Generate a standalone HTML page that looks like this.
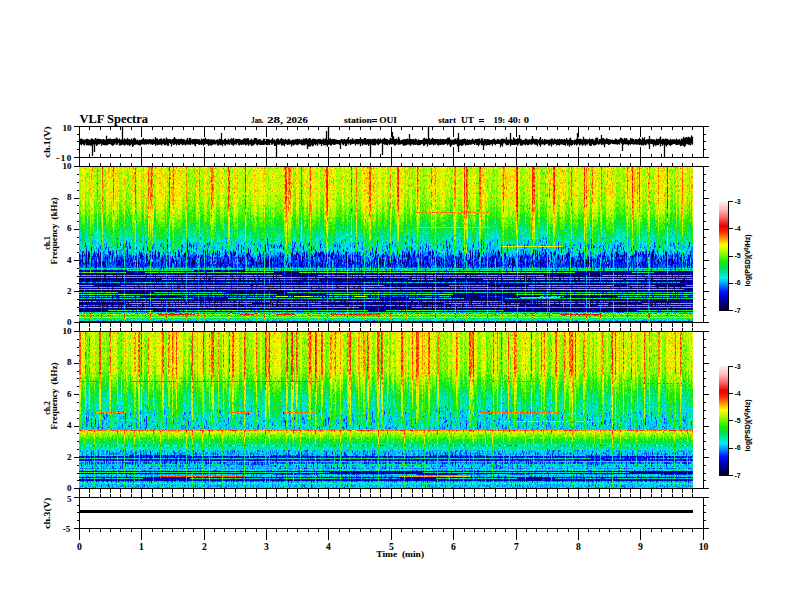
<!DOCTYPE html>
<html><head><meta charset="utf-8"><style>html,body{margin:0;padding:0;background:#fff;width:792px;height:612px;overflow:hidden}</style></head>
<body>
<svg width="792" height="612" viewBox="0 0 792 612" style="position:absolute;left:0;top:0">
<defs>
<filter id="cm1" filterUnits="userSpaceOnUse" x="79" y="167" width="614" height="155" color-interpolation-filters="sRGB">
<feTurbulence type="fractalNoise" baseFrequency="0.95 0.4" numOctaves="2" seed="6" result="n"/>
<feColorMatrix in="n" type="matrix" values="1 0 0 0 0  1 0 0 0 0  1 0 0 0 0  0 0 0 0 1" result="ng"/>
<feComposite in="SourceGraphic" in2="ng" operator="arithmetic" k1="0" k2="1" k3="0.26" k4="-0.13" result="v"/>
<feComponentTransfer in="v">
<feFuncR type="table" tableValues="0.059 0.047 0.035 0.024 0.012 0.000 0.000 0.000 0.000 0.000 0.000 0.000 0.000 0.000 0.000 0.000 0.000 0.000 0.000 0.000 0.000 0.000 0.000 0.000 0.000 0.000 0.000 0.000 0.000 0.000 0.000 0.000 0.000 0.029 0.059 0.088 0.118 0.186 0.255 0.324 0.392 0.480 0.569 0.657 0.745 0.809 0.873 0.936 1.000 1.000 1.000 1.000 1.000 1.000 1.000 1.000 1.000 1.000 1.000 0.980 0.961 0.941 0.922 0.935 0.948 0.961 0.974 0.987 1.000 1.000 1.000 1.000 1.000 1.000 1.000 1.000 1.000 1.000 1.000 1.000 1.000"/>
<feFuncG type="table" tableValues="0.000 0.000 0.000 0.000 0.000 0.000 0.000 0.000 0.000 0.000 0.000 0.020 0.039 0.059 0.078 0.167 0.255 0.343 0.431 0.520 0.608 0.696 0.784 0.863 0.941 0.931 0.922 0.912 0.902 0.897 0.892 0.887 0.882 0.892 0.902 0.912 0.922 0.936 0.951 0.966 0.980 0.980 0.980 0.980 0.980 0.985 0.990 0.995 1.000 0.915 0.830 0.745 0.654 0.562 0.471 0.382 0.294 0.206 0.118 0.088 0.059 0.029 0.000 0.065 0.131 0.196 0.261 0.327 0.392 0.451 0.510 0.569 0.627 0.686 0.745 0.779 0.813 0.847 0.881 0.915 0.949"/>
<feFuncB type="table" tableValues="0.137 0.196 0.255 0.314 0.373 0.431 0.502 0.573 0.643 0.714 0.784 0.838 0.892 0.946 1.000 1.000 1.000 1.000 1.000 1.000 1.000 1.000 1.000 0.971 0.941 0.853 0.765 0.676 0.588 0.510 0.431 0.353 0.275 0.206 0.137 0.069 0.000 0.000 0.000 0.000 0.000 0.000 0.000 0.000 0.000 0.000 0.000 0.000 0.000 0.000 0.000 0.000 0.000 0.000 0.000 0.000 0.000 0.000 0.000 0.000 0.000 0.000 0.000 0.065 0.131 0.196 0.261 0.327 0.392 0.451 0.510 0.569 0.627 0.686 0.745 0.781 0.817 0.853 0.889 0.925 0.961"/>
</feComponentTransfer></filter>
<filter id="cm2" filterUnits="userSpaceOnUse" x="79" y="332" width="614" height="156" color-interpolation-filters="sRGB">
<feTurbulence type="fractalNoise" baseFrequency="0.95 0.4" numOctaves="2" seed="11" result="n"/>
<feColorMatrix in="n" type="matrix" values="1 0 0 0 0  1 0 0 0 0  1 0 0 0 0  0 0 0 0 1" result="ng"/>
<feComposite in="SourceGraphic" in2="ng" operator="arithmetic" k1="0" k2="1" k3="0.26" k4="-0.13" result="v"/>
<feComponentTransfer in="v">
<feFuncR type="table" tableValues="0.059 0.047 0.035 0.024 0.012 0.000 0.000 0.000 0.000 0.000 0.000 0.000 0.000 0.000 0.000 0.000 0.000 0.000 0.000 0.000 0.000 0.000 0.000 0.000 0.000 0.000 0.000 0.000 0.000 0.000 0.000 0.000 0.000 0.029 0.059 0.088 0.118 0.186 0.255 0.324 0.392 0.480 0.569 0.657 0.745 0.809 0.873 0.936 1.000 1.000 1.000 1.000 1.000 1.000 1.000 1.000 1.000 1.000 1.000 0.980 0.961 0.941 0.922 0.935 0.948 0.961 0.974 0.987 1.000 1.000 1.000 1.000 1.000 1.000 1.000 1.000 1.000 1.000 1.000 1.000 1.000"/>
<feFuncG type="table" tableValues="0.000 0.000 0.000 0.000 0.000 0.000 0.000 0.000 0.000 0.000 0.000 0.020 0.039 0.059 0.078 0.167 0.255 0.343 0.431 0.520 0.608 0.696 0.784 0.863 0.941 0.931 0.922 0.912 0.902 0.897 0.892 0.887 0.882 0.892 0.902 0.912 0.922 0.936 0.951 0.966 0.980 0.980 0.980 0.980 0.980 0.985 0.990 0.995 1.000 0.915 0.830 0.745 0.654 0.562 0.471 0.382 0.294 0.206 0.118 0.088 0.059 0.029 0.000 0.065 0.131 0.196 0.261 0.327 0.392 0.451 0.510 0.569 0.627 0.686 0.745 0.779 0.813 0.847 0.881 0.915 0.949"/>
<feFuncB type="table" tableValues="0.137 0.196 0.255 0.314 0.373 0.431 0.502 0.573 0.643 0.714 0.784 0.838 0.892 0.946 1.000 1.000 1.000 1.000 1.000 1.000 1.000 1.000 1.000 0.971 0.941 0.853 0.765 0.676 0.588 0.510 0.431 0.353 0.275 0.206 0.137 0.069 0.000 0.000 0.000 0.000 0.000 0.000 0.000 0.000 0.000 0.000 0.000 0.000 0.000 0.000 0.000 0.000 0.000 0.000 0.000 0.000 0.000 0.000 0.000 0.000 0.000 0.000 0.000 0.065 0.131 0.196 0.261 0.327 0.392 0.451 0.510 0.569 0.627 0.686 0.745 0.781 0.817 0.853 0.889 0.925 0.961"/>
</feComponentTransfer></filter>
<filter id="dash1" x="0" y="0" width="1" height="1" color-interpolation-filters="sRGB">
<feTurbulence type="fractalNoise" baseFrequency="0.8 0.12" numOctaves="2" seed="10" result="t"/>
<feColorMatrix in="t" type="matrix" values="0 0 0 0 0  0 0 0 0 0  0 0 0 0 0  9 0 0 0 -4.9" result="m"/>
<feComposite in="m" in2="SourceGraphic" operator="in"/>
</filter>
<filter id="dash2" x="0" y="0" width="1" height="1" color-interpolation-filters="sRGB">
<feTurbulence type="fractalNoise" baseFrequency="0.8 0.12" numOctaves="2" seed="17" result="t"/>
<feColorMatrix in="t" type="matrix" values="0 0 0 0 0  0 0 0 0 0  0 0 0 0 0  9 0 0 0 -4.9" result="m"/>
<feComposite in="m" in2="SourceGraphic" operator="in"/>
</filter>
</defs>
<rect width="792" height="612" fill="#fff"/>
<g filter="url(#cm1)" shape-rendering="crispEdges">
<rect x="79" y="167" width="614" height="1" fill="#838383"/>
<rect x="79" y="168" width="614" height="1" fill="#838383"/>
<rect x="79" y="169" width="614" height="1" fill="#838383"/>
<rect x="79" y="170" width="614" height="1" fill="#828282"/>
<rect x="79" y="171" width="614" height="1" fill="#828282"/>
<rect x="79" y="172" width="614" height="1" fill="#828282"/>
<rect x="79" y="173" width="614" height="1" fill="#828282"/>
<rect x="79" y="174" width="614" height="1" fill="#828282"/>
<rect x="79" y="175" width="614" height="1" fill="#828282"/>
<rect x="79" y="176" width="614" height="1" fill="#828282"/>
<rect x="79" y="177" width="614" height="1" fill="#828282"/>
<rect x="79" y="178" width="614" height="1" fill="#828282"/>
<rect x="79" y="179" width="614" height="1" fill="#828282"/>
<rect x="79" y="180" width="614" height="1" fill="#828282"/>
<rect x="79" y="181" width="614" height="1" fill="#828282"/>
<rect x="79" y="182" width="614" height="1" fill="#818181"/>
<rect x="79" y="183" width="614" height="1" fill="#818181"/>
<rect x="79" y="184" width="614" height="1" fill="#818181"/>
<rect x="79" y="185" width="614" height="1" fill="#818181"/>
<rect x="79" y="186" width="614" height="1" fill="#818181"/>
<rect x="79" y="187" width="614" height="1" fill="#818181"/>
<rect x="79" y="188" width="614" height="1" fill="#818181"/>
<rect x="79" y="189" width="614" height="1" fill="#818181"/>
<rect x="79" y="190" width="614" height="1" fill="#818181"/>
<rect x="79" y="191" width="614" height="1" fill="#808080"/>
<rect x="79" y="192" width="614" height="1" fill="#808080"/>
<rect x="79" y="193" width="614" height="1" fill="#7f7f7f"/>
<rect x="79" y="194" width="614" height="1" fill="#7f7f7f"/>
<rect x="79" y="195" width="614" height="1" fill="#7f7f7f"/>
<rect x="79" y="196" width="614" height="1" fill="#7e7e7e"/>
<rect x="79" y="197" width="614" height="1" fill="#7e7e7e"/>
<rect x="79" y="198" width="614" height="1" fill="#7d7d7d"/>
<rect x="79" y="199" width="614" height="1" fill="#7d7d7d"/>
<rect x="79" y="200" width="614" height="1" fill="#7c7c7c"/>
<rect x="79" y="201" width="614" height="1" fill="#7b7b7b"/>
<rect x="79" y="202" width="614" height="1" fill="#7b7b7b"/>
<rect x="79" y="203" width="614" height="1" fill="#7a7a7a"/>
<rect x="79" y="204" width="614" height="1" fill="#797979"/>
<rect x="79" y="205" width="614" height="1" fill="#787878"/>
<rect x="79" y="206" width="614" height="1" fill="#777777"/>
<rect x="79" y="207" width="614" height="1" fill="#767676"/>
<rect x="79" y="208" width="614" height="1" fill="#757575"/>
<rect x="79" y="209" width="614" height="1" fill="#747474"/>
<rect x="79" y="210" width="614" height="1" fill="#737373"/>
<rect x="79" y="211" width="614" height="1" fill="#727272"/>
<rect x="79" y="212" width="614" height="1" fill="#717171"/>
<rect x="79" y="213" width="614" height="1" fill="#707070"/>
<rect x="79" y="214" width="614" height="1" fill="#6e6e6e"/>
<rect x="79" y="215" width="614" height="1" fill="#6d6d6d"/>
<rect x="79" y="216" width="614" height="1" fill="#6b6b6b"/>
<rect x="79" y="217" width="614" height="1" fill="#696969"/>
<rect x="79" y="218" width="614" height="1" fill="#686868"/>
<rect x="79" y="219" width="614" height="1" fill="#666666"/>
<rect x="79" y="220" width="614" height="1" fill="#656565"/>
<rect x="79" y="221" width="614" height="1" fill="#636363"/>
<rect x="79" y="222" width="614" height="1" fill="#616161"/>
<rect x="79" y="223" width="614" height="1" fill="#606060"/>
<rect x="79" y="224" width="614" height="1" fill="#5e5e5e"/>
<rect x="79" y="225" width="614" height="1" fill="#5d5d5d"/>
<rect x="79" y="226" width="614" height="1" fill="#5b5b5b"/>
<rect x="79" y="227" width="614" height="1" fill="#595959"/>
<rect x="79" y="228" width="614" height="1" fill="#585858"/>
<rect x="79" y="229" width="614" height="1" fill="#565656"/>
<rect x="79" y="230" width="614" height="1" fill="#555555"/>
<rect x="79" y="231" width="614" height="1" fill="#545454"/>
<rect x="79" y="232" width="614" height="1" fill="#525252"/>
<rect x="79" y="233" width="614" height="1" fill="#515151"/>
<rect x="79" y="234" width="614" height="1" fill="#505050"/>
<rect x="79" y="235" width="614" height="1" fill="#4f4f4f"/>
<rect x="79" y="236" width="614" height="1" fill="#4e4e4e"/>
<rect x="79" y="237" width="614" height="1" fill="#4c4c4c"/>
<rect x="79" y="238" width="614" height="1" fill="#4b4b4b"/>
<rect x="79" y="239" width="614" height="1" fill="#4a4a4a"/>
<rect x="79" y="240" width="614" height="1" fill="#494949"/>
<rect x="79" y="241" width="614" height="1" fill="#484848"/>
<rect x="79" y="242" width="614" height="1" fill="#474747"/>
<rect x="79" y="243" width="614" height="1" fill="#454545"/>
<rect x="79" y="244" width="614" height="1" fill="#444444"/>
<rect x="79" y="245" width="614" height="1" fill="#434343"/>
<rect x="79" y="246" width="614" height="1" fill="#424242"/>
<rect x="79" y="247" width="614" height="1" fill="#424242"/>
<rect x="79" y="248" width="614" height="1" fill="#414141"/>
<rect x="79" y="249" width="614" height="1" fill="#404040"/>
<rect x="79" y="250" width="614" height="1" fill="#404040"/>
<rect x="79" y="251" width="614" height="1" fill="#3d3d3d"/>
<rect x="79" y="252" width="614" height="1" fill="#3b3b3b"/>
<rect x="79" y="253" width="614" height="1" fill="#393939"/>
<rect x="79" y="254" width="614" height="1" fill="#363636"/>
<rect x="79" y="255" width="614" height="1" fill="#313131"/>
<rect x="79" y="256" width="614" height="1" fill="#2d2d2d"/>
<rect x="79" y="257" width="614" height="1" fill="#2c2c2c"/>
<rect x="79" y="258" width="614" height="1" fill="#2c2c2c"/>
<rect x="79" y="259" width="614" height="1" fill="#2c2c2c"/>
<rect x="79" y="260" width="614" height="1" fill="#2b2b2b"/>
<rect x="79" y="261" width="614" height="1" fill="#2b2b2b"/>
<rect x="79" y="262" width="614" height="1" fill="#2b2b2b"/>
<rect x="79" y="263" width="614" height="1" fill="#2a2a2a"/>
<rect x="79" y="264" width="614" height="1" fill="#2a2a2a"/>
<rect x="79" y="265" width="614" height="1" fill="#292929"/>
<rect x="79" y="266" width="614" height="1" fill="#2e2e2e"/>
<rect x="79" y="267" width="614" height="1" fill="#333333"/>
<rect x="79" y="268" width="614" height="1" fill="#535353"/>
<rect x="79" y="269" width="614" height="1" fill="#404040"/>
<rect x="79" y="270" width="614" height="1" fill="#101010"/>
<rect x="79" y="271" width="614" height="1" fill="#101010"/>
<rect x="79" y="272" width="614" height="1" fill="#101010"/>
<rect x="79" y="273" width="614" height="1" fill="#101010"/>
<rect x="79" y="274" width="614" height="1" fill="#101010"/>
<rect x="79" y="275" width="614" height="1" fill="#101010"/>
<rect x="79" y="276" width="614" height="1" fill="#101010"/>
<rect x="79" y="277" width="614" height="1" fill="#101010"/>
<rect x="79" y="278" width="614" height="1" fill="#101010"/>
<rect x="79" y="279" width="614" height="1" fill="#101010"/>
<rect x="79" y="280" width="614" height="1" fill="#101010"/>
<rect x="79" y="281" width="614" height="1" fill="#101010"/>
<rect x="79" y="282" width="614" height="1" fill="#101010"/>
<rect x="79" y="283" width="614" height="1" fill="#101010"/>
<rect x="79" y="284" width="614" height="1" fill="#101010"/>
<rect x="79" y="285" width="614" height="1" fill="#101010"/>
<rect x="79" y="286" width="614" height="1" fill="#101010"/>
<rect x="79" y="287" width="614" height="1" fill="#101010"/>
<rect x="79" y="288" width="614" height="1" fill="#101010"/>
<rect x="79" y="289" width="614" height="1" fill="#101010"/>
<rect x="79" y="290" width="614" height="1" fill="#101010"/>
<rect x="79" y="291" width="614" height="1" fill="#101010"/>
<rect x="79" y="292" width="614" height="1" fill="#101010"/>
<rect x="79" y="293" width="614" height="1" fill="#101010"/>
<rect x="79" y="294" width="614" height="1" fill="#101010"/>
<rect x="79" y="295" width="614" height="1" fill="#101010"/>
<rect x="79" y="296" width="614" height="1" fill="#101010"/>
<rect x="79" y="297" width="614" height="1" fill="#101010"/>
<rect x="79" y="298" width="614" height="1" fill="#101010"/>
<rect x="79" y="299" width="614" height="1" fill="#101010"/>
<rect x="79" y="300" width="614" height="1" fill="#101010"/>
<rect x="79" y="301" width="614" height="1" fill="#101010"/>
<rect x="79" y="302" width="614" height="1" fill="#101010"/>
<rect x="79" y="303" width="614" height="1" fill="#101010"/>
<rect x="79" y="304" width="614" height="1" fill="#101010"/>
<rect x="79" y="305" width="614" height="1" fill="#101010"/>
<rect x="79" y="306" width="614" height="1" fill="#101010"/>
<rect x="79" y="307" width="614" height="1" fill="#101010"/>
<rect x="79" y="308" width="614" height="1" fill="#101010"/>
<rect x="79" y="309" width="614" height="1" fill="#101010"/>
<rect x="79" y="310" width="614" height="1" fill="#101010"/>
<rect x="79" y="311" width="614" height="1" fill="#101010"/>
<rect x="79" y="312" width="614" height="1" fill="#595959"/>
<rect x="79" y="313" width="614" height="1" fill="#b2b2b2"/>
<rect x="79" y="314" width="614" height="1" fill="#808080"/>
<rect x="79" y="315" width="614" height="1" fill="#a9a9a9"/>
<rect x="79" y="316" width="614" height="1" fill="#737373"/>
<rect x="79" y="317" width="614" height="1" fill="#939393"/>
<rect x="79" y="318" width="614" height="1" fill="#606060"/>
<rect x="79" y="319" width="614" height="1" fill="#494949"/>
<rect x="79" y="320" width="614" height="1" fill="#464646"/>
<rect x="79" y="321" width="614" height="1" fill="#131313"/>
<rect x="79" y="270" width="48" height="1" fill="#1b1b1b"/>
<rect x="127" y="270" width="18" height="1" fill="#5a5a5a"/>
<rect x="145" y="270" width="49" height="1" fill="#6a6a6a"/>
<rect x="194" y="270" width="51" height="1" fill="#191919"/>
<rect x="245" y="270" width="51" height="1" fill="#595959"/>
<rect x="296" y="270" width="45" height="1" fill="#525252"/>
<rect x="341" y="270" width="45" height="1" fill="#545454"/>
<rect x="386" y="270" width="47" height="1" fill="#565656"/>
<rect x="433" y="270" width="62" height="1" fill="#5b5b5b"/>
<rect x="495" y="270" width="30" height="1" fill="#545454"/>
<rect x="525" y="270" width="38" height="1" fill="#585858"/>
<rect x="563" y="270" width="26" height="1" fill="#595959"/>
<rect x="589" y="270" width="16" height="1" fill="#5d5d5d"/>
<rect x="605" y="270" width="40" height="1" fill="#545454"/>
<rect x="645" y="270" width="33" height="1" fill="#5c5c5c"/>
<rect x="678" y="270" width="15" height="1" fill="#686868"/>
<rect x="79" y="272" width="47" height="1" fill="#767676"/>
<rect x="126" y="272" width="19" height="1" fill="#1a1a1a"/>
<rect x="145" y="272" width="40" height="1" fill="#707070"/>
<rect x="185" y="272" width="25" height="1" fill="#676767"/>
<rect x="210" y="272" width="64" height="1" fill="#757575"/>
<rect x="274" y="272" width="25" height="1" fill="#0f0f0f"/>
<rect x="299" y="272" width="54" height="1" fill="#818181"/>
<rect x="353" y="272" width="26" height="1" fill="#747474"/>
<rect x="379" y="272" width="68" height="1" fill="#7c7c7c"/>
<rect x="447" y="272" width="38" height="1" fill="#7c7c7c"/>
<rect x="485" y="272" width="17" height="1" fill="#636363"/>
<rect x="502" y="272" width="28" height="1" fill="#838383"/>
<rect x="530" y="272" width="45" height="1" fill="#777777"/>
<rect x="575" y="272" width="57" height="1" fill="#161616"/>
<rect x="632" y="272" width="22" height="1" fill="#696969"/>
<rect x="654" y="272" width="39" height="1" fill="#101010"/>
<rect x="79" y="275" width="34" height="1" fill="#505050"/>
<rect x="113" y="275" width="49" height="1" fill="#474747"/>
<rect x="162" y="275" width="19" height="1" fill="#646464"/>
<rect x="181" y="275" width="17" height="1" fill="#515151"/>
<rect x="198" y="275" width="50" height="1" fill="#484848"/>
<rect x="248" y="275" width="34" height="1" fill="#4c4c4c"/>
<rect x="282" y="275" width="36" height="1" fill="#0b0b0b"/>
<rect x="318" y="275" width="45" height="1" fill="#464646"/>
<rect x="363" y="275" width="53" height="1" fill="#585858"/>
<rect x="416" y="275" width="52" height="1" fill="#4a4a4a"/>
<rect x="468" y="275" width="17" height="1" fill="#474747"/>
<rect x="485" y="275" width="59" height="1" fill="#4a4a4a"/>
<rect x="544" y="275" width="58" height="1" fill="#111111"/>
<rect x="602" y="275" width="42" height="1" fill="#515151"/>
<rect x="644" y="275" width="48" height="1" fill="#5f5f5f"/>
<rect x="692" y="275" width="1" height="1" fill="#606060"/>
<rect x="79" y="277" width="52" height="1" fill="#606060"/>
<rect x="131" y="277" width="68" height="1" fill="#5c5c5c"/>
<rect x="199" y="277" width="16" height="1" fill="#5a5a5a"/>
<rect x="215" y="277" width="58" height="1" fill="#616161"/>
<rect x="273" y="277" width="56" height="1" fill="#5a5a5a"/>
<rect x="329" y="277" width="33" height="1" fill="#626262"/>
<rect x="362" y="277" width="52" height="1" fill="#515151"/>
<rect x="414" y="277" width="58" height="1" fill="#575757"/>
<rect x="472" y="277" width="18" height="1" fill="#616161"/>
<rect x="490" y="277" width="53" height="1" fill="#565656"/>
<rect x="543" y="277" width="63" height="1" fill="#535353"/>
<rect x="606" y="277" width="35" height="1" fill="#6f6f6f"/>
<rect x="641" y="277" width="40" height="1" fill="#636363"/>
<rect x="681" y="277" width="12" height="1" fill="#686868"/>
<rect x="79" y="279" width="43" height="1" fill="#0b0b0b"/>
<rect x="122" y="279" width="40" height="1" fill="#1d1d1d"/>
<rect x="162" y="279" width="44" height="1" fill="#555555"/>
<rect x="206" y="279" width="26" height="1" fill="#4b4b4b"/>
<rect x="232" y="279" width="30" height="1" fill="#464646"/>
<rect x="262" y="279" width="57" height="1" fill="#3b3b3b"/>
<rect x="319" y="279" width="55" height="1" fill="#0d0d0d"/>
<rect x="374" y="279" width="34" height="1" fill="#0b0b0b"/>
<rect x="408" y="279" width="27" height="1" fill="#464646"/>
<rect x="435" y="279" width="48" height="1" fill="#121212"/>
<rect x="483" y="279" width="63" height="1" fill="#4b4b4b"/>
<rect x="546" y="279" width="63" height="1" fill="#434343"/>
<rect x="609" y="279" width="56" height="1" fill="#555555"/>
<rect x="665" y="279" width="28" height="1" fill="#4e4e4e"/>
<rect x="79" y="282" width="64" height="1" fill="#3e3e3e"/>
<rect x="143" y="282" width="35" height="1" fill="#474747"/>
<rect x="178" y="282" width="54" height="1" fill="#383838"/>
<rect x="232" y="282" width="42" height="1" fill="#383838"/>
<rect x="274" y="282" width="24" height="1" fill="#393939"/>
<rect x="298" y="282" width="66" height="1" fill="#313131"/>
<rect x="364" y="282" width="24" height="1" fill="#4a4a4a"/>
<rect x="388" y="282" width="21" height="1" fill="#484848"/>
<rect x="409" y="282" width="47" height="1" fill="#454545"/>
<rect x="456" y="282" width="65" height="1" fill="#3a3a3a"/>
<rect x="521" y="282" width="41" height="1" fill="#474747"/>
<rect x="562" y="282" width="36" height="1" fill="#3f3f3f"/>
<rect x="598" y="282" width="28" height="1" fill="#464646"/>
<rect x="626" y="282" width="54" height="1" fill="#3f3f3f"/>
<rect x="680" y="282" width="13" height="1" fill="#151515"/>
<rect x="79" y="285" width="15" height="1" fill="#6e6e6e"/>
<rect x="94" y="285" width="27" height="1" fill="#111111"/>
<rect x="121" y="285" width="33" height="1" fill="#656565"/>
<rect x="154" y="285" width="35" height="1" fill="#656565"/>
<rect x="189" y="285" width="15" height="1" fill="#6c6c6c"/>
<rect x="204" y="285" width="36" height="1" fill="#656565"/>
<rect x="240" y="285" width="49" height="1" fill="#525252"/>
<rect x="289" y="285" width="39" height="1" fill="#727272"/>
<rect x="328" y="285" width="56" height="1" fill="#757575"/>
<rect x="384" y="285" width="65" height="1" fill="#0d0d0d"/>
<rect x="449" y="285" width="37" height="1" fill="#696969"/>
<rect x="486" y="285" width="43" height="1" fill="#171717"/>
<rect x="529" y="285" width="17" height="1" fill="#515151"/>
<rect x="546" y="285" width="37" height="1" fill="#6a6a6a"/>
<rect x="583" y="285" width="30" height="1" fill="#707070"/>
<rect x="613" y="285" width="16" height="1" fill="#1c1c1c"/>
<rect x="629" y="285" width="26" height="1" fill="#616161"/>
<rect x="655" y="285" width="31" height="1" fill="#111111"/>
<rect x="686" y="285" width="7" height="1" fill="#5e5e5e"/>
<rect x="79" y="287" width="63" height="1" fill="#696969"/>
<rect x="142" y="287" width="54" height="1" fill="#6a6a6a"/>
<rect x="196" y="287" width="24" height="1" fill="#767676"/>
<rect x="220" y="287" width="53" height="1" fill="#696969"/>
<rect x="273" y="287" width="38" height="1" fill="#676767"/>
<rect x="311" y="287" width="53" height="1" fill="#5a5a5a"/>
<rect x="364" y="287" width="36" height="1" fill="#757575"/>
<rect x="400" y="287" width="41" height="1" fill="#616161"/>
<rect x="441" y="287" width="61" height="1" fill="#696969"/>
<rect x="502" y="287" width="65" height="1" fill="#6a6a6a"/>
<rect x="567" y="287" width="20" height="1" fill="#6b6b6b"/>
<rect x="587" y="287" width="59" height="1" fill="#656565"/>
<rect x="646" y="287" width="47" height="1" fill="#656565"/>
<rect x="79" y="289" width="25" height="1" fill="#767676"/>
<rect x="104" y="289" width="50" height="1" fill="#808080"/>
<rect x="154" y="289" width="32" height="1" fill="#767676"/>
<rect x="186" y="289" width="63" height="1" fill="#6b6b6b"/>
<rect x="249" y="289" width="29" height="1" fill="#767676"/>
<rect x="278" y="289" width="32" height="1" fill="#8b8b8b"/>
<rect x="310" y="289" width="68" height="1" fill="#707070"/>
<rect x="378" y="289" width="57" height="1" fill="#696969"/>
<rect x="435" y="289" width="54" height="1" fill="#707070"/>
<rect x="489" y="289" width="27" height="1" fill="#737373"/>
<rect x="516" y="289" width="41" height="1" fill="#737373"/>
<rect x="557" y="289" width="59" height="1" fill="#848484"/>
<rect x="616" y="289" width="68" height="1" fill="#7b7b7b"/>
<rect x="684" y="289" width="9" height="1" fill="#0c0c0c"/>
<rect x="79" y="292" width="39" height="1" fill="#797979"/>
<rect x="118" y="292" width="36" height="1" fill="#0f0f0f"/>
<rect x="154" y="292" width="27" height="1" fill="#5c5c5c"/>
<rect x="181" y="292" width="46" height="1" fill="#545454"/>
<rect x="227" y="292" width="60" height="1" fill="#0b0b0b"/>
<rect x="287" y="292" width="62" height="1" fill="#636363"/>
<rect x="349" y="292" width="67" height="1" fill="#6c6c6c"/>
<rect x="416" y="292" width="28" height="1" fill="#616161"/>
<rect x="444" y="292" width="58" height="1" fill="#575757"/>
<rect x="502" y="292" width="17" height="1" fill="#666666"/>
<rect x="519" y="292" width="64" height="1" fill="#6e6e6e"/>
<rect x="583" y="292" width="64" height="1" fill="#575757"/>
<rect x="647" y="292" width="39" height="1" fill="#5f5f5f"/>
<rect x="686" y="292" width="7" height="1" fill="#595959"/>
<rect x="79" y="294" width="51" height="1" fill="#7c7c7c"/>
<rect x="130" y="294" width="59" height="1" fill="#727272"/>
<rect x="189" y="294" width="39" height="1" fill="#747474"/>
<rect x="228" y="294" width="49" height="1" fill="#656565"/>
<rect x="277" y="294" width="49" height="1" fill="#141414"/>
<rect x="326" y="294" width="67" height="1" fill="#7f7f7f"/>
<rect x="393" y="294" width="20" height="1" fill="#6d6d6d"/>
<rect x="413" y="294" width="40" height="1" fill="#7f7f7f"/>
<rect x="453" y="294" width="63" height="1" fill="#101010"/>
<rect x="516" y="294" width="66" height="1" fill="#797979"/>
<rect x="582" y="294" width="65" height="1" fill="#7f7f7f"/>
<rect x="647" y="294" width="17" height="1" fill="#767676"/>
<rect x="664" y="294" width="24" height="1" fill="#7e7e7e"/>
<rect x="688" y="294" width="5" height="1" fill="#757575"/>
<rect x="79" y="296" width="61" height="1" fill="#424242"/>
<rect x="140" y="296" width="42" height="1" fill="#0f0f0f"/>
<rect x="182" y="296" width="47" height="1" fill="#363636"/>
<rect x="229" y="296" width="49" height="1" fill="#3c3c3c"/>
<rect x="278" y="296" width="19" height="1" fill="#3d3d3d"/>
<rect x="297" y="296" width="26" height="1" fill="#484848"/>
<rect x="323" y="296" width="15" height="1" fill="#525252"/>
<rect x="338" y="296" width="19" height="1" fill="#434343"/>
<rect x="357" y="296" width="34" height="1" fill="#3a3a3a"/>
<rect x="391" y="296" width="39" height="1" fill="#323232"/>
<rect x="430" y="296" width="21" height="1" fill="#3e3e3e"/>
<rect x="451" y="296" width="27" height="1" fill="#0e0e0e"/>
<rect x="478" y="296" width="27" height="1" fill="#2c2c2c"/>
<rect x="505" y="296" width="35" height="1" fill="#0f0f0f"/>
<rect x="540" y="296" width="24" height="1" fill="#4b4b4b"/>
<rect x="564" y="296" width="54" height="1" fill="#0b0b0b"/>
<rect x="618" y="296" width="38" height="1" fill="#585858"/>
<rect x="656" y="296" width="19" height="1" fill="#464646"/>
<rect x="675" y="296" width="18" height="1" fill="#474747"/>
<rect x="79" y="298" width="46" height="1" fill="#505050"/>
<rect x="125" y="298" width="47" height="1" fill="#606060"/>
<rect x="172" y="298" width="22" height="1" fill="#535353"/>
<rect x="194" y="298" width="34" height="1" fill="#1a1a1a"/>
<rect x="228" y="298" width="54" height="1" fill="#5e5e5e"/>
<rect x="282" y="298" width="37" height="1" fill="#636363"/>
<rect x="319" y="298" width="61" height="1" fill="#5b5b5b"/>
<rect x="380" y="298" width="29" height="1" fill="#141414"/>
<rect x="409" y="298" width="21" height="1" fill="#5a5a5a"/>
<rect x="430" y="298" width="34" height="1" fill="#4b4b4b"/>
<rect x="464" y="298" width="41" height="1" fill="#0f0f0f"/>
<rect x="505" y="298" width="61" height="1" fill="#5d5d5d"/>
<rect x="566" y="298" width="63" height="1" fill="#696969"/>
<rect x="629" y="298" width="53" height="1" fill="#696969"/>
<rect x="682" y="298" width="11" height="1" fill="#6d6d6d"/>
<rect x="79" y="301" width="17" height="1" fill="#4b4b4b"/>
<rect x="96" y="301" width="29" height="1" fill="#3b3b3b"/>
<rect x="125" y="301" width="61" height="1" fill="#414141"/>
<rect x="186" y="301" width="23" height="1" fill="#373737"/>
<rect x="209" y="301" width="36" height="1" fill="#383838"/>
<rect x="245" y="301" width="48" height="1" fill="#414141"/>
<rect x="293" y="301" width="42" height="1" fill="#3d3d3d"/>
<rect x="335" y="301" width="48" height="1" fill="#474747"/>
<rect x="383" y="301" width="65" height="1" fill="#434343"/>
<rect x="448" y="301" width="27" height="1" fill="#404040"/>
<rect x="475" y="301" width="28" height="1" fill="#474747"/>
<rect x="503" y="301" width="27" height="1" fill="#161616"/>
<rect x="530" y="301" width="54" height="1" fill="#3e3e3e"/>
<rect x="584" y="301" width="57" height="1" fill="#3c3c3c"/>
<rect x="641" y="301" width="52" height="1" fill="#1b1b1b"/>
<rect x="79" y="303" width="47" height="1" fill="#0c0c0c"/>
<rect x="126" y="303" width="17" height="1" fill="#575757"/>
<rect x="143" y="303" width="49" height="1" fill="#5c5c5c"/>
<rect x="192" y="303" width="60" height="1" fill="#5e5e5e"/>
<rect x="252" y="303" width="19" height="1" fill="#0b0b0b"/>
<rect x="271" y="303" width="20" height="1" fill="#525252"/>
<rect x="291" y="303" width="30" height="1" fill="#4c4c4c"/>
<rect x="321" y="303" width="30" height="1" fill="#121212"/>
<rect x="351" y="303" width="47" height="1" fill="#191919"/>
<rect x="398" y="303" width="46" height="1" fill="#1a1a1a"/>
<rect x="444" y="303" width="30" height="1" fill="#4e4e4e"/>
<rect x="474" y="303" width="65" height="1" fill="#3f3f3f"/>
<rect x="539" y="303" width="27" height="1" fill="#4b4b4b"/>
<rect x="566" y="303" width="43" height="1" fill="#515151"/>
<rect x="609" y="303" width="33" height="1" fill="#131313"/>
<rect x="642" y="303" width="39" height="1" fill="#464646"/>
<rect x="681" y="303" width="12" height="1" fill="#515151"/>
<rect x="79" y="305" width="27" height="1" fill="#373737"/>
<rect x="106" y="305" width="16" height="1" fill="#3b3b3b"/>
<rect x="122" y="305" width="48" height="1" fill="#3a3a3a"/>
<rect x="170" y="305" width="34" height="1" fill="#4d4d4d"/>
<rect x="204" y="305" width="47" height="1" fill="#383838"/>
<rect x="251" y="305" width="29" height="1" fill="#3a3a3a"/>
<rect x="280" y="305" width="32" height="1" fill="#343434"/>
<rect x="312" y="305" width="32" height="1" fill="#565656"/>
<rect x="344" y="305" width="21" height="1" fill="#404040"/>
<rect x="365" y="305" width="49" height="1" fill="#444444"/>
<rect x="414" y="305" width="66" height="1" fill="#3b3b3b"/>
<rect x="480" y="305" width="39" height="1" fill="#484848"/>
<rect x="519" y="305" width="21" height="1" fill="#1a1a1a"/>
<rect x="540" y="305" width="58" height="1" fill="#272727"/>
<rect x="598" y="305" width="68" height="1" fill="#464646"/>
<rect x="666" y="305" width="27" height="1" fill="#464646"/>
<rect x="79" y="307" width="37" height="1" fill="#595959"/>
<rect x="116" y="307" width="39" height="1" fill="#6a6a6a"/>
<rect x="155" y="307" width="43" height="1" fill="#7d7d7d"/>
<rect x="198" y="307" width="66" height="1" fill="#777777"/>
<rect x="264" y="307" width="43" height="1" fill="#6e6e6e"/>
<rect x="307" y="307" width="52" height="1" fill="#676767"/>
<rect x="359" y="307" width="52" height="1" fill="#181818"/>
<rect x="411" y="307" width="49" height="1" fill="#535353"/>
<rect x="460" y="307" width="63" height="1" fill="#5b5b5b"/>
<rect x="523" y="307" width="69" height="1" fill="#666666"/>
<rect x="592" y="307" width="69" height="1" fill="#6d6d6d"/>
<rect x="661" y="307" width="22" height="1" fill="#636363"/>
<rect x="683" y="307" width="10" height="1" fill="#5e5e5e"/>
<rect x="79" y="310" width="29" height="1" fill="#0d0d0d"/>
<rect x="108" y="310" width="45" height="1" fill="#767676"/>
<rect x="153" y="310" width="24" height="1" fill="#0e0e0e"/>
<rect x="177" y="310" width="29" height="1" fill="#666666"/>
<rect x="206" y="310" width="56" height="1" fill="#7f7f7f"/>
<rect x="262" y="310" width="44" height="1" fill="#7f7f7f"/>
<rect x="306" y="310" width="62" height="1" fill="#6e6e6e"/>
<rect x="368" y="310" width="18" height="1" fill="#101010"/>
<rect x="386" y="310" width="55" height="1" fill="#7a7a7a"/>
<rect x="441" y="310" width="21" height="1" fill="#727272"/>
<rect x="462" y="310" width="42" height="1" fill="#656565"/>
<rect x="504" y="310" width="63" height="1" fill="#131313"/>
<rect x="567" y="310" width="33" height="1" fill="#181818"/>
<rect x="600" y="310" width="37" height="1" fill="#121212"/>
<rect x="637" y="310" width="41" height="1" fill="#676767"/>
<rect x="678" y="310" width="15" height="1" fill="#646464"/>
<linearGradient id="sa1" x1="0" y1="0" x2="0" y2="1"><stop offset="0.000" stop-color="#fff" stop-opacity="0.513"/><stop offset="0.013" stop-color="#fff" stop-opacity="0.515"/><stop offset="0.026" stop-color="#fff" stop-opacity="0.516"/><stop offset="0.039" stop-color="#fff" stop-opacity="0.518"/><stop offset="0.052" stop-color="#fff" stop-opacity="0.519"/><stop offset="0.065" stop-color="#fff" stop-opacity="0.521"/><stop offset="0.078" stop-color="#fff" stop-opacity="0.522"/><stop offset="0.091" stop-color="#fff" stop-opacity="0.524"/><stop offset="0.104" stop-color="#fff" stop-opacity="0.525"/><stop offset="0.117" stop-color="#fff" stop-opacity="0.527"/><stop offset="0.130" stop-color="#fff" stop-opacity="0.528"/><stop offset="0.143" stop-color="#fff" stop-opacity="0.530"/><stop offset="0.156" stop-color="#fff" stop-opacity="0.530"/><stop offset="0.169" stop-color="#fff" stop-opacity="0.528"/><stop offset="0.182" stop-color="#fff" stop-opacity="0.527"/><stop offset="0.195" stop-color="#fff" stop-opacity="0.525"/><stop offset="0.208" stop-color="#fff" stop-opacity="0.524"/><stop offset="0.221" stop-color="#fff" stop-opacity="0.520"/><stop offset="0.234" stop-color="#fff" stop-opacity="0.515"/><stop offset="0.247" stop-color="#fff" stop-opacity="0.511"/><stop offset="0.260" stop-color="#fff" stop-opacity="0.506"/><stop offset="0.273" stop-color="#fff" stop-opacity="0.501"/><stop offset="0.286" stop-color="#fff" stop-opacity="0.497"/><stop offset="0.299" stop-color="#fff" stop-opacity="0.490"/><stop offset="0.312" stop-color="#fff" stop-opacity="0.482"/><stop offset="0.325" stop-color="#fff" stop-opacity="0.474"/><stop offset="0.338" stop-color="#fff" stop-opacity="0.467"/><stop offset="0.351" stop-color="#fff" stop-opacity="0.460"/><stop offset="0.364" stop-color="#fff" stop-opacity="0.453"/><stop offset="0.377" stop-color="#fff" stop-opacity="0.447"/><stop offset="0.390" stop-color="#fff" stop-opacity="0.441"/><stop offset="0.403" stop-color="#fff" stop-opacity="0.435"/><stop offset="0.416" stop-color="#fff" stop-opacity="0.431"/><stop offset="0.429" stop-color="#fff" stop-opacity="0.427"/><stop offset="0.442" stop-color="#fff" stop-opacity="0.424"/><stop offset="0.455" stop-color="#fff" stop-opacity="0.421"/><stop offset="0.468" stop-color="#fff" stop-opacity="0.417"/><stop offset="0.481" stop-color="#fff" stop-opacity="0.414"/><stop offset="0.494" stop-color="#fff" stop-opacity="0.411"/><stop offset="0.506" stop-color="#fff" stop-opacity="0.401"/><stop offset="0.519" stop-color="#fff" stop-opacity="0.388"/><stop offset="0.532" stop-color="#fff" stop-opacity="0.374"/><stop offset="0.545" stop-color="#fff" stop-opacity="0.342"/><stop offset="0.558" stop-color="#fff" stop-opacity="0.286"/><stop offset="0.571" stop-color="#fff" stop-opacity="0.231"/><stop offset="0.584" stop-color="#fff" stop-opacity="0.203"/><stop offset="0.597" stop-color="#fff" stop-opacity="0.180"/><stop offset="0.610" stop-color="#fff" stop-opacity="0.157"/><stop offset="0.623" stop-color="#fff" stop-opacity="0.135"/><stop offset="0.636" stop-color="#fff" stop-opacity="0.112"/><stop offset="0.649" stop-color="#fff" stop-opacity="0.101"/><stop offset="0.662" stop-color="#fff" stop-opacity="0.093"/><stop offset="0.675" stop-color="#fff" stop-opacity="0.063"/><stop offset="0.688" stop-color="#fff" stop-opacity="0.051"/><stop offset="0.701" stop-color="#fff" stop-opacity="0.040"/><stop offset="0.714" stop-color="#fff" stop-opacity="0.039"/><stop offset="0.727" stop-color="#fff" stop-opacity="0.039"/><stop offset="0.740" stop-color="#fff" stop-opacity="0.038"/><stop offset="0.753" stop-color="#fff" stop-opacity="0.038"/><stop offset="0.766" stop-color="#fff" stop-opacity="0.037"/><stop offset="0.779" stop-color="#fff" stop-opacity="0.037"/><stop offset="0.792" stop-color="#fff" stop-opacity="0.036"/><stop offset="0.805" stop-color="#fff" stop-opacity="0.035"/><stop offset="0.818" stop-color="#fff" stop-opacity="0.035"/><stop offset="0.831" stop-color="#fff" stop-opacity="0.034"/><stop offset="0.844" stop-color="#fff" stop-opacity="0.034"/><stop offset="0.857" stop-color="#fff" stop-opacity="0.033"/><stop offset="0.870" stop-color="#fff" stop-opacity="0.033"/><stop offset="0.883" stop-color="#fff" stop-opacity="0.032"/><stop offset="0.896" stop-color="#fff" stop-opacity="0.031"/><stop offset="0.909" stop-color="#fff" stop-opacity="0.031"/><stop offset="0.922" stop-color="#fff" stop-opacity="0.030"/><stop offset="0.935" stop-color="#fff" stop-opacity="0.030"/><stop offset="0.948" stop-color="#fff" stop-opacity="0.091"/><stop offset="0.961" stop-color="#fff" stop-opacity="0.079"/><stop offset="0.974" stop-color="#fff" stop-opacity="0.062"/><stop offset="0.987" stop-color="#fff" stop-opacity="0.036"/><stop offset="1.000" stop-color="#fff" stop-opacity="0.027"/><stop offset="1.000" stop-color="#fff" stop-opacity="0.027"/></linearGradient>
<linearGradient id="sb1" x1="0" y1="0" x2="0" y2="1"><stop offset="0.000" stop-color="#fff" stop-opacity="0.129"/><stop offset="0.013" stop-color="#fff" stop-opacity="0.131"/><stop offset="0.026" stop-color="#fff" stop-opacity="0.133"/><stop offset="0.039" stop-color="#fff" stop-opacity="0.135"/><stop offset="0.052" stop-color="#fff" stop-opacity="0.137"/><stop offset="0.065" stop-color="#fff" stop-opacity="0.139"/><stop offset="0.078" stop-color="#fff" stop-opacity="0.141"/><stop offset="0.091" stop-color="#fff" stop-opacity="0.143"/><stop offset="0.104" stop-color="#fff" stop-opacity="0.145"/><stop offset="0.117" stop-color="#fff" stop-opacity="0.147"/><stop offset="0.130" stop-color="#fff" stop-opacity="0.149"/><stop offset="0.143" stop-color="#fff" stop-opacity="0.151"/><stop offset="0.156" stop-color="#fff" stop-opacity="0.152"/><stop offset="0.169" stop-color="#fff" stop-opacity="0.153"/><stop offset="0.182" stop-color="#fff" stop-opacity="0.154"/><stop offset="0.195" stop-color="#fff" stop-opacity="0.156"/><stop offset="0.208" stop-color="#fff" stop-opacity="0.157"/><stop offset="0.221" stop-color="#fff" stop-opacity="0.157"/><stop offset="0.234" stop-color="#fff" stop-opacity="0.157"/><stop offset="0.247" stop-color="#fff" stop-opacity="0.157"/><stop offset="0.260" stop-color="#fff" stop-opacity="0.157"/><stop offset="0.273" stop-color="#fff" stop-opacity="0.157"/><stop offset="0.286" stop-color="#fff" stop-opacity="0.157"/><stop offset="0.299" stop-color="#fff" stop-opacity="0.156"/><stop offset="0.312" stop-color="#fff" stop-opacity="0.157"/><stop offset="0.325" stop-color="#fff" stop-opacity="0.157"/><stop offset="0.338" stop-color="#fff" stop-opacity="0.158"/><stop offset="0.351" stop-color="#fff" stop-opacity="0.159"/><stop offset="0.364" stop-color="#fff" stop-opacity="0.159"/><stop offset="0.377" stop-color="#fff" stop-opacity="0.160"/><stop offset="0.390" stop-color="#fff" stop-opacity="0.161"/><stop offset="0.403" stop-color="#fff" stop-opacity="0.161"/><stop offset="0.416" stop-color="#fff" stop-opacity="0.163"/><stop offset="0.429" stop-color="#fff" stop-opacity="0.164"/><stop offset="0.442" stop-color="#fff" stop-opacity="0.165"/><stop offset="0.455" stop-color="#fff" stop-opacity="0.166"/><stop offset="0.468" stop-color="#fff" stop-opacity="0.168"/><stop offset="0.481" stop-color="#fff" stop-opacity="0.169"/><stop offset="0.494" stop-color="#fff" stop-opacity="0.170"/><stop offset="0.506" stop-color="#fff" stop-opacity="0.173"/><stop offset="0.519" stop-color="#fff" stop-opacity="0.178"/><stop offset="0.532" stop-color="#fff" stop-opacity="0.183"/><stop offset="0.545" stop-color="#fff" stop-opacity="0.187"/><stop offset="0.558" stop-color="#fff" stop-opacity="0.189"/><stop offset="0.571" stop-color="#fff" stop-opacity="0.188"/><stop offset="0.584" stop-color="#fff" stop-opacity="0.189"/><stop offset="0.597" stop-color="#fff" stop-opacity="0.195"/><stop offset="0.610" stop-color="#fff" stop-opacity="0.196"/><stop offset="0.623" stop-color="#fff" stop-opacity="0.196"/><stop offset="0.636" stop-color="#fff" stop-opacity="0.195"/><stop offset="0.649" stop-color="#fff" stop-opacity="0.205"/><stop offset="0.662" stop-color="#fff" stop-opacity="0.219"/><stop offset="0.675" stop-color="#fff" stop-opacity="0.176"/><stop offset="0.688" stop-color="#fff" stop-opacity="0.176"/><stop offset="0.701" stop-color="#fff" stop-opacity="0.177"/><stop offset="0.714" stop-color="#fff" stop-opacity="0.177"/><stop offset="0.727" stop-color="#fff" stop-opacity="0.178"/><stop offset="0.740" stop-color="#fff" stop-opacity="0.178"/><stop offset="0.753" stop-color="#fff" stop-opacity="0.178"/><stop offset="0.766" stop-color="#fff" stop-opacity="0.179"/><stop offset="0.779" stop-color="#fff" stop-opacity="0.179"/><stop offset="0.792" stop-color="#fff" stop-opacity="0.180"/><stop offset="0.805" stop-color="#fff" stop-opacity="0.180"/><stop offset="0.818" stop-color="#fff" stop-opacity="0.181"/><stop offset="0.831" stop-color="#fff" stop-opacity="0.181"/><stop offset="0.844" stop-color="#fff" stop-opacity="0.181"/><stop offset="0.857" stop-color="#fff" stop-opacity="0.182"/><stop offset="0.870" stop-color="#fff" stop-opacity="0.182"/><stop offset="0.883" stop-color="#fff" stop-opacity="0.183"/><stop offset="0.896" stop-color="#fff" stop-opacity="0.183"/><stop offset="0.909" stop-color="#fff" stop-opacity="0.184"/><stop offset="0.922" stop-color="#fff" stop-opacity="0.184"/><stop offset="0.935" stop-color="#fff" stop-opacity="0.184"/><stop offset="0.948" stop-color="#fff" stop-opacity="0.578"/><stop offset="0.961" stop-color="#fff" stop-opacity="0.515"/><stop offset="0.974" stop-color="#fff" stop-opacity="0.410"/><stop offset="0.987" stop-color="#fff" stop-opacity="0.245"/><stop offset="1.000" stop-color="#fff" stop-opacity="0.189"/><stop offset="1.000" stop-color="#fff" stop-opacity="0.189"/></linearGradient>
<rect x="79" y="167" width="1" height="155" fill="url(#sa1)" opacity="0.14"/>
<rect x="80" y="167" width="1" height="155" fill="url(#sa1)" opacity="0.14"/>
<rect x="81" y="167" width="1" height="155" fill="url(#sa1)" opacity="0.33"/>
<rect x="82" y="167" width="1" height="155" fill="url(#sa1)" opacity="0.33"/>
<rect x="83" y="167" width="1" height="155" fill="url(#sa1)" opacity="0.38"/>
<rect x="84" y="167" width="1" height="155" fill="url(#sa1)" opacity="0.13"/>
<rect x="85" y="167" width="1" height="155" fill="url(#sa1)" opacity="0.13"/>
<rect x="86" y="167" width="1" height="155" fill="url(#sa1)" opacity="0.13"/>
<rect x="87" y="167" width="1" height="155" fill="url(#sa1)" opacity="0.40"/>
<rect x="88" y="167" width="1" height="155" fill="url(#sa1)" opacity="0.17"/>
<rect x="89" y="167" width="1" height="155" fill="url(#sa1)" opacity="0.17"/>
<rect x="90" y="167" width="1" height="155" fill="url(#sa1)" opacity="0.17"/>
<rect x="91" y="167" width="1" height="155" fill="url(#sa1)" opacity="0.41"/>
<rect x="92" y="167" width="1" height="155" fill="url(#sa1)" opacity="0.41"/>
<rect x="93" y="167" width="1" height="155" fill="url(#sa1)" opacity="0.42"/>
<rect x="94" y="167" width="1" height="155" fill="url(#sa1)" opacity="0.10"/>
<rect x="95" y="167" width="1" height="155" fill="url(#sa1)" opacity="0.10"/>
<rect x="96" y="167" width="1" height="155" fill="url(#sa1)" opacity="0.10"/>
<rect x="97" y="167" width="1" height="155" fill="url(#sa1)" opacity="0.65"/>
<rect x="98" y="167" width="1" height="155" fill="url(#sa1)" opacity="0.11"/>
<rect x="99" y="167" width="1" height="155" fill="url(#sa1)" opacity="0.11"/>
<rect x="100" y="167" width="1" height="155" fill="url(#sa1)" opacity="0.11"/>
<rect x="101" y="167" width="1" height="155" fill="url(#sa1)" opacity="0.11"/>
<rect x="102" y="167" width="1" height="155" fill="url(#sa1)" opacity="0.70"/>
<rect x="103" y="167" width="1" height="155" fill="url(#sa1)" opacity="0.09"/>
<rect x="104" y="167" width="1" height="155" fill="url(#sa1)" opacity="0.09"/>
<rect x="105" y="167" width="1" height="155" fill="url(#sa1)" opacity="0.09"/>
<rect x="106" y="167" width="1" height="155" fill="url(#sa1)" opacity="0.36"/>
<rect x="107" y="167" width="1" height="155" fill="url(#sa1)" opacity="0.36"/>
<rect x="108" y="167" width="1" height="155" fill="url(#sa1)" opacity="0.36"/>
<rect x="109" y="167" width="1" height="155" fill="url(#sa1)" opacity="0.18"/>
<rect x="110" y="167" width="1" height="155" fill="url(#sa1)" opacity="0.18"/>
<rect x="111" y="167" width="1" height="155" fill="url(#sa1)" opacity="0.18"/>
<rect x="112" y="167" width="1" height="155" fill="url(#sa1)" opacity="0.40"/>
<rect x="113" y="167" width="1" height="155" fill="url(#sa1)" opacity="0.70"/>
<rect x="114" y="167" width="1" height="155" fill="url(#sa1)" opacity="0.40"/>
<rect x="115" y="167" width="1" height="155" fill="url(#sa1)" opacity="0.40"/>
<rect x="116" y="167" width="1" height="155" fill="url(#sa1)" opacity="0.40"/>
<rect x="117" y="167" width="1" height="155" fill="url(#sa1)" opacity="0.16"/>
<rect x="118" y="167" width="1" height="155" fill="url(#sa1)" opacity="0.41"/>
<rect x="119" y="167" width="1" height="155" fill="url(#sa1)" opacity="0.09"/>
<rect x="120" y="167" width="1" height="155" fill="url(#sa1)" opacity="0.09"/>
<rect x="121" y="167" width="1" height="155" fill="url(#sa1)" opacity="0.09"/>
<rect x="122" y="167" width="1" height="155" fill="url(#sa1)" opacity="0.20"/>
<rect x="123" y="167" width="1" height="155" fill="url(#sa1)" opacity="0.20"/>
<rect x="124" y="167" width="1" height="155" fill="url(#sa1)" opacity="0.20"/>
<rect x="125" y="167" width="1" height="155" fill="url(#sa1)" opacity="0.10"/>
<rect x="126" y="167" width="1" height="155" fill="url(#sa1)" opacity="0.10"/>
<rect x="127" y="167" width="1" height="155" fill="url(#sa1)" opacity="0.10"/>
<rect x="128" y="167" width="1" height="155" fill="url(#sa1)" opacity="0.10"/>
<rect x="129" y="167" width="1" height="155" fill="url(#sa1)" opacity="0.15"/>
<rect x="130" y="167" width="1" height="155" fill="url(#sa1)" opacity="0.15"/>
<rect x="131" y="167" width="1" height="155" fill="url(#sa1)" opacity="0.15"/>
<rect x="132" y="167" width="1" height="155" fill="url(#sa1)" opacity="0.45"/>
<rect x="133" y="167" width="1" height="155" fill="url(#sa1)" opacity="0.45"/>
<rect x="134" y="167" width="1" height="155" fill="url(#sa1)" opacity="0.45"/>
<rect x="135" y="167" width="1" height="155" fill="url(#sa1)" opacity="0.78"/>
<rect x="136" y="167" width="1" height="155" fill="url(#sa1)" opacity="0.12"/>
<rect x="137" y="167" width="1" height="155" fill="url(#sa1)" opacity="0.12"/>
<rect x="138" y="167" width="1" height="155" fill="url(#sa1)" opacity="0.34"/>
<rect x="139" y="167" width="1" height="155" fill="url(#sa1)" opacity="0.34"/>
<rect x="140" y="167" width="1" height="155" fill="url(#sa1)" opacity="0.37"/>
<rect x="141" y="167" width="1" height="155" fill="url(#sa1)" opacity="0.11"/>
<rect x="142" y="167" width="1" height="155" fill="url(#sa1)" opacity="0.11"/>
<rect x="143" y="167" width="1" height="155" fill="url(#sa1)" opacity="0.11"/>
<rect x="144" y="167" width="1" height="155" fill="url(#sa1)" opacity="0.38"/>
<rect x="145" y="167" width="1" height="155" fill="url(#sa1)" opacity="0.18"/>
<rect x="146" y="167" width="1" height="155" fill="url(#sa1)" opacity="0.18"/>
<rect x="147" y="167" width="1" height="155" fill="url(#sa1)" opacity="0.18"/>
<rect x="148" y="167" width="1" height="155" fill="url(#sa1)" opacity="0.75"/>
<rect x="149" y="167" width="1" height="155" fill="url(#sa1)" opacity="0.44"/>
<rect x="150" y="167" width="1" height="155" fill="url(#sa1)" opacity="0.44"/>
<rect x="151" y="167" width="1" height="155" fill="url(#sa1)" opacity="0.66"/>
<rect x="152" y="167" width="1" height="155" fill="url(#sa1)" opacity="0.66"/>
<rect x="153" y="167" width="1" height="155" fill="url(#sa1)" opacity="0.44"/>
<rect x="154" y="167" width="1" height="155" fill="url(#sa1)" opacity="0.10"/>
<rect x="155" y="167" width="1" height="155" fill="url(#sa1)" opacity="0.10"/>
<rect x="156" y="167" width="1" height="155" fill="url(#sa1)" opacity="0.36"/>
<rect x="157" y="167" width="1" height="155" fill="url(#sa1)" opacity="0.35"/>
<rect x="158" y="167" width="1" height="155" fill="url(#sa1)" opacity="0.35"/>
<rect x="159" y="167" width="1" height="155" fill="url(#sa1)" opacity="0.43"/>
<rect x="160" y="167" width="1" height="155" fill="url(#sa1)" opacity="0.43"/>
<rect x="161" y="167" width="1" height="155" fill="url(#sa1)" opacity="0.39"/>
<rect x="162" y="167" width="1" height="155" fill="url(#sa1)" opacity="0.39"/>
<rect x="163" y="167" width="1" height="155" fill="url(#sa1)" opacity="0.39"/>
<rect x="164" y="167" width="1" height="155" fill="url(#sa1)" opacity="0.34"/>
<rect x="165" y="167" width="1" height="155" fill="url(#sa1)" opacity="0.09"/>
<rect x="166" y="167" width="1" height="155" fill="url(#sa1)" opacity="0.09"/>
<rect x="167" y="167" width="1" height="155" fill="url(#sa1)" opacity="0.09"/>
<rect x="168" y="167" width="1" height="155" fill="url(#sa1)" opacity="0.09"/>
<rect x="169" y="167" width="1" height="155" fill="url(#sa1)" opacity="0.81"/>
<rect x="170" y="167" width="1" height="155" fill="url(#sa1)" opacity="0.42"/>
<rect x="171" y="167" width="1" height="155" fill="url(#sa1)" opacity="0.42"/>
<rect x="172" y="167" width="1" height="155" fill="url(#sa1)" opacity="0.42"/>
<rect x="173" y="167" width="1" height="155" fill="url(#sa1)" opacity="0.70"/>
<rect x="174" y="167" width="1" height="155" fill="url(#sa1)" opacity="0.41"/>
<rect x="175" y="167" width="1" height="155" fill="url(#sa1)" opacity="0.38"/>
<rect x="176" y="167" width="1" height="155" fill="url(#sa1)" opacity="0.38"/>
<rect x="177" y="167" width="1" height="155" fill="url(#sa1)" opacity="0.38"/>
<rect x="178" y="167" width="1" height="155" fill="url(#sa1)" opacity="0.41"/>
<rect x="179" y="167" width="1" height="155" fill="url(#sa1)" opacity="0.41"/>
<rect x="180" y="167" width="1" height="155" fill="url(#sa1)" opacity="0.41"/>
<rect x="181" y="167" width="1" height="155" fill="url(#sa1)" opacity="0.42"/>
<rect x="182" y="167" width="1" height="155" fill="url(#sa1)" opacity="0.17"/>
<rect x="183" y="167" width="1" height="155" fill="url(#sa1)" opacity="0.17"/>
<rect x="184" y="167" width="1" height="155" fill="url(#sa1)" opacity="0.17"/>
<rect x="185" y="167" width="1" height="155" fill="url(#sa1)" opacity="0.34"/>
<rect x="186" y="167" width="1" height="155" fill="url(#sa1)" opacity="0.34"/>
<rect x="187" y="167" width="1" height="155" fill="url(#sa1)" opacity="0.06"/>
<rect x="188" y="167" width="1" height="155" fill="url(#sa1)" opacity="0.06"/>
<rect x="189" y="167" width="1" height="155" fill="url(#sa1)" opacity="0.06"/>
<rect x="190" y="167" width="1" height="155" fill="url(#sa1)" opacity="0.15"/>
<rect x="191" y="167" width="1" height="155" fill="url(#sa1)" opacity="0.15"/>
<rect x="192" y="167" width="1" height="155" fill="url(#sa1)" opacity="0.15"/>
<rect x="193" y="167" width="1" height="155" fill="url(#sa1)" opacity="0.06"/>
<rect x="194" y="167" width="1" height="155" fill="url(#sa1)" opacity="0.06"/>
<rect x="195" y="167" width="1" height="155" fill="url(#sa1)" opacity="0.06"/>
<rect x="196" y="167" width="1" height="155" fill="url(#sa1)" opacity="0.44"/>
<rect x="197" y="167" width="1" height="155" fill="url(#sa1)" opacity="0.44"/>
<rect x="198" y="167" width="1" height="155" fill="url(#sa1)" opacity="0.06"/>
<rect x="199" y="167" width="1" height="155" fill="url(#sa1)" opacity="0.63"/>
<rect x="200" y="167" width="1" height="155" fill="url(#sa1)" opacity="0.12"/>
<rect x="201" y="167" width="1" height="155" fill="url(#sa1)" opacity="0.12"/>
<rect x="202" y="167" width="1" height="155" fill="url(#sa1)" opacity="0.12"/>
<rect x="203" y="167" width="1" height="155" fill="url(#sa1)" opacity="0.18"/>
<rect x="204" y="167" width="1" height="155" fill="url(#sa1)" opacity="0.18"/>
<rect x="205" y="167" width="1" height="155" fill="url(#sa1)" opacity="0.33"/>
<rect x="206" y="167" width="1" height="155" fill="url(#sa1)" opacity="0.33"/>
<rect x="207" y="167" width="1" height="155" fill="url(#sa1)" opacity="0.12"/>
<rect x="208" y="167" width="1" height="155" fill="url(#sa1)" opacity="0.12"/>
<rect x="209" y="167" width="1" height="155" fill="url(#sa1)" opacity="0.12"/>
<rect x="210" y="167" width="1" height="155" fill="url(#sa1)" opacity="0.43"/>
<rect x="211" y="167" width="1" height="155" fill="url(#sa1)" opacity="0.68"/>
<rect x="212" y="167" width="1" height="155" fill="url(#sa1)" opacity="0.68"/>
<rect x="213" y="167" width="1" height="155" fill="url(#sa1)" opacity="0.42"/>
<rect x="214" y="167" width="1" height="155" fill="url(#sa1)" opacity="0.41"/>
<rect x="215" y="167" width="1" height="155" fill="url(#sa1)" opacity="0.41"/>
<rect x="216" y="167" width="1" height="155" fill="url(#sa1)" opacity="0.15"/>
<rect x="217" y="167" width="1" height="155" fill="url(#sa1)" opacity="0.15"/>
<rect x="218" y="167" width="1" height="155" fill="url(#sa1)" opacity="0.15"/>
<rect x="219" y="167" width="1" height="155" fill="url(#sa1)" opacity="0.15"/>
<rect x="220" y="167" width="1" height="155" fill="url(#sa1)" opacity="0.36"/>
<rect x="221" y="167" width="1" height="155" fill="url(#sa1)" opacity="0.36"/>
<rect x="222" y="167" width="1" height="155" fill="url(#sa1)" opacity="0.38"/>
<rect x="223" y="167" width="1" height="155" fill="url(#sa1)" opacity="0.38"/>
<rect x="224" y="167" width="1" height="155" fill="url(#sa1)" opacity="0.14"/>
<rect x="225" y="167" width="1" height="155" fill="url(#sa1)" opacity="0.14"/>
<rect x="226" y="167" width="1" height="155" fill="url(#sa1)" opacity="0.14"/>
<rect x="227" y="167" width="1" height="155" fill="url(#sa1)" opacity="0.14"/>
<rect x="228" y="167" width="1" height="155" fill="url(#sa1)" opacity="0.68"/>
<rect x="229" y="167" width="1" height="155" fill="url(#sa1)" opacity="0.68"/>
<rect x="230" y="167" width="1" height="155" fill="url(#sa1)" opacity="0.17"/>
<rect x="231" y="167" width="1" height="155" fill="url(#sa1)" opacity="0.17"/>
<rect x="232" y="167" width="1" height="155" fill="url(#sa1)" opacity="0.17"/>
<rect x="233" y="167" width="1" height="155" fill="url(#sa1)" opacity="0.33"/>
<rect x="234" y="167" width="1" height="155" fill="url(#sa1)" opacity="0.44"/>
<rect x="235" y="167" width="1" height="155" fill="url(#sa1)" opacity="0.44"/>
<rect x="236" y="167" width="1" height="155" fill="url(#sa1)" opacity="0.38"/>
<rect x="237" y="167" width="1" height="155" fill="url(#sa1)" opacity="0.38"/>
<rect x="238" y="167" width="1" height="155" fill="url(#sa1)" opacity="0.19"/>
<rect x="239" y="167" width="1" height="155" fill="url(#sa1)" opacity="0.19"/>
<rect x="240" y="167" width="1" height="155" fill="url(#sa1)" opacity="0.19"/>
<rect x="241" y="167" width="1" height="155" fill="url(#sa1)" opacity="0.19"/>
<rect x="242" y="167" width="1" height="155" fill="url(#sa1)" opacity="0.13"/>
<rect x="243" y="167" width="1" height="155" fill="url(#sa1)" opacity="0.13"/>
<rect x="244" y="167" width="1" height="155" fill="url(#sa1)" opacity="0.13"/>
<rect x="245" y="167" width="1" height="155" fill="url(#sa1)" opacity="0.78"/>
<rect x="246" y="167" width="1" height="155" fill="url(#sa1)" opacity="0.19"/>
<rect x="247" y="167" width="1" height="155" fill="url(#sa1)" opacity="0.19"/>
<rect x="248" y="167" width="1" height="155" fill="url(#sa1)" opacity="0.19"/>
<rect x="249" y="167" width="1" height="155" fill="url(#sa1)" opacity="0.19"/>
<rect x="250" y="167" width="1" height="155" fill="url(#sa1)" opacity="0.09"/>
<rect x="251" y="167" width="1" height="155" fill="url(#sa1)" opacity="0.32"/>
<rect x="252" y="167" width="1" height="155" fill="url(#sa1)" opacity="0.32"/>
<rect x="253" y="167" width="1" height="155" fill="url(#sa1)" opacity="0.32"/>
<rect x="254" y="167" width="1" height="155" fill="url(#sa1)" opacity="0.41"/>
<rect x="255" y="167" width="1" height="155" fill="url(#sa1)" opacity="0.41"/>
<rect x="256" y="167" width="1" height="155" fill="url(#sa1)" opacity="0.19"/>
<rect x="257" y="167" width="1" height="155" fill="url(#sa1)" opacity="0.19"/>
<rect x="258" y="167" width="1" height="155" fill="url(#sa1)" opacity="0.19"/>
<rect x="259" y="167" width="1" height="155" fill="url(#sa1)" opacity="0.36"/>
<rect x="260" y="167" width="1" height="155" fill="url(#sa1)" opacity="0.36"/>
<rect x="261" y="167" width="1" height="155" fill="url(#sa1)" opacity="0.37"/>
<rect x="262" y="167" width="1" height="155" fill="url(#sa1)" opacity="0.36"/>
<rect x="263" y="167" width="1" height="155" fill="url(#sa1)" opacity="0.17"/>
<rect x="264" y="167" width="1" height="155" fill="url(#sa1)" opacity="0.17"/>
<rect x="265" y="167" width="1" height="155" fill="url(#sa1)" opacity="0.15"/>
<rect x="266" y="167" width="1" height="155" fill="url(#sa1)" opacity="0.15"/>
<rect x="267" y="167" width="1" height="155" fill="url(#sa1)" opacity="0.15"/>
<rect x="268" y="167" width="1" height="155" fill="url(#sa1)" opacity="0.15"/>
<rect x="269" y="167" width="1" height="155" fill="url(#sa1)" opacity="0.15"/>
<rect x="270" y="167" width="1" height="155" fill="url(#sa1)" opacity="0.15"/>
<rect x="271" y="167" width="1" height="155" fill="url(#sa1)" opacity="0.32"/>
<rect x="272" y="167" width="1" height="155" fill="url(#sa1)" opacity="0.32"/>
<rect x="273" y="167" width="1" height="155" fill="url(#sa1)" opacity="0.36"/>
<rect x="274" y="167" width="1" height="155" fill="url(#sa1)" opacity="0.18"/>
<rect x="275" y="167" width="1" height="155" fill="url(#sa1)" opacity="0.18"/>
<rect x="276" y="167" width="1" height="155" fill="url(#sa1)" opacity="0.18"/>
<rect x="277" y="167" width="1" height="155" fill="url(#sa1)" opacity="0.17"/>
<rect x="278" y="167" width="1" height="155" fill="url(#sa1)" opacity="0.17"/>
<rect x="279" y="167" width="1" height="155" fill="url(#sa1)" opacity="0.17"/>
<rect x="280" y="167" width="1" height="155" fill="url(#sa1)" opacity="0.15"/>
<rect x="281" y="167" width="1" height="155" fill="url(#sa1)" opacity="0.20"/>
<rect x="282" y="167" width="1" height="155" fill="url(#sa1)" opacity="0.20"/>
<rect x="283" y="167" width="1" height="155" fill="url(#sa1)" opacity="0.20"/>
<rect x="284" y="167" width="1" height="155" fill="url(#sa1)" opacity="0.41"/>
<rect x="285" y="167" width="1" height="155" fill="url(#sa1)" opacity="0.84"/>
<rect x="286" y="167" width="1" height="155" fill="url(#sa1)" opacity="0.84"/>
<rect x="287" y="167" width="1" height="155" fill="url(#sa1)" opacity="0.41"/>
<rect x="288" y="167" width="1" height="155" fill="url(#sa1)" opacity="0.64"/>
<rect x="289" y="167" width="1" height="155" fill="url(#sa1)" opacity="0.64"/>
<rect x="290" y="167" width="1" height="155" fill="url(#sa1)" opacity="0.63"/>
<rect x="291" y="167" width="1" height="155" fill="url(#sa1)" opacity="0.34"/>
<rect x="292" y="167" width="1" height="155" fill="url(#sa1)" opacity="0.34"/>
<rect x="293" y="167" width="1" height="155" fill="url(#sa1)" opacity="0.06"/>
<rect x="294" y="167" width="1" height="155" fill="url(#sa1)" opacity="0.06"/>
<rect x="295" y="167" width="1" height="155" fill="url(#sa1)" opacity="0.06"/>
<rect x="296" y="167" width="1" height="155" fill="url(#sa1)" opacity="0.39"/>
<rect x="297" y="167" width="1" height="155" fill="url(#sa1)" opacity="0.39"/>
<rect x="298" y="167" width="1" height="155" fill="url(#sa1)" opacity="0.39"/>
<rect x="299" y="167" width="1" height="155" fill="url(#sa1)" opacity="0.07"/>
<rect x="300" y="167" width="1" height="155" fill="url(#sa1)" opacity="0.07"/>
<rect x="301" y="167" width="1" height="155" fill="url(#sa1)" opacity="0.76"/>
<rect x="302" y="167" width="1" height="155" fill="url(#sa1)" opacity="0.10"/>
<rect x="303" y="167" width="1" height="155" fill="url(#sa1)" opacity="0.10"/>
<rect x="304" y="167" width="1" height="155" fill="url(#sa1)" opacity="0.34"/>
<rect x="305" y="167" width="1" height="155" fill="url(#sa1)" opacity="0.34"/>
<rect x="306" y="167" width="1" height="155" fill="url(#sa1)" opacity="0.34"/>
<rect x="307" y="167" width="1" height="155" fill="url(#sa1)" opacity="0.08"/>
<rect x="308" y="167" width="1" height="155" fill="url(#sa1)" opacity="0.08"/>
<rect x="309" y="167" width="1" height="155" fill="url(#sa1)" opacity="0.08"/>
<rect x="310" y="167" width="1" height="155" fill="url(#sa1)" opacity="0.70"/>
<rect x="311" y="167" width="1" height="155" fill="url(#sa1)" opacity="0.18"/>
<rect x="312" y="167" width="1" height="155" fill="url(#sa1)" opacity="0.32"/>
<rect x="313" y="167" width="1" height="155" fill="url(#sa1)" opacity="0.32"/>
<rect x="314" y="167" width="1" height="155" fill="url(#sa1)" opacity="0.36"/>
<rect x="315" y="167" width="1" height="155" fill="url(#sa1)" opacity="0.36"/>
<rect x="316" y="167" width="1" height="155" fill="url(#sa1)" opacity="0.16"/>
<rect x="317" y="167" width="1" height="155" fill="url(#sa1)" opacity="0.18"/>
<rect x="318" y="167" width="1" height="155" fill="url(#sa1)" opacity="0.18"/>
<rect x="319" y="167" width="1" height="155" fill="url(#sa1)" opacity="0.37"/>
<rect x="320" y="167" width="1" height="155" fill="url(#sa1)" opacity="0.09"/>
<rect x="321" y="167" width="1" height="155" fill="url(#sa1)" opacity="0.09"/>
<rect x="322" y="167" width="1" height="155" fill="url(#sa1)" opacity="0.09"/>
<rect x="323" y="167" width="1" height="155" fill="url(#sa1)" opacity="0.09"/>
<rect x="324" y="167" width="1" height="155" fill="url(#sa1)" opacity="0.41"/>
<rect x="325" y="167" width="1" height="155" fill="url(#sa1)" opacity="0.41"/>
<rect x="326" y="167" width="1" height="155" fill="url(#sa1)" opacity="0.84"/>
<rect x="327" y="167" width="1" height="155" fill="url(#sa1)" opacity="0.84"/>
<rect x="328" y="167" width="1" height="155" fill="url(#sa1)" opacity="0.38"/>
<rect x="329" y="167" width="1" height="155" fill="url(#sa1)" opacity="0.38"/>
<rect x="330" y="167" width="1" height="155" fill="url(#sa1)" opacity="0.35"/>
<rect x="331" y="167" width="1" height="155" fill="url(#sa1)" opacity="0.35"/>
<rect x="332" y="167" width="1" height="155" fill="url(#sa1)" opacity="0.14"/>
<rect x="333" y="167" width="1" height="155" fill="url(#sa1)" opacity="0.43"/>
<rect x="334" y="167" width="1" height="155" fill="url(#sa1)" opacity="0.35"/>
<rect x="335" y="167" width="1" height="155" fill="url(#sa1)" opacity="0.35"/>
<rect x="336" y="167" width="1" height="155" fill="url(#sa1)" opacity="0.13"/>
<rect x="337" y="167" width="1" height="155" fill="url(#sa1)" opacity="0.13"/>
<rect x="338" y="167" width="1" height="155" fill="url(#sa1)" opacity="0.13"/>
<rect x="339" y="167" width="1" height="155" fill="url(#sa1)" opacity="0.12"/>
<rect x="340" y="167" width="1" height="155" fill="url(#sa1)" opacity="0.12"/>
<rect x="341" y="167" width="1" height="155" fill="url(#sa1)" opacity="0.12"/>
<rect x="342" y="167" width="1" height="155" fill="url(#sa1)" opacity="0.35"/>
<rect x="343" y="167" width="1" height="155" fill="url(#sa1)" opacity="0.35"/>
<rect x="344" y="167" width="1" height="155" fill="url(#sa1)" opacity="0.17"/>
<rect x="345" y="167" width="1" height="155" fill="url(#sa1)" opacity="0.17"/>
<rect x="346" y="167" width="1" height="155" fill="url(#sa1)" opacity="0.17"/>
<rect x="347" y="167" width="1" height="155" fill="url(#sa1)" opacity="0.17"/>
<rect x="348" y="167" width="1" height="155" fill="url(#sa1)" opacity="0.16"/>
<rect x="349" y="167" width="1" height="155" fill="url(#sa1)" opacity="0.16"/>
<rect x="350" y="167" width="1" height="155" fill="url(#sa1)" opacity="0.16"/>
<rect x="351" y="167" width="1" height="155" fill="url(#sa1)" opacity="0.78"/>
<rect x="352" y="167" width="1" height="155" fill="url(#sa1)" opacity="0.12"/>
<rect x="353" y="167" width="1" height="155" fill="url(#sa1)" opacity="0.12"/>
<rect x="354" y="167" width="1" height="155" fill="url(#sa1)" opacity="0.12"/>
<rect x="355" y="167" width="1" height="155" fill="url(#sa1)" opacity="0.12"/>
<rect x="356" y="167" width="1" height="155" fill="url(#sa1)" opacity="0.70"/>
<rect x="357" y="167" width="1" height="155" fill="url(#sa1)" opacity="0.13"/>
<rect x="358" y="167" width="1" height="155" fill="url(#sa1)" opacity="0.13"/>
<rect x="359" y="167" width="1" height="155" fill="url(#sa1)" opacity="0.13"/>
<rect x="360" y="167" width="1" height="155" fill="url(#sa1)" opacity="0.13"/>
<rect x="361" y="167" width="1" height="155" fill="url(#sa1)" opacity="0.36"/>
<rect x="362" y="167" width="1" height="155" fill="url(#sa1)" opacity="0.36"/>
<rect x="363" y="167" width="1" height="155" fill="url(#sa1)" opacity="0.36"/>
<rect x="364" y="167" width="1" height="155" fill="url(#sa1)" opacity="0.34"/>
<rect x="365" y="167" width="1" height="155" fill="url(#sa1)" opacity="0.34"/>
<rect x="366" y="167" width="1" height="155" fill="url(#sa1)" opacity="0.44"/>
<rect x="367" y="167" width="1" height="155" fill="url(#sa1)" opacity="0.44"/>
<rect x="368" y="167" width="1" height="155" fill="url(#sa1)" opacity="0.44"/>
<rect x="369" y="167" width="1" height="155" fill="url(#sa1)" opacity="0.77"/>
<rect x="370" y="167" width="1" height="155" fill="url(#sa1)" opacity="0.77"/>
<rect x="371" y="167" width="1" height="155" fill="url(#sa1)" opacity="0.34"/>
<rect x="372" y="167" width="1" height="155" fill="url(#sa1)" opacity="0.34"/>
<rect x="373" y="167" width="1" height="155" fill="url(#sa1)" opacity="0.44"/>
<rect x="374" y="167" width="1" height="155" fill="url(#sa1)" opacity="0.44"/>
<rect x="375" y="167" width="1" height="155" fill="url(#sa1)" opacity="0.44"/>
<rect x="376" y="167" width="1" height="155" fill="url(#sa1)" opacity="0.17"/>
<rect x="377" y="167" width="1" height="155" fill="url(#sa1)" opacity="0.17"/>
<rect x="378" y="167" width="1" height="155" fill="url(#sa1)" opacity="0.17"/>
<rect x="379" y="167" width="1" height="155" fill="url(#sa1)" opacity="0.31"/>
<rect x="380" y="167" width="1" height="155" fill="url(#sa1)" opacity="0.31"/>
<rect x="381" y="167" width="1" height="155" fill="url(#sa1)" opacity="0.31"/>
<rect x="382" y="167" width="1" height="155" fill="url(#sa1)" opacity="0.10"/>
<rect x="383" y="167" width="1" height="155" fill="url(#sa1)" opacity="0.13"/>
<rect x="384" y="167" width="1" height="155" fill="url(#sa1)" opacity="0.13"/>
<rect x="385" y="167" width="1" height="155" fill="url(#sa1)" opacity="0.35"/>
<rect x="386" y="167" width="1" height="155" fill="url(#sa1)" opacity="0.35"/>
<rect x="387" y="167" width="1" height="155" fill="url(#sa1)" opacity="0.08"/>
<rect x="388" y="167" width="1" height="155" fill="url(#sa1)" opacity="0.09"/>
<rect x="389" y="167" width="1" height="155" fill="url(#sa1)" opacity="0.09"/>
<rect x="390" y="167" width="1" height="155" fill="url(#sa1)" opacity="0.44"/>
<rect x="391" y="167" width="1" height="155" fill="url(#sa1)" opacity="0.36"/>
<rect x="392" y="167" width="1" height="155" fill="url(#sa1)" opacity="0.14"/>
<rect x="393" y="167" width="1" height="155" fill="url(#sa1)" opacity="0.14"/>
<rect x="394" y="167" width="1" height="155" fill="url(#sa1)" opacity="0.14"/>
<rect x="395" y="167" width="1" height="155" fill="url(#sa1)" opacity="0.37"/>
<rect x="396" y="167" width="1" height="155" fill="url(#sa1)" opacity="0.37"/>
<rect x="397" y="167" width="1" height="155" fill="url(#sa1)" opacity="0.75"/>
<rect x="398" y="167" width="1" height="155" fill="url(#sa1)" opacity="0.84"/>
<rect x="399" y="167" width="1" height="155" fill="url(#sa1)" opacity="0.38"/>
<rect x="400" y="167" width="1" height="155" fill="url(#sa1)" opacity="0.38"/>
<rect x="401" y="167" width="1" height="155" fill="url(#sa1)" opacity="0.38"/>
<rect x="402" y="167" width="1" height="155" fill="url(#sa1)" opacity="0.45"/>
<rect x="403" y="167" width="1" height="155" fill="url(#sa1)" opacity="0.33"/>
<rect x="404" y="167" width="1" height="155" fill="url(#sa1)" opacity="0.13"/>
<rect x="405" y="167" width="1" height="155" fill="url(#sa1)" opacity="0.13"/>
<rect x="406" y="167" width="1" height="155" fill="url(#sa1)" opacity="0.13"/>
<rect x="407" y="167" width="1" height="155" fill="url(#sa1)" opacity="0.10"/>
<rect x="408" y="167" width="1" height="155" fill="url(#sa1)" opacity="0.10"/>
<rect x="409" y="167" width="1" height="155" fill="url(#sa1)" opacity="0.10"/>
<rect x="410" y="167" width="1" height="155" fill="url(#sa1)" opacity="0.37"/>
<rect x="411" y="167" width="1" height="155" fill="url(#sa1)" opacity="0.37"/>
<rect x="412" y="167" width="1" height="155" fill="url(#sa1)" opacity="0.11"/>
<rect x="413" y="167" width="1" height="155" fill="url(#sa1)" opacity="0.11"/>
<rect x="414" y="167" width="1" height="155" fill="url(#sa1)" opacity="0.11"/>
<rect x="415" y="167" width="1" height="155" fill="url(#sa1)" opacity="0.11"/>
<rect x="416" y="167" width="1" height="155" fill="url(#sa1)" opacity="0.36"/>
<rect x="417" y="167" width="1" height="155" fill="url(#sa1)" opacity="0.72"/>
<rect x="418" y="167" width="1" height="155" fill="url(#sa1)" opacity="0.40"/>
<rect x="419" y="167" width="1" height="155" fill="url(#sa1)" opacity="0.40"/>
<rect x="420" y="167" width="1" height="155" fill="url(#sa1)" opacity="0.08"/>
<rect x="421" y="167" width="1" height="155" fill="url(#sa1)" opacity="0.08"/>
<rect x="422" y="167" width="1" height="155" fill="url(#sa1)" opacity="0.08"/>
<rect x="423" y="167" width="1" height="155" fill="url(#sa1)" opacity="0.08"/>
<rect x="424" y="167" width="1" height="155" fill="url(#sa1)" opacity="0.12"/>
<rect x="425" y="167" width="1" height="155" fill="url(#sa1)" opacity="0.12"/>
<rect x="426" y="167" width="1" height="155" fill="url(#sa1)" opacity="0.12"/>
<rect x="427" y="167" width="1" height="155" fill="url(#sa1)" opacity="0.20"/>
<rect x="428" y="167" width="1" height="155" fill="url(#sa1)" opacity="0.20"/>
<rect x="429" y="167" width="1" height="155" fill="url(#sa1)" opacity="0.20"/>
<rect x="430" y="167" width="1" height="155" fill="url(#sa1)" opacity="0.20"/>
<rect x="431" y="167" width="1" height="155" fill="url(#sa1)" opacity="0.64"/>
<rect x="432" y="167" width="1" height="155" fill="url(#sa1)" opacity="0.39"/>
<rect x="433" y="167" width="1" height="155" fill="url(#sa1)" opacity="0.39"/>
<rect x="434" y="167" width="1" height="155" fill="url(#sa1)" opacity="0.39"/>
<rect x="435" y="167" width="1" height="155" fill="url(#sa1)" opacity="0.36"/>
<rect x="436" y="167" width="1" height="155" fill="url(#sa1)" opacity="0.36"/>
<rect x="437" y="167" width="1" height="155" fill="url(#sa1)" opacity="0.19"/>
<rect x="438" y="167" width="1" height="155" fill="url(#sa1)" opacity="0.19"/>
<rect x="439" y="167" width="1" height="155" fill="url(#sa1)" opacity="0.19"/>
<rect x="440" y="167" width="1" height="155" fill="url(#sa1)" opacity="0.31"/>
<rect x="441" y="167" width="1" height="155" fill="url(#sa1)" opacity="0.31"/>
<rect x="442" y="167" width="1" height="155" fill="url(#sa1)" opacity="0.32"/>
<rect x="443" y="167" width="1" height="155" fill="url(#sa1)" opacity="0.32"/>
<rect x="444" y="167" width="1" height="155" fill="url(#sa1)" opacity="0.17"/>
<rect x="445" y="167" width="1" height="155" fill="url(#sa1)" opacity="0.17"/>
<rect x="446" y="167" width="1" height="155" fill="url(#sa1)" opacity="0.17"/>
<rect x="447" y="167" width="1" height="155" fill="url(#sa1)" opacity="0.17"/>
<rect x="448" y="167" width="1" height="155" fill="url(#sa1)" opacity="0.17"/>
<rect x="449" y="167" width="1" height="155" fill="url(#sa1)" opacity="0.17"/>
<rect x="450" y="167" width="1" height="155" fill="url(#sa1)" opacity="0.09"/>
<rect x="451" y="167" width="1" height="155" fill="url(#sa1)" opacity="0.09"/>
<rect x="452" y="167" width="1" height="155" fill="url(#sa1)" opacity="0.09"/>
<rect x="453" y="167" width="1" height="155" fill="url(#sa1)" opacity="0.32"/>
<rect x="454" y="167" width="1" height="155" fill="url(#sa1)" opacity="0.67"/>
<rect x="455" y="167" width="1" height="155" fill="url(#sa1)" opacity="0.44"/>
<rect x="456" y="167" width="1" height="155" fill="url(#sa1)" opacity="0.32"/>
<rect x="457" y="167" width="1" height="155" fill="url(#sa1)" opacity="0.32"/>
<rect x="458" y="167" width="1" height="155" fill="url(#sa1)" opacity="0.15"/>
<rect x="459" y="167" width="1" height="155" fill="url(#sa1)" opacity="0.15"/>
<rect x="460" y="167" width="1" height="155" fill="url(#sa1)" opacity="0.15"/>
<rect x="461" y="167" width="1" height="155" fill="url(#sa1)" opacity="0.15"/>
<rect x="462" y="167" width="1" height="155" fill="url(#sa1)" opacity="0.30"/>
<rect x="463" y="167" width="1" height="155" fill="url(#sa1)" opacity="0.30"/>
<rect x="464" y="167" width="1" height="155" fill="url(#sa1)" opacity="0.85"/>
<rect x="465" y="167" width="1" height="155" fill="url(#sa1)" opacity="0.40"/>
<rect x="466" y="167" width="1" height="155" fill="url(#sa1)" opacity="0.71"/>
<rect x="467" y="167" width="1" height="155" fill="url(#sa1)" opacity="0.71"/>
<rect x="468" y="167" width="1" height="155" fill="url(#sa1)" opacity="0.15"/>
<rect x="469" y="167" width="1" height="155" fill="url(#sa1)" opacity="0.15"/>
<rect x="470" y="167" width="1" height="155" fill="url(#sa1)" opacity="0.15"/>
<rect x="471" y="167" width="1" height="155" fill="url(#sa1)" opacity="0.32"/>
<rect x="472" y="167" width="1" height="155" fill="url(#sa1)" opacity="0.34"/>
<rect x="473" y="167" width="1" height="155" fill="url(#sa1)" opacity="0.34"/>
<rect x="474" y="167" width="1" height="155" fill="url(#sa1)" opacity="0.37"/>
<rect x="475" y="167" width="1" height="155" fill="url(#sa1)" opacity="0.37"/>
<rect x="476" y="167" width="1" height="155" fill="url(#sa1)" opacity="0.09"/>
<rect x="477" y="167" width="1" height="155" fill="url(#sa1)" opacity="0.09"/>
<rect x="478" y="167" width="1" height="155" fill="url(#sa1)" opacity="0.09"/>
<rect x="479" y="167" width="1" height="155" fill="url(#sa1)" opacity="0.72"/>
<rect x="480" y="167" width="1" height="155" fill="url(#sa1)" opacity="0.72"/>
<rect x="481" y="167" width="1" height="155" fill="url(#sa1)" opacity="0.11"/>
<rect x="482" y="167" width="1" height="155" fill="url(#sa1)" opacity="0.42"/>
<rect x="483" y="167" width="1" height="155" fill="url(#sa1)" opacity="0.42"/>
<rect x="484" y="167" width="1" height="155" fill="url(#sa1)" opacity="0.42"/>
<rect x="485" y="167" width="1" height="155" fill="url(#sa1)" opacity="0.17"/>
<rect x="486" y="167" width="1" height="155" fill="url(#sa1)" opacity="0.16"/>
<rect x="487" y="167" width="1" height="155" fill="url(#sa1)" opacity="0.16"/>
<rect x="488" y="167" width="1" height="155" fill="url(#sa1)" opacity="0.16"/>
<rect x="489" y="167" width="1" height="155" fill="url(#sa1)" opacity="0.16"/>
<rect x="490" y="167" width="1" height="155" fill="url(#sa1)" opacity="0.10"/>
<rect x="491" y="167" width="1" height="155" fill="url(#sa1)" opacity="0.10"/>
<rect x="492" y="167" width="1" height="155" fill="url(#sa1)" opacity="0.10"/>
<rect x="493" y="167" width="1" height="155" fill="url(#sa1)" opacity="0.10"/>
<rect x="494" y="167" width="1" height="155" fill="url(#sa1)" opacity="0.06"/>
<rect x="495" y="167" width="1" height="155" fill="url(#sa1)" opacity="0.06"/>
<rect x="496" y="167" width="1" height="155" fill="url(#sa1)" opacity="0.06"/>
<rect x="497" y="167" width="1" height="155" fill="url(#sa1)" opacity="0.06"/>
<rect x="498" y="167" width="1" height="155" fill="url(#sa1)" opacity="0.19"/>
<rect x="499" y="167" width="1" height="155" fill="url(#sa1)" opacity="0.19"/>
<rect x="500" y="167" width="1" height="155" fill="url(#sa1)" opacity="0.19"/>
<rect x="501" y="167" width="1" height="155" fill="url(#sa1)" opacity="0.35"/>
<rect x="502" y="167" width="1" height="155" fill="url(#sa1)" opacity="0.35"/>
<rect x="503" y="167" width="1" height="155" fill="url(#sa1)" opacity="0.73"/>
<rect x="504" y="167" width="1" height="155" fill="url(#sa1)" opacity="0.43"/>
<rect x="505" y="167" width="1" height="155" fill="url(#sa1)" opacity="0.43"/>
<rect x="506" y="167" width="1" height="155" fill="url(#sa1)" opacity="0.42"/>
<rect x="507" y="167" width="1" height="155" fill="url(#sa1)" opacity="0.42"/>
<rect x="508" y="167" width="1" height="155" fill="url(#sa1)" opacity="0.33"/>
<rect x="509" y="167" width="1" height="155" fill="url(#sa1)" opacity="0.33"/>
<rect x="510" y="167" width="1" height="155" fill="url(#sa1)" opacity="0.39"/>
<rect x="511" y="167" width="1" height="155" fill="url(#sa1)" opacity="0.39"/>
<rect x="512" y="167" width="1" height="155" fill="url(#sa1)" opacity="0.33"/>
<rect x="513" y="167" width="1" height="155" fill="url(#sa1)" opacity="0.33"/>
<rect x="514" y="167" width="1" height="155" fill="url(#sa1)" opacity="0.39"/>
<rect x="515" y="167" width="1" height="155" fill="url(#sa1)" opacity="0.39"/>
<rect x="516" y="167" width="1" height="155" fill="url(#sa1)" opacity="0.85"/>
<rect x="517" y="167" width="1" height="155" fill="url(#sa1)" opacity="0.85"/>
<rect x="518" y="167" width="1" height="155" fill="url(#sa1)" opacity="0.35"/>
<rect x="519" y="167" width="1" height="155" fill="url(#sa1)" opacity="0.35"/>
<rect x="520" y="167" width="1" height="155" fill="url(#sa1)" opacity="0.07"/>
<rect x="521" y="167" width="1" height="155" fill="url(#sa1)" opacity="0.07"/>
<rect x="522" y="167" width="1" height="155" fill="url(#sa1)" opacity="0.09"/>
<rect x="523" y="167" width="1" height="155" fill="url(#sa1)" opacity="0.09"/>
<rect x="524" y="167" width="1" height="155" fill="url(#sa1)" opacity="0.09"/>
<rect x="525" y="167" width="1" height="155" fill="url(#sa1)" opacity="0.09"/>
<rect x="526" y="167" width="1" height="155" fill="url(#sa1)" opacity="0.16"/>
<rect x="527" y="167" width="1" height="155" fill="url(#sa1)" opacity="0.16"/>
<rect x="528" y="167" width="1" height="155" fill="url(#sa1)" opacity="0.16"/>
<rect x="529" y="167" width="1" height="155" fill="url(#sa1)" opacity="0.15"/>
<rect x="530" y="167" width="1" height="155" fill="url(#sa1)" opacity="0.34"/>
<rect x="531" y="167" width="1" height="155" fill="url(#sa1)" opacity="0.34"/>
<rect x="532" y="167" width="1" height="155" fill="url(#sa1)" opacity="0.73"/>
<rect x="533" y="167" width="1" height="155" fill="url(#sa1)" opacity="0.72"/>
<rect x="534" y="167" width="1" height="155" fill="url(#sa1)" opacity="0.72"/>
<rect x="535" y="167" width="1" height="155" fill="url(#sa1)" opacity="0.08"/>
<rect x="536" y="167" width="1" height="155" fill="url(#sa1)" opacity="0.08"/>
<rect x="537" y="167" width="1" height="155" fill="url(#sa1)" opacity="0.08"/>
<rect x="538" y="167" width="1" height="155" fill="url(#sa1)" opacity="0.38"/>
<rect x="539" y="167" width="1" height="155" fill="url(#sa1)" opacity="0.38"/>
<rect x="540" y="167" width="1" height="155" fill="url(#sa1)" opacity="0.06"/>
<rect x="541" y="167" width="1" height="155" fill="url(#sa1)" opacity="0.06"/>
<rect x="542" y="167" width="1" height="155" fill="url(#sa1)" opacity="0.06"/>
<rect x="543" y="167" width="1" height="155" fill="url(#sa1)" opacity="0.06"/>
<rect x="544" y="167" width="1" height="155" fill="url(#sa1)" opacity="0.07"/>
<rect x="545" y="167" width="1" height="155" fill="url(#sa1)" opacity="0.07"/>
<rect x="546" y="167" width="1" height="155" fill="url(#sa1)" opacity="0.07"/>
<rect x="547" y="167" width="1" height="155" fill="url(#sa1)" opacity="0.35"/>
<rect x="548" y="167" width="1" height="155" fill="url(#sa1)" opacity="0.35"/>
<rect x="549" y="167" width="1" height="155" fill="url(#sa1)" opacity="0.34"/>
<rect x="550" y="167" width="1" height="155" fill="url(#sa1)" opacity="0.35"/>
<rect x="551" y="167" width="1" height="155" fill="url(#sa1)" opacity="0.35"/>
<rect x="552" y="167" width="1" height="155" fill="url(#sa1)" opacity="0.35"/>
<rect x="553" y="167" width="1" height="155" fill="url(#sa1)" opacity="0.80"/>
<rect x="554" y="167" width="1" height="155" fill="url(#sa1)" opacity="0.80"/>
<rect x="555" y="167" width="1" height="155" fill="url(#sa1)" opacity="0.44"/>
<rect x="556" y="167" width="1" height="155" fill="url(#sa1)" opacity="0.44"/>
<rect x="557" y="167" width="1" height="155" fill="url(#sa1)" opacity="0.17"/>
<rect x="558" y="167" width="1" height="155" fill="url(#sa1)" opacity="0.17"/>
<rect x="559" y="167" width="1" height="155" fill="url(#sa1)" opacity="0.17"/>
<rect x="560" y="167" width="1" height="155" fill="url(#sa1)" opacity="0.41"/>
<rect x="561" y="167" width="1" height="155" fill="url(#sa1)" opacity="0.40"/>
<rect x="562" y="167" width="1" height="155" fill="url(#sa1)" opacity="0.40"/>
<rect x="563" y="167" width="1" height="155" fill="url(#sa1)" opacity="0.34"/>
<rect x="564" y="167" width="1" height="155" fill="url(#sa1)" opacity="0.34"/>
<rect x="565" y="167" width="1" height="155" fill="url(#sa1)" opacity="0.18"/>
<rect x="566" y="167" width="1" height="155" fill="url(#sa1)" opacity="0.18"/>
<rect x="567" y="167" width="1" height="155" fill="url(#sa1)" opacity="0.18"/>
<rect x="568" y="167" width="1" height="155" fill="url(#sa1)" opacity="0.09"/>
<rect x="569" y="167" width="1" height="155" fill="url(#sa1)" opacity="0.09"/>
<rect x="570" y="167" width="1" height="155" fill="url(#sa1)" opacity="0.18"/>
<rect x="571" y="167" width="1" height="155" fill="url(#sa1)" opacity="0.73"/>
<rect x="572" y="167" width="1" height="155" fill="url(#sa1)" opacity="0.10"/>
<rect x="573" y="167" width="1" height="155" fill="url(#sa1)" opacity="0.34"/>
<rect x="574" y="167" width="1" height="155" fill="url(#sa1)" opacity="0.34"/>
<rect x="575" y="167" width="1" height="155" fill="url(#sa1)" opacity="0.37"/>
<rect x="576" y="167" width="1" height="155" fill="url(#sa1)" opacity="0.37"/>
<rect x="577" y="167" width="1" height="155" fill="url(#sa1)" opacity="0.37"/>
<rect x="578" y="167" width="1" height="155" fill="url(#sa1)" opacity="0.19"/>
<rect x="579" y="167" width="1" height="155" fill="url(#sa1)" opacity="0.19"/>
<rect x="580" y="167" width="1" height="155" fill="url(#sa1)" opacity="0.19"/>
<rect x="581" y="167" width="1" height="155" fill="url(#sa1)" opacity="0.19"/>
<rect x="582" y="167" width="1" height="155" fill="url(#sa1)" opacity="0.19"/>
<rect x="583" y="167" width="1" height="155" fill="url(#sa1)" opacity="0.19"/>
<rect x="584" y="167" width="1" height="155" fill="url(#sa1)" opacity="0.83"/>
<rect x="585" y="167" width="1" height="155" fill="url(#sa1)" opacity="0.42"/>
<rect x="586" y="167" width="1" height="155" fill="url(#sa1)" opacity="0.42"/>
<rect x="587" y="167" width="1" height="155" fill="url(#sa1)" opacity="0.34"/>
<rect x="588" y="167" width="1" height="155" fill="url(#sa1)" opacity="0.39"/>
<rect x="589" y="167" width="1" height="155" fill="url(#sa1)" opacity="0.07"/>
<rect x="590" y="167" width="1" height="155" fill="url(#sa1)" opacity="0.07"/>
<rect x="591" y="167" width="1" height="155" fill="url(#sa1)" opacity="0.07"/>
<rect x="592" y="167" width="1" height="155" fill="url(#sa1)" opacity="0.67"/>
<rect x="593" y="167" width="1" height="155" fill="url(#sa1)" opacity="0.39"/>
<rect x="594" y="167" width="1" height="155" fill="url(#sa1)" opacity="0.39"/>
<rect x="595" y="167" width="1" height="155" fill="url(#sa1)" opacity="0.39"/>
<rect x="596" y="167" width="1" height="155" fill="url(#sa1)" opacity="0.40"/>
<rect x="597" y="167" width="1" height="155" fill="url(#sa1)" opacity="0.40"/>
<rect x="598" y="167" width="1" height="155" fill="url(#sa1)" opacity="0.14"/>
<rect x="599" y="167" width="1" height="155" fill="url(#sa1)" opacity="0.14"/>
<rect x="600" y="167" width="1" height="155" fill="url(#sa1)" opacity="0.14"/>
<rect x="601" y="167" width="1" height="155" fill="url(#sa1)" opacity="0.65"/>
<rect x="602" y="167" width="1" height="155" fill="url(#sa1)" opacity="0.12"/>
<rect x="603" y="167" width="1" height="155" fill="url(#sa1)" opacity="0.12"/>
<rect x="604" y="167" width="1" height="155" fill="url(#sa1)" opacity="0.12"/>
<rect x="605" y="167" width="1" height="155" fill="url(#sa1)" opacity="0.12"/>
<rect x="606" y="167" width="1" height="155" fill="url(#sa1)" opacity="0.41"/>
<rect x="607" y="167" width="1" height="155" fill="url(#sa1)" opacity="0.41"/>
<rect x="608" y="167" width="1" height="155" fill="url(#sa1)" opacity="0.38"/>
<rect x="609" y="167" width="1" height="155" fill="url(#sa1)" opacity="0.38"/>
<rect x="610" y="167" width="1" height="155" fill="url(#sa1)" opacity="0.38"/>
<rect x="611" y="167" width="1" height="155" fill="url(#sa1)" opacity="0.40"/>
<rect x="612" y="167" width="1" height="155" fill="url(#sa1)" opacity="0.40"/>
<rect x="613" y="167" width="1" height="155" fill="url(#sa1)" opacity="0.19"/>
<rect x="614" y="167" width="1" height="155" fill="url(#sa1)" opacity="0.19"/>
<rect x="615" y="167" width="1" height="155" fill="url(#sa1)" opacity="0.19"/>
<rect x="616" y="167" width="1" height="155" fill="url(#sa1)" opacity="0.07"/>
<rect x="617" y="167" width="1" height="155" fill="url(#sa1)" opacity="0.07"/>
<rect x="618" y="167" width="1" height="155" fill="url(#sa1)" opacity="0.07"/>
<rect x="619" y="167" width="1" height="155" fill="url(#sa1)" opacity="0.07"/>
<rect x="620" y="167" width="1" height="155" fill="url(#sa1)" opacity="0.15"/>
<rect x="621" y="167" width="1" height="155" fill="url(#sa1)" opacity="0.15"/>
<rect x="622" y="167" width="1" height="155" fill="url(#sa1)" opacity="0.15"/>
<rect x="623" y="167" width="1" height="155" fill="url(#sa1)" opacity="0.07"/>
<rect x="624" y="167" width="1" height="155" fill="url(#sa1)" opacity="0.07"/>
<rect x="625" y="167" width="1" height="155" fill="url(#sa1)" opacity="0.13"/>
<rect x="626" y="167" width="1" height="155" fill="url(#sa1)" opacity="0.42"/>
<rect x="627" y="167" width="1" height="155" fill="url(#sa1)" opacity="0.42"/>
<rect x="628" y="167" width="1" height="155" fill="url(#sa1)" opacity="0.42"/>
<rect x="629" y="167" width="1" height="155" fill="url(#sa1)" opacity="0.32"/>
<rect x="630" y="167" width="1" height="155" fill="url(#sa1)" opacity="0.32"/>
<rect x="631" y="167" width="1" height="155" fill="url(#sa1)" opacity="0.40"/>
<rect x="632" y="167" width="1" height="155" fill="url(#sa1)" opacity="0.84"/>
<rect x="633" y="167" width="1" height="155" fill="url(#sa1)" opacity="0.07"/>
<rect x="634" y="167" width="1" height="155" fill="url(#sa1)" opacity="0.40"/>
<rect x="635" y="167" width="1" height="155" fill="url(#sa1)" opacity="0.40"/>
<rect x="636" y="167" width="1" height="155" fill="url(#sa1)" opacity="0.40"/>
<rect x="637" y="167" width="1" height="155" fill="url(#sa1)" opacity="0.43"/>
<rect x="638" y="167" width="1" height="155" fill="url(#sa1)" opacity="0.43"/>
<rect x="639" y="167" width="1" height="155" fill="url(#sa1)" opacity="0.76"/>
<rect x="640" y="167" width="1" height="155" fill="url(#sa1)" opacity="0.36"/>
<rect x="641" y="167" width="1" height="155" fill="url(#sa1)" opacity="0.36"/>
<rect x="642" y="167" width="1" height="155" fill="url(#sa1)" opacity="0.17"/>
<rect x="643" y="167" width="1" height="155" fill="url(#sa1)" opacity="0.17"/>
<rect x="644" y="167" width="1" height="155" fill="url(#sa1)" opacity="0.17"/>
<rect x="645" y="167" width="1" height="155" fill="url(#sa1)" opacity="0.17"/>
<rect x="646" y="167" width="1" height="155" fill="url(#sa1)" opacity="0.15"/>
<rect x="647" y="167" width="1" height="155" fill="url(#sa1)" opacity="0.38"/>
<rect x="648" y="167" width="1" height="155" fill="url(#sa1)" opacity="0.38"/>
<rect x="649" y="167" width="1" height="155" fill="url(#sa1)" opacity="0.38"/>
<rect x="650" y="167" width="1" height="155" fill="url(#sa1)" opacity="0.14"/>
<rect x="651" y="167" width="1" height="155" fill="url(#sa1)" opacity="0.14"/>
<rect x="652" y="167" width="1" height="155" fill="url(#sa1)" opacity="0.14"/>
<rect x="653" y="167" width="1" height="155" fill="url(#sa1)" opacity="0.14"/>
<rect x="654" y="167" width="1" height="155" fill="url(#sa1)" opacity="0.16"/>
<rect x="655" y="167" width="1" height="155" fill="url(#sa1)" opacity="0.34"/>
<rect x="656" y="167" width="1" height="155" fill="url(#sa1)" opacity="0.34"/>
<rect x="657" y="167" width="1" height="155" fill="url(#sa1)" opacity="0.34"/>
<rect x="658" y="167" width="1" height="155" fill="url(#sa1)" opacity="0.62"/>
<rect x="659" y="167" width="1" height="155" fill="url(#sa1)" opacity="0.36"/>
<rect x="660" y="167" width="1" height="155" fill="url(#sa1)" opacity="0.36"/>
<rect x="661" y="167" width="1" height="155" fill="url(#sa1)" opacity="0.39"/>
<rect x="662" y="167" width="1" height="155" fill="url(#sa1)" opacity="0.39"/>
<rect x="663" y="167" width="1" height="155" fill="url(#sa1)" opacity="0.38"/>
<rect x="664" y="167" width="1" height="155" fill="url(#sa1)" opacity="0.38"/>
<rect x="665" y="167" width="1" height="155" fill="url(#sa1)" opacity="0.15"/>
<rect x="666" y="167" width="1" height="155" fill="url(#sa1)" opacity="0.15"/>
<rect x="667" y="167" width="1" height="155" fill="url(#sa1)" opacity="0.77"/>
<rect x="668" y="167" width="1" height="155" fill="url(#sa1)" opacity="0.36"/>
<rect x="669" y="167" width="1" height="155" fill="url(#sa1)" opacity="0.36"/>
<rect x="670" y="167" width="1" height="155" fill="url(#sa1)" opacity="0.08"/>
<rect x="671" y="167" width="1" height="155" fill="url(#sa1)" opacity="0.08"/>
<rect x="672" y="167" width="1" height="155" fill="url(#sa1)" opacity="0.08"/>
<rect x="673" y="167" width="1" height="155" fill="url(#sa1)" opacity="0.07"/>
<rect x="674" y="167" width="1" height="155" fill="url(#sa1)" opacity="0.07"/>
<rect x="675" y="167" width="1" height="155" fill="url(#sa1)" opacity="0.07"/>
<rect x="676" y="167" width="1" height="155" fill="url(#sa1)" opacity="0.44"/>
<rect x="677" y="167" width="1" height="155" fill="url(#sa1)" opacity="0.10"/>
<rect x="678" y="167" width="1" height="155" fill="url(#sa1)" opacity="0.10"/>
<rect x="679" y="167" width="1" height="155" fill="url(#sa1)" opacity="0.40"/>
<rect x="680" y="167" width="1" height="155" fill="url(#sa1)" opacity="0.40"/>
<rect x="681" y="167" width="1" height="155" fill="url(#sa1)" opacity="0.15"/>
<rect x="682" y="167" width="1" height="155" fill="url(#sa1)" opacity="0.74"/>
<rect x="683" y="167" width="1" height="155" fill="url(#sa1)" opacity="0.32"/>
<rect x="684" y="167" width="1" height="155" fill="url(#sa1)" opacity="0.32"/>
<rect x="685" y="167" width="1" height="155" fill="url(#sa1)" opacity="0.32"/>
<rect x="686" y="167" width="1" height="155" fill="url(#sa1)" opacity="0.15"/>
<rect x="687" y="167" width="1" height="155" fill="url(#sa1)" opacity="0.15"/>
<rect x="688" y="167" width="1" height="155" fill="url(#sa1)" opacity="0.15"/>
<rect x="689" y="167" width="1" height="155" fill="url(#sa1)" opacity="0.09"/>
<rect x="690" y="167" width="1" height="155" fill="url(#sa1)" opacity="0.09"/>
<rect x="691" y="167" width="1" height="155" fill="url(#sa1)" opacity="0.09"/>
<rect x="692" y="167" width="1" height="155" fill="url(#sa1)" opacity="0.42"/>
<rect x="84" y="167" width="1" height="155" fill="url(#sb1)" opacity="0.64"/>
<rect x="90" y="167" width="1" height="155" fill="url(#sb1)" opacity="0.72"/>
<rect x="101" y="167" width="1" height="155" fill="url(#sb1)" opacity="0.72"/>
<rect x="110" y="167" width="1" height="155" fill="url(#sb1)" opacity="0.52"/>
<rect x="124" y="167" width="1" height="155" fill="url(#sb1)" opacity="0.88"/>
<rect x="137" y="167" width="1" height="155" fill="url(#sb1)" opacity="0.71"/>
<rect x="145" y="167" width="1" height="155" fill="url(#sb1)" opacity="0.61"/>
<rect x="150" y="167" width="1" height="155" fill="url(#sb1)" opacity="0.98"/>
<rect x="166" y="167" width="1" height="155" fill="url(#sb1)" opacity="0.82"/>
<rect x="172" y="167" width="1" height="155" fill="url(#sb1)" opacity="0.50"/>
<rect x="186" y="167" width="1" height="155" fill="url(#sb1)" opacity="0.98"/>
<rect x="198" y="167" width="1" height="155" fill="url(#sb1)" opacity="0.75"/>
<rect x="204" y="167" width="1" height="155" fill="url(#sb1)" opacity="0.60"/>
<rect x="213" y="167" width="1" height="155" fill="url(#sb1)" opacity="0.54"/>
<rect x="228" y="167" width="1" height="155" fill="url(#sb1)" opacity="0.44"/>
<rect x="237" y="167" width="1" height="155" fill="url(#sb1)" opacity="0.55"/>
<rect x="246" y="167" width="1" height="155" fill="url(#sb1)" opacity="0.57"/>
<rect x="256" y="167" width="1" height="155" fill="url(#sb1)" opacity="0.61"/>
<rect x="264" y="167" width="1" height="155" fill="url(#sb1)" opacity="0.99"/>
<rect x="269" y="167" width="1" height="155" fill="url(#sb1)" opacity="0.76"/>
<rect x="284" y="167" width="1" height="155" fill="url(#sb1)" opacity="0.52"/>
<rect x="291" y="167" width="1" height="155" fill="url(#sb1)" opacity="0.62"/>
<rect x="308" y="167" width="1" height="155" fill="url(#sb1)" opacity="0.66"/>
<rect x="318" y="167" width="1" height="155" fill="url(#sb1)" opacity="0.45"/>
<rect x="327" y="167" width="1" height="155" fill="url(#sb1)" opacity="0.68"/>
<rect x="332" y="167" width="1" height="155" fill="url(#sb1)" opacity="0.70"/>
<rect x="347" y="167" width="1" height="155" fill="url(#sb1)" opacity="0.95"/>
<rect x="353" y="167" width="1" height="155" fill="url(#sb1)" opacity="0.66"/>
<rect x="364" y="167" width="1" height="155" fill="url(#sb1)" opacity="0.81"/>
<rect x="378" y="167" width="1" height="155" fill="url(#sb1)" opacity="0.81"/>
<rect x="384" y="167" width="1" height="155" fill="url(#sb1)" opacity="0.50"/>
<rect x="390" y="167" width="1" height="155" fill="url(#sb1)" opacity="0.74"/>
<rect x="406" y="167" width="1" height="155" fill="url(#sb1)" opacity="0.67"/>
<rect x="418" y="167" width="1" height="155" fill="url(#sb1)" opacity="0.50"/>
<rect x="421" y="167" width="1" height="155" fill="url(#sb1)" opacity="0.41"/>
<rect x="435" y="167" width="1" height="155" fill="url(#sb1)" opacity="1.00"/>
<rect x="444" y="167" width="1" height="155" fill="url(#sb1)" opacity="0.45"/>
<rect x="455" y="167" width="1" height="155" fill="url(#sb1)" opacity="0.93"/>
<rect x="466" y="167" width="1" height="155" fill="url(#sb1)" opacity="0.62"/>
<rect x="469" y="167" width="1" height="155" fill="url(#sb1)" opacity="0.45"/>
<rect x="487" y="167" width="1" height="155" fill="url(#sb1)" opacity="0.98"/>
<rect x="495" y="167" width="1" height="155" fill="url(#sb1)" opacity="0.80"/>
<rect x="502" y="167" width="1" height="155" fill="url(#sb1)" opacity="0.64"/>
<rect x="517" y="167" width="1" height="155" fill="url(#sb1)" opacity="0.90"/>
<rect x="525" y="167" width="1" height="155" fill="url(#sb1)" opacity="0.82"/>
<rect x="532" y="167" width="1" height="155" fill="url(#sb1)" opacity="0.65"/>
<rect x="547" y="167" width="1" height="155" fill="url(#sb1)" opacity="0.83"/>
<rect x="549" y="167" width="1" height="155" fill="url(#sb1)" opacity="0.84"/>
<rect x="563" y="167" width="1" height="155" fill="url(#sb1)" opacity="0.50"/>
<rect x="570" y="167" width="1" height="155" fill="url(#sb1)" opacity="0.83"/>
<rect x="586" y="167" width="1" height="155" fill="url(#sb1)" opacity="0.95"/>
<rect x="589" y="167" width="1" height="155" fill="url(#sb1)" opacity="0.81"/>
<rect x="600" y="167" width="1" height="155" fill="url(#sb1)" opacity="0.88"/>
<rect x="613" y="167" width="1" height="155" fill="url(#sb1)" opacity="0.99"/>
<rect x="627" y="167" width="1" height="155" fill="url(#sb1)" opacity="0.88"/>
<rect x="637" y="167" width="1" height="155" fill="url(#sb1)" opacity="0.68"/>
<rect x="648" y="167" width="1" height="155" fill="url(#sb1)" opacity="0.74"/>
<rect x="649" y="167" width="1" height="155" fill="url(#sb1)" opacity="0.86"/>
<rect x="667" y="167" width="1" height="155" fill="url(#sb1)" opacity="0.78"/>
<rect x="673" y="167" width="1" height="155" fill="url(#sb1)" opacity="0.44"/>
<rect x="686" y="167" width="1" height="155" fill="url(#sb1)" opacity="0.44"/>
<rect x="690" y="167" width="1" height="155" fill="url(#sb1)" opacity="0.56"/>
<linearGradient id="dw1" x1="0" y1="0" x2="0" y2="1"><stop offset="0.000" stop-color="#000" stop-opacity="0.00"/><stop offset="0.013" stop-color="#000" stop-opacity="0.00"/><stop offset="0.026" stop-color="#000" stop-opacity="0.00"/><stop offset="0.039" stop-color="#000" stop-opacity="0.00"/><stop offset="0.052" stop-color="#000" stop-opacity="0.00"/><stop offset="0.065" stop-color="#000" stop-opacity="0.00"/><stop offset="0.078" stop-color="#000" stop-opacity="0.00"/><stop offset="0.091" stop-color="#000" stop-opacity="0.00"/><stop offset="0.104" stop-color="#000" stop-opacity="0.00"/><stop offset="0.117" stop-color="#000" stop-opacity="0.00"/><stop offset="0.130" stop-color="#000" stop-opacity="0.00"/><stop offset="0.143" stop-color="#000" stop-opacity="0.00"/><stop offset="0.156" stop-color="#000" stop-opacity="0.00"/><stop offset="0.169" stop-color="#000" stop-opacity="0.00"/><stop offset="0.182" stop-color="#000" stop-opacity="0.00"/><stop offset="0.195" stop-color="#000" stop-opacity="0.00"/><stop offset="0.208" stop-color="#000" stop-opacity="0.00"/><stop offset="0.221" stop-color="#000" stop-opacity="0.00"/><stop offset="0.234" stop-color="#000" stop-opacity="0.00"/><stop offset="0.247" stop-color="#000" stop-opacity="0.00"/><stop offset="0.260" stop-color="#000" stop-opacity="0.00"/><stop offset="0.273" stop-color="#000" stop-opacity="0.00"/><stop offset="0.286" stop-color="#000" stop-opacity="0.00"/><stop offset="0.299" stop-color="#000" stop-opacity="0.00"/><stop offset="0.312" stop-color="#000" stop-opacity="0.00"/><stop offset="0.325" stop-color="#000" stop-opacity="0.00"/><stop offset="0.338" stop-color="#000" stop-opacity="0.00"/><stop offset="0.351" stop-color="#000" stop-opacity="0.00"/><stop offset="0.364" stop-color="#000" stop-opacity="0.00"/><stop offset="0.377" stop-color="#000" stop-opacity="0.00"/><stop offset="0.390" stop-color="#000" stop-opacity="0.00"/><stop offset="0.403" stop-color="#000" stop-opacity="0.00"/><stop offset="0.416" stop-color="#000" stop-opacity="0.03"/><stop offset="0.429" stop-color="#000" stop-opacity="0.08"/><stop offset="0.442" stop-color="#000" stop-opacity="0.12"/><stop offset="0.455" stop-color="#000" stop-opacity="0.18"/><stop offset="0.468" stop-color="#000" stop-opacity="0.23"/><stop offset="0.481" stop-color="#000" stop-opacity="0.29"/><stop offset="0.494" stop-color="#000" stop-opacity="0.34"/><stop offset="0.506" stop-color="#000" stop-opacity="0.40"/><stop offset="0.519" stop-color="#000" stop-opacity="0.44"/><stop offset="0.532" stop-color="#000" stop-opacity="0.48"/><stop offset="0.545" stop-color="#000" stop-opacity="0.53"/><stop offset="0.558" stop-color="#000" stop-opacity="0.59"/><stop offset="0.571" stop-color="#000" stop-opacity="0.69"/><stop offset="0.584" stop-color="#000" stop-opacity="0.75"/><stop offset="0.597" stop-color="#000" stop-opacity="0.75"/><stop offset="0.610" stop-color="#000" stop-opacity="0.75"/><stop offset="0.623" stop-color="#000" stop-opacity="0.75"/><stop offset="0.636" stop-color="#000" stop-opacity="0.75"/><stop offset="0.649" stop-color="#000" stop-opacity="0.30"/><stop offset="0.662" stop-color="#000" stop-opacity="0.25"/><stop offset="0.675" stop-color="#000" stop-opacity="0.50"/><stop offset="0.688" stop-color="#000" stop-opacity="0.50"/><stop offset="0.701" stop-color="#000" stop-opacity="0.50"/><stop offset="0.714" stop-color="#000" stop-opacity="0.50"/><stop offset="0.727" stop-color="#000" stop-opacity="0.50"/><stop offset="0.740" stop-color="#000" stop-opacity="0.50"/><stop offset="0.753" stop-color="#000" stop-opacity="0.50"/><stop offset="0.766" stop-color="#000" stop-opacity="0.50"/><stop offset="0.779" stop-color="#000" stop-opacity="0.50"/><stop offset="0.792" stop-color="#000" stop-opacity="0.50"/><stop offset="0.805" stop-color="#000" stop-opacity="0.50"/><stop offset="0.818" stop-color="#000" stop-opacity="0.50"/><stop offset="0.831" stop-color="#000" stop-opacity="0.50"/><stop offset="0.844" stop-color="#000" stop-opacity="0.50"/><stop offset="0.857" stop-color="#000" stop-opacity="0.50"/><stop offset="0.870" stop-color="#000" stop-opacity="0.50"/><stop offset="0.883" stop-color="#000" stop-opacity="0.50"/><stop offset="0.896" stop-color="#000" stop-opacity="0.50"/><stop offset="0.909" stop-color="#000" stop-opacity="0.50"/><stop offset="0.922" stop-color="#000" stop-opacity="0.50"/><stop offset="0.935" stop-color="#000" stop-opacity="0.50"/><stop offset="0.948" stop-color="#000" stop-opacity="0.00"/><stop offset="0.961" stop-color="#000" stop-opacity="0.00"/><stop offset="0.974" stop-color="#000" stop-opacity="0.00"/><stop offset="0.987" stop-color="#000" stop-opacity="0.00"/><stop offset="1.000" stop-color="#000" stop-opacity="0.00"/></linearGradient>
<rect x="79" y="167" width="614" height="155" fill="url(#dw1)" filter="url(#dash1)"/>
<rect x="416" y="212" width="73" height="1" fill="#acacac"/>
<rect x="416" y="227" width="73" height="1" fill="#868686"/>
<rect x="501" y="246" width="62" height="1" fill="#999999"/>
<rect x="276" y="296" width="12" height="1" fill="#8c8c8c"/>
<rect x="294" y="296" width="19" height="1" fill="#8c8c8c"/>
<rect x="354" y="296" width="13" height="1" fill="#8c8c8c"/>
<rect x="520" y="297" width="40" height="1" fill="#808080"/>
<rect x="158" y="314" width="37" height="1" fill="#bfbfbf"/>
<rect x="240" y="314" width="14" height="1" fill="#bfbfbf"/>
<rect x="276" y="314" width="19" height="1" fill="#bfbfbf"/>
<rect x="330" y="314" width="50" height="1" fill="#b9b9b9"/>
<rect x="560" y="314" width="40" height="1" fill="#bfbfbf"/>
</g>
<g filter="url(#cm2)" shape-rendering="crispEdges">
<rect x="79" y="332" width="614" height="1" fill="#808080"/>
<rect x="79" y="333" width="614" height="1" fill="#7f7f7f"/>
<rect x="79" y="334" width="614" height="1" fill="#7f7f7f"/>
<rect x="79" y="335" width="614" height="1" fill="#7f7f7f"/>
<rect x="79" y="336" width="614" height="1" fill="#7f7f7f"/>
<rect x="79" y="337" width="614" height="1" fill="#7f7f7f"/>
<rect x="79" y="338" width="614" height="1" fill="#7e7e7e"/>
<rect x="79" y="339" width="614" height="1" fill="#7e7e7e"/>
<rect x="79" y="340" width="614" height="1" fill="#7e7e7e"/>
<rect x="79" y="341" width="614" height="1" fill="#7e7e7e"/>
<rect x="79" y="342" width="614" height="1" fill="#7e7e7e"/>
<rect x="79" y="343" width="614" height="1" fill="#7e7e7e"/>
<rect x="79" y="344" width="614" height="1" fill="#7d7d7d"/>
<rect x="79" y="345" width="614" height="1" fill="#7d7d7d"/>
<rect x="79" y="346" width="614" height="1" fill="#7d7d7d"/>
<rect x="79" y="347" width="614" height="1" fill="#7d7d7d"/>
<rect x="79" y="348" width="614" height="1" fill="#7d7d7d"/>
<rect x="79" y="349" width="614" height="1" fill="#7d7d7d"/>
<rect x="79" y="350" width="614" height="1" fill="#7c7c7c"/>
<rect x="79" y="351" width="614" height="1" fill="#7c7c7c"/>
<rect x="79" y="352" width="614" height="1" fill="#7c7c7c"/>
<rect x="79" y="353" width="614" height="1" fill="#7c7c7c"/>
<rect x="79" y="354" width="614" height="1" fill="#7c7c7c"/>
<rect x="79" y="355" width="614" height="1" fill="#7c7c7c"/>
<rect x="79" y="356" width="614" height="1" fill="#7b7b7b"/>
<rect x="79" y="357" width="614" height="1" fill="#7b7b7b"/>
<rect x="79" y="358" width="614" height="1" fill="#7b7b7b"/>
<rect x="79" y="359" width="614" height="1" fill="#7b7b7b"/>
<rect x="79" y="360" width="614" height="1" fill="#7b7b7b"/>
<rect x="79" y="361" width="614" height="1" fill="#7b7b7b"/>
<rect x="79" y="362" width="614" height="1" fill="#7a7a7a"/>
<rect x="79" y="363" width="614" height="1" fill="#7a7a7a"/>
<rect x="79" y="364" width="614" height="1" fill="#7a7a7a"/>
<rect x="79" y="365" width="614" height="1" fill="#7a7a7a"/>
<rect x="79" y="366" width="614" height="1" fill="#7a7a7a"/>
<rect x="79" y="367" width="614" height="1" fill="#7a7a7a"/>
<rect x="79" y="368" width="614" height="1" fill="#797979"/>
<rect x="79" y="369" width="614" height="1" fill="#797979"/>
<rect x="79" y="370" width="614" height="1" fill="#797979"/>
<rect x="79" y="371" width="614" height="1" fill="#787878"/>
<rect x="79" y="372" width="614" height="1" fill="#767676"/>
<rect x="79" y="373" width="614" height="1" fill="#747474"/>
<rect x="79" y="374" width="614" height="1" fill="#737373"/>
<rect x="79" y="375" width="614" height="1" fill="#717171"/>
<rect x="79" y="376" width="614" height="1" fill="#707070"/>
<rect x="79" y="377" width="614" height="1" fill="#6e6e6e"/>
<rect x="79" y="378" width="614" height="1" fill="#6c6c6c"/>
<rect x="79" y="379" width="614" height="1" fill="#6b6b6b"/>
<rect x="79" y="380" width="614" height="1" fill="#696969"/>
<rect x="79" y="381" width="614" height="1" fill="#686868"/>
<rect x="79" y="382" width="614" height="1" fill="#666666"/>
<rect x="79" y="383" width="614" height="1" fill="#646464"/>
<rect x="79" y="384" width="614" height="1" fill="#636363"/>
<rect x="79" y="385" width="614" height="1" fill="#616161"/>
<rect x="79" y="386" width="614" height="1" fill="#606060"/>
<rect x="79" y="387" width="614" height="1" fill="#5e5e5e"/>
<rect x="79" y="388" width="614" height="1" fill="#5c5c5c"/>
<rect x="79" y="389" width="614" height="1" fill="#5a5a5a"/>
<rect x="79" y="390" width="614" height="1" fill="#595959"/>
<rect x="79" y="391" width="614" height="1" fill="#575757"/>
<rect x="79" y="392" width="614" height="1" fill="#555555"/>
<rect x="79" y="393" width="614" height="1" fill="#535353"/>
<rect x="79" y="394" width="614" height="1" fill="#515151"/>
<rect x="79" y="395" width="614" height="1" fill="#505050"/>
<rect x="79" y="396" width="614" height="1" fill="#4f4f4f"/>
<rect x="79" y="397" width="614" height="1" fill="#4e4e4e"/>
<rect x="79" y="398" width="614" height="1" fill="#4e4e4e"/>
<rect x="79" y="399" width="614" height="1" fill="#4d4d4d"/>
<rect x="79" y="400" width="614" height="1" fill="#4d4d4d"/>
<rect x="79" y="401" width="614" height="1" fill="#4c4c4c"/>
<rect x="79" y="402" width="614" height="1" fill="#4b4b4b"/>
<rect x="79" y="403" width="614" height="1" fill="#4b4b4b"/>
<rect x="79" y="404" width="614" height="1" fill="#4a4a4a"/>
<rect x="79" y="405" width="614" height="1" fill="#494949"/>
<rect x="79" y="406" width="614" height="1" fill="#494949"/>
<rect x="79" y="407" width="614" height="1" fill="#484848"/>
<rect x="79" y="408" width="614" height="1" fill="#484848"/>
<rect x="79" y="409" width="614" height="1" fill="#474747"/>
<rect x="79" y="410" width="614" height="1" fill="#474747"/>
<rect x="79" y="411" width="614" height="1" fill="#464646"/>
<rect x="79" y="412" width="614" height="1" fill="#454545"/>
<rect x="79" y="413" width="614" height="1" fill="#454545"/>
<rect x="79" y="414" width="614" height="1" fill="#454545"/>
<rect x="79" y="415" width="614" height="1" fill="#444444"/>
<rect x="79" y="416" width="614" height="1" fill="#444444"/>
<rect x="79" y="417" width="614" height="1" fill="#444444"/>
<rect x="79" y="418" width="614" height="1" fill="#434343"/>
<rect x="79" y="419" width="614" height="1" fill="#434343"/>
<rect x="79" y="420" width="614" height="1" fill="#434343"/>
<rect x="79" y="421" width="614" height="1" fill="#434343"/>
<rect x="79" y="422" width="614" height="1" fill="#434343"/>
<rect x="79" y="423" width="614" height="1" fill="#434343"/>
<rect x="79" y="424" width="614" height="1" fill="#434343"/>
<rect x="79" y="425" width="614" height="1" fill="#434343"/>
<rect x="79" y="426" width="614" height="1" fill="#434343"/>
<rect x="79" y="427" width="614" height="1" fill="#434343"/>
<rect x="79" y="428" width="614" height="1" fill="#434343"/>
<rect x="79" y="429" width="614" height="1" fill="#434343"/>
<rect x="79" y="430" width="614" height="1" fill="#a6a6a6"/>
<rect x="79" y="431" width="614" height="1" fill="#8c8c8c"/>
<rect x="79" y="432" width="614" height="1" fill="#898989"/>
<rect x="79" y="433" width="614" height="1" fill="#838383"/>
<rect x="79" y="434" width="614" height="1" fill="#808080"/>
<rect x="79" y="435" width="614" height="1" fill="#7c7c7c"/>
<rect x="79" y="436" width="614" height="1" fill="#797979"/>
<rect x="79" y="437" width="614" height="1" fill="#767676"/>
<rect x="79" y="438" width="614" height="1" fill="#737373"/>
<rect x="79" y="439" width="614" height="1" fill="#6e6e6e"/>
<rect x="79" y="440" width="614" height="1" fill="#6a6a6a"/>
<rect x="79" y="441" width="614" height="1" fill="#666666"/>
<rect x="79" y="442" width="614" height="1" fill="#626262"/>
<rect x="79" y="443" width="614" height="1" fill="#5e5e5e"/>
<rect x="79" y="444" width="614" height="1" fill="#595959"/>
<rect x="79" y="445" width="614" height="1" fill="#a9a9a9"/>
<rect x="79" y="446" width="614" height="1" fill="#595959"/>
<rect x="79" y="447" width="614" height="1" fill="#575757"/>
<rect x="79" y="448" width="614" height="1" fill="#555555"/>
<rect x="79" y="449" width="614" height="1" fill="#535353"/>
<rect x="79" y="450" width="614" height="1" fill="#464646"/>
<rect x="79" y="451" width="614" height="1" fill="#454545"/>
<rect x="79" y="452" width="614" height="1" fill="#454545"/>
<rect x="79" y="453" width="614" height="1" fill="#444444"/>
<rect x="79" y="454" width="614" height="1" fill="#434343"/>
<rect x="79" y="455" width="614" height="1" fill="#262626"/>
<rect x="79" y="456" width="614" height="1" fill="#262626"/>
<rect x="79" y="457" width="614" height="1" fill="#262626"/>
<rect x="79" y="458" width="614" height="1" fill="#262626"/>
<rect x="79" y="459" width="614" height="1" fill="#262626"/>
<rect x="79" y="460" width="614" height="1" fill="#262626"/>
<rect x="79" y="461" width="614" height="1" fill="#464646"/>
<rect x="79" y="462" width="614" height="1" fill="#393939"/>
<rect x="79" y="463" width="614" height="1" fill="#393939"/>
<rect x="79" y="464" width="614" height="1" fill="#393939"/>
<rect x="79" y="465" width="614" height="1" fill="#464646"/>
<rect x="79" y="466" width="614" height="1" fill="#444444"/>
<rect x="79" y="467" width="614" height="1" fill="#424242"/>
<rect x="79" y="468" width="614" height="1" fill="#404040"/>
<rect x="79" y="469" width="614" height="1" fill="#737373"/>
<rect x="79" y="470" width="614" height="1" fill="#4d4d4d"/>
<rect x="79" y="471" width="614" height="1" fill="#131313"/>
<rect x="79" y="472" width="614" height="1" fill="#131313"/>
<rect x="79" y="473" width="614" height="1" fill="#131313"/>
<rect x="79" y="474" width="614" height="1" fill="#131313"/>
<rect x="79" y="475" width="614" height="1" fill="#535353"/>
<rect x="79" y="476" width="614" height="1" fill="#464646"/>
<rect x="79" y="477" width="614" height="1" fill="#1d1d1d"/>
<rect x="79" y="478" width="614" height="1" fill="#1d1d1d"/>
<rect x="79" y="479" width="614" height="1" fill="#1d1d1d"/>
<rect x="79" y="480" width="614" height="1" fill="#1d1d1d"/>
<rect x="79" y="481" width="614" height="1" fill="#404040"/>
<rect x="79" y="482" width="614" height="1" fill="#4d4d4d"/>
<rect x="79" y="483" width="614" height="1" fill="#797979"/>
<rect x="79" y="484" width="614" height="1" fill="#464646"/>
<rect x="79" y="485" width="614" height="1" fill="#464646"/>
<rect x="79" y="486" width="614" height="1" fill="#464646"/>
<rect x="79" y="487" width="614" height="1" fill="#464646"/>
<rect x="79" y="455" width="50" height="1" fill="#505050"/>
<rect x="129" y="455" width="61" height="1" fill="#2a2a2a"/>
<rect x="190" y="455" width="48" height="1" fill="#4e4e4e"/>
<rect x="238" y="455" width="33" height="1" fill="#525252"/>
<rect x="271" y="455" width="38" height="1" fill="#323232"/>
<rect x="309" y="455" width="65" height="1" fill="#444444"/>
<rect x="374" y="455" width="18" height="1" fill="#424242"/>
<rect x="392" y="455" width="37" height="1" fill="#565656"/>
<rect x="429" y="455" width="58" height="1" fill="#393939"/>
<rect x="487" y="455" width="37" height="1" fill="#4e4e4e"/>
<rect x="524" y="455" width="62" height="1" fill="#4f4f4f"/>
<rect x="586" y="455" width="19" height="1" fill="#3d3d3d"/>
<rect x="605" y="455" width="51" height="1" fill="#474747"/>
<rect x="656" y="455" width="37" height="1" fill="#515151"/>
<rect x="79" y="458" width="53" height="1" fill="#5b5b5b"/>
<rect x="132" y="458" width="42" height="1" fill="#454545"/>
<rect x="174" y="458" width="37" height="1" fill="#414141"/>
<rect x="211" y="458" width="41" height="1" fill="#4b4b4b"/>
<rect x="252" y="458" width="25" height="1" fill="#515151"/>
<rect x="277" y="458" width="51" height="1" fill="#515151"/>
<rect x="328" y="458" width="43" height="1" fill="#656565"/>
<rect x="371" y="458" width="68" height="1" fill="#5d5d5d"/>
<rect x="439" y="458" width="53" height="1" fill="#535353"/>
<rect x="492" y="458" width="67" height="1" fill="#4b4b4b"/>
<rect x="559" y="458" width="32" height="1" fill="#595959"/>
<rect x="591" y="458" width="56" height="1" fill="#323232"/>
<rect x="647" y="458" width="46" height="1" fill="#414141"/>
<rect x="79" y="461" width="58" height="1" fill="#4d4d4d"/>
<rect x="137" y="461" width="47" height="1" fill="#3e3e3e"/>
<rect x="184" y="461" width="17" height="1" fill="#454545"/>
<rect x="201" y="461" width="37" height="1" fill="#4b4b4b"/>
<rect x="238" y="461" width="45" height="1" fill="#515151"/>
<rect x="283" y="461" width="25" height="1" fill="#595959"/>
<rect x="308" y="461" width="54" height="1" fill="#626262"/>
<rect x="362" y="461" width="36" height="1" fill="#4a4a4a"/>
<rect x="398" y="461" width="17" height="1" fill="#484848"/>
<rect x="415" y="461" width="20" height="1" fill="#404040"/>
<rect x="435" y="461" width="38" height="1" fill="#515151"/>
<rect x="473" y="461" width="46" height="1" fill="#4e4e4e"/>
<rect x="519" y="461" width="22" height="1" fill="#404040"/>
<rect x="541" y="461" width="24" height="1" fill="#525252"/>
<rect x="565" y="461" width="22" height="1" fill="#505050"/>
<rect x="587" y="461" width="32" height="1" fill="#565656"/>
<rect x="619" y="461" width="61" height="1" fill="#545454"/>
<rect x="680" y="461" width="13" height="1" fill="#474747"/>
<rect x="79" y="464" width="67" height="1" fill="#434343"/>
<rect x="146" y="464" width="17" height="1" fill="#5d5d5d"/>
<rect x="163" y="464" width="22" height="1" fill="#525252"/>
<rect x="185" y="464" width="23" height="1" fill="#474747"/>
<rect x="208" y="464" width="18" height="1" fill="#5c5c5c"/>
<rect x="226" y="464" width="18" height="1" fill="#383838"/>
<rect x="244" y="464" width="26" height="1" fill="#353535"/>
<rect x="270" y="464" width="44" height="1" fill="#4f4f4f"/>
<rect x="314" y="464" width="17" height="1" fill="#4d4d4d"/>
<rect x="331" y="464" width="54" height="1" fill="#5c5c5c"/>
<rect x="385" y="464" width="42" height="1" fill="#646464"/>
<rect x="427" y="464" width="58" height="1" fill="#464646"/>
<rect x="485" y="464" width="48" height="1" fill="#515151"/>
<rect x="533" y="464" width="54" height="1" fill="#565656"/>
<rect x="587" y="464" width="17" height="1" fill="#3a3a3a"/>
<rect x="604" y="464" width="46" height="1" fill="#535353"/>
<rect x="650" y="464" width="43" height="1" fill="#505050"/>
<rect x="79" y="467" width="17" height="1" fill="#515151"/>
<rect x="96" y="467" width="17" height="1" fill="#515151"/>
<rect x="113" y="467" width="18" height="1" fill="#525252"/>
<rect x="131" y="467" width="51" height="1" fill="#575757"/>
<rect x="182" y="467" width="31" height="1" fill="#545454"/>
<rect x="213" y="467" width="52" height="1" fill="#636363"/>
<rect x="265" y="467" width="34" height="1" fill="#4e4e4e"/>
<rect x="299" y="467" width="46" height="1" fill="#464646"/>
<rect x="345" y="467" width="47" height="1" fill="#454545"/>
<rect x="392" y="467" width="49" height="1" fill="#575757"/>
<rect x="441" y="467" width="33" height="1" fill="#515151"/>
<rect x="474" y="467" width="19" height="1" fill="#4d4d4d"/>
<rect x="493" y="467" width="16" height="1" fill="#3e3e3e"/>
<rect x="509" y="467" width="58" height="1" fill="#4b4b4b"/>
<rect x="567" y="467" width="15" height="1" fill="#545454"/>
<rect x="582" y="467" width="54" height="1" fill="#515151"/>
<rect x="636" y="467" width="39" height="1" fill="#6a6a6a"/>
<rect x="675" y="467" width="18" height="1" fill="#5f5f5f"/>
<rect x="79" y="472" width="56" height="1" fill="#737373"/>
<rect x="135" y="472" width="30" height="1" fill="#515151"/>
<rect x="165" y="472" width="37" height="1" fill="#646464"/>
<rect x="202" y="472" width="62" height="1" fill="#636363"/>
<rect x="264" y="472" width="31" height="1" fill="#5f5f5f"/>
<rect x="295" y="472" width="34" height="1" fill="#4c4c4c"/>
<rect x="329" y="472" width="45" height="1" fill="#101010"/>
<rect x="374" y="472" width="49" height="1" fill="#181818"/>
<rect x="423" y="472" width="66" height="1" fill="#585858"/>
<rect x="489" y="472" width="61" height="1" fill="#4c4c4c"/>
<rect x="550" y="472" width="18" height="1" fill="#525252"/>
<rect x="568" y="472" width="61" height="1" fill="#585858"/>
<rect x="629" y="472" width="64" height="1" fill="#101010"/>
<rect x="79" y="474" width="50" height="1" fill="#4b4b4b"/>
<rect x="129" y="474" width="52" height="1" fill="#3f3f3f"/>
<rect x="181" y="474" width="34" height="1" fill="#414141"/>
<rect x="215" y="474" width="15" height="1" fill="#4d4d4d"/>
<rect x="230" y="474" width="43" height="1" fill="#464646"/>
<rect x="273" y="474" width="45" height="1" fill="#323232"/>
<rect x="318" y="474" width="17" height="1" fill="#444444"/>
<rect x="335" y="474" width="51" height="1" fill="#3c3c3c"/>
<rect x="386" y="474" width="31" height="1" fill="#4d4d4d"/>
<rect x="417" y="474" width="41" height="1" fill="#1b1b1b"/>
<rect x="458" y="474" width="30" height="1" fill="#3a3a3a"/>
<rect x="488" y="474" width="21" height="1" fill="#4f4f4f"/>
<rect x="509" y="474" width="21" height="1" fill="#363636"/>
<rect x="530" y="474" width="16" height="1" fill="#494949"/>
<rect x="546" y="474" width="34" height="1" fill="#4d4d4d"/>
<rect x="580" y="474" width="55" height="1" fill="#404040"/>
<rect x="635" y="474" width="26" height="1" fill="#484848"/>
<rect x="661" y="474" width="32" height="1" fill="#2e2e2e"/>
<rect x="79" y="478" width="41" height="1" fill="#4b4b4b"/>
<rect x="120" y="478" width="23" height="1" fill="#5b5b5b"/>
<rect x="143" y="478" width="47" height="1" fill="#1d1d1d"/>
<rect x="190" y="478" width="52" height="1" fill="#5c5c5c"/>
<rect x="242" y="478" width="20" height="1" fill="#565656"/>
<rect x="262" y="478" width="22" height="1" fill="#444444"/>
<rect x="284" y="478" width="59" height="1" fill="#636363"/>
<rect x="343" y="478" width="57" height="1" fill="#464646"/>
<rect x="400" y="478" width="36" height="1" fill="#1c1c1c"/>
<rect x="436" y="478" width="64" height="1" fill="#525252"/>
<rect x="500" y="478" width="17" height="1" fill="#4e4e4e"/>
<rect x="517" y="478" width="38" height="1" fill="#1a1a1a"/>
<rect x="555" y="478" width="34" height="1" fill="#454545"/>
<rect x="589" y="478" width="28" height="1" fill="#434343"/>
<rect x="617" y="478" width="49" height="1" fill="#515151"/>
<rect x="666" y="478" width="27" height="1" fill="#4f4f4f"/>
<linearGradient id="sa2" x1="0" y1="0" x2="0" y2="1"><stop offset="0.000" stop-color="#fff" stop-opacity="0.501"/><stop offset="0.013" stop-color="#fff" stop-opacity="0.503"/><stop offset="0.026" stop-color="#fff" stop-opacity="0.505"/><stop offset="0.039" stop-color="#fff" stop-opacity="0.506"/><stop offset="0.052" stop-color="#fff" stop-opacity="0.508"/><stop offset="0.065" stop-color="#fff" stop-opacity="0.510"/><stop offset="0.077" stop-color="#fff" stop-opacity="0.512"/><stop offset="0.090" stop-color="#fff" stop-opacity="0.514"/><stop offset="0.103" stop-color="#fff" stop-opacity="0.516"/><stop offset="0.116" stop-color="#fff" stop-opacity="0.517"/><stop offset="0.129" stop-color="#fff" stop-opacity="0.519"/><stop offset="0.142" stop-color="#fff" stop-opacity="0.521"/><stop offset="0.155" stop-color="#fff" stop-opacity="0.523"/><stop offset="0.168" stop-color="#fff" stop-opacity="0.525"/><stop offset="0.181" stop-color="#fff" stop-opacity="0.526"/><stop offset="0.194" stop-color="#fff" stop-opacity="0.528"/><stop offset="0.206" stop-color="#fff" stop-opacity="0.530"/><stop offset="0.219" stop-color="#fff" stop-opacity="0.532"/><stop offset="0.232" stop-color="#fff" stop-opacity="0.533"/><stop offset="0.245" stop-color="#fff" stop-opacity="0.535"/><stop offset="0.258" stop-color="#fff" stop-opacity="0.525"/><stop offset="0.271" stop-color="#fff" stop-opacity="0.516"/><stop offset="0.284" stop-color="#fff" stop-opacity="0.508"/><stop offset="0.297" stop-color="#fff" stop-opacity="0.500"/><stop offset="0.310" stop-color="#fff" stop-opacity="0.496"/><stop offset="0.323" stop-color="#fff" stop-opacity="0.494"/><stop offset="0.335" stop-color="#fff" stop-opacity="0.492"/><stop offset="0.348" stop-color="#fff" stop-opacity="0.490"/><stop offset="0.361" stop-color="#fff" stop-opacity="0.486"/><stop offset="0.374" stop-color="#fff" stop-opacity="0.484"/><stop offset="0.387" stop-color="#fff" stop-opacity="0.481"/><stop offset="0.400" stop-color="#fff" stop-opacity="0.478"/><stop offset="0.413" stop-color="#fff" stop-opacity="0.473"/><stop offset="0.426" stop-color="#fff" stop-opacity="0.472"/><stop offset="0.439" stop-color="#fff" stop-opacity="0.471"/><stop offset="0.452" stop-color="#fff" stop-opacity="0.470"/><stop offset="0.465" stop-color="#fff" stop-opacity="0.469"/><stop offset="0.477" stop-color="#fff" stop-opacity="0.468"/><stop offset="0.490" stop-color="#fff" stop-opacity="0.468"/><stop offset="0.503" stop-color="#fff" stop-opacity="0.463"/><stop offset="0.516" stop-color="#fff" stop-opacity="0.444"/><stop offset="0.529" stop-color="#fff" stop-opacity="0.427"/><stop offset="0.542" stop-color="#fff" stop-opacity="0.411"/><stop offset="0.555" stop-color="#fff" stop-opacity="0.394"/><stop offset="0.568" stop-color="#fff" stop-opacity="0.378"/><stop offset="0.581" stop-color="#fff" stop-opacity="0.363"/><stop offset="0.594" stop-color="#fff" stop-opacity="0.347"/><stop offset="0.606" stop-color="#fff" stop-opacity="0.275"/><stop offset="0.619" stop-color="#fff" stop-opacity="0.134"/><stop offset="0.632" stop-color="#fff" stop-opacity="0.230"/><stop offset="0.645" stop-color="#fff" stop-opacity="0.156"/><stop offset="0.658" stop-color="#fff" stop-opacity="0.129"/><stop offset="0.671" stop-color="#fff" stop-opacity="0.107"/><stop offset="0.684" stop-color="#fff" stop-opacity="0.088"/><stop offset="0.697" stop-color="#fff" stop-opacity="0.069"/><stop offset="0.710" stop-color="#fff" stop-opacity="0.060"/><stop offset="0.723" stop-color="#fff" stop-opacity="0.056"/><stop offset="0.735" stop-color="#fff" stop-opacity="0.056"/><stop offset="0.748" stop-color="#fff" stop-opacity="0.053"/><stop offset="0.761" stop-color="#fff" stop-opacity="0.048"/><stop offset="0.774" stop-color="#fff" stop-opacity="0.047"/><stop offset="0.787" stop-color="#fff" stop-opacity="0.046"/><stop offset="0.800" stop-color="#fff" stop-opacity="0.039"/><stop offset="0.813" stop-color="#fff" stop-opacity="0.039"/><stop offset="0.826" stop-color="#fff" stop-opacity="0.038"/><stop offset="0.839" stop-color="#fff" stop-opacity="0.041"/><stop offset="0.852" stop-color="#fff" stop-opacity="0.040"/><stop offset="0.865" stop-color="#fff" stop-opacity="0.042"/><stop offset="0.877" stop-color="#fff" stop-opacity="0.040"/><stop offset="0.890" stop-color="#fff" stop-opacity="0.042"/><stop offset="0.903" stop-color="#fff" stop-opacity="0.032"/><stop offset="0.916" stop-color="#fff" stop-opacity="0.031"/><stop offset="0.929" stop-color="#fff" stop-opacity="0.039"/><stop offset="0.942" stop-color="#fff" stop-opacity="0.031"/><stop offset="0.955" stop-color="#fff" stop-opacity="0.030"/><stop offset="0.968" stop-color="#fff" stop-opacity="0.038"/><stop offset="0.981" stop-color="#fff" stop-opacity="0.036"/><stop offset="0.994" stop-color="#fff" stop-opacity="0.035"/><stop offset="1.000" stop-color="#fff" stop-opacity="0.035"/></linearGradient>
<linearGradient id="sb2" x1="0" y1="0" x2="0" y2="1"><stop offset="0.000" stop-color="#fff" stop-opacity="0.126"/><stop offset="0.013" stop-color="#fff" stop-opacity="0.127"/><stop offset="0.026" stop-color="#fff" stop-opacity="0.129"/><stop offset="0.039" stop-color="#fff" stop-opacity="0.131"/><stop offset="0.052" stop-color="#fff" stop-opacity="0.133"/><stop offset="0.065" stop-color="#fff" stop-opacity="0.134"/><stop offset="0.077" stop-color="#fff" stop-opacity="0.136"/><stop offset="0.090" stop-color="#fff" stop-opacity="0.138"/><stop offset="0.103" stop-color="#fff" stop-opacity="0.140"/><stop offset="0.116" stop-color="#fff" stop-opacity="0.141"/><stop offset="0.129" stop-color="#fff" stop-opacity="0.143"/><stop offset="0.142" stop-color="#fff" stop-opacity="0.145"/><stop offset="0.155" stop-color="#fff" stop-opacity="0.147"/><stop offset="0.168" stop-color="#fff" stop-opacity="0.148"/><stop offset="0.181" stop-color="#fff" stop-opacity="0.150"/><stop offset="0.194" stop-color="#fff" stop-opacity="0.152"/><stop offset="0.206" stop-color="#fff" stop-opacity="0.153"/><stop offset="0.219" stop-color="#fff" stop-opacity="0.155"/><stop offset="0.232" stop-color="#fff" stop-opacity="0.157"/><stop offset="0.245" stop-color="#fff" stop-opacity="0.158"/><stop offset="0.258" stop-color="#fff" stop-opacity="0.157"/><stop offset="0.271" stop-color="#fff" stop-opacity="0.155"/><stop offset="0.284" stop-color="#fff" stop-opacity="0.153"/><stop offset="0.297" stop-color="#fff" stop-opacity="0.152"/><stop offset="0.310" stop-color="#fff" stop-opacity="0.152"/><stop offset="0.323" stop-color="#fff" stop-opacity="0.153"/><stop offset="0.335" stop-color="#fff" stop-opacity="0.154"/><stop offset="0.348" stop-color="#fff" stop-opacity="0.155"/><stop offset="0.361" stop-color="#fff" stop-opacity="0.155"/><stop offset="0.374" stop-color="#fff" stop-opacity="0.156"/><stop offset="0.387" stop-color="#fff" stop-opacity="0.156"/><stop offset="0.400" stop-color="#fff" stop-opacity="0.156"/><stop offset="0.413" stop-color="#fff" stop-opacity="0.158"/><stop offset="0.426" stop-color="#fff" stop-opacity="0.160"/><stop offset="0.439" stop-color="#fff" stop-opacity="0.162"/><stop offset="0.452" stop-color="#fff" stop-opacity="0.165"/><stop offset="0.465" stop-color="#fff" stop-opacity="0.167"/><stop offset="0.477" stop-color="#fff" stop-opacity="0.169"/><stop offset="0.490" stop-color="#fff" stop-opacity="0.171"/><stop offset="0.503" stop-color="#fff" stop-opacity="0.174"/><stop offset="0.516" stop-color="#fff" stop-opacity="0.177"/><stop offset="0.529" stop-color="#fff" stop-opacity="0.181"/><stop offset="0.542" stop-color="#fff" stop-opacity="0.185"/><stop offset="0.555" stop-color="#fff" stop-opacity="0.189"/><stop offset="0.568" stop-color="#fff" stop-opacity="0.192"/><stop offset="0.581" stop-color="#fff" stop-opacity="0.197"/><stop offset="0.594" stop-color="#fff" stop-opacity="0.201"/><stop offset="0.606" stop-color="#fff" stop-opacity="0.203"/><stop offset="0.619" stop-color="#fff" stop-opacity="0.201"/><stop offset="0.632" stop-color="#fff" stop-opacity="0.421"/><stop offset="0.645" stop-color="#fff" stop-opacity="0.316"/><stop offset="0.658" stop-color="#fff" stop-opacity="0.290"/><stop offset="0.671" stop-color="#fff" stop-opacity="0.275"/><stop offset="0.684" stop-color="#fff" stop-opacity="0.260"/><stop offset="0.697" stop-color="#fff" stop-opacity="0.243"/><stop offset="0.710" stop-color="#fff" stop-opacity="0.229"/><stop offset="0.723" stop-color="#fff" stop-opacity="0.215"/><stop offset="0.735" stop-color="#fff" stop-opacity="0.214"/><stop offset="0.748" stop-color="#fff" stop-opacity="0.207"/><stop offset="0.761" stop-color="#fff" stop-opacity="0.190"/><stop offset="0.774" stop-color="#fff" stop-opacity="0.188"/><stop offset="0.787" stop-color="#fff" stop-opacity="0.186"/><stop offset="0.800" stop-color="#fff" stop-opacity="0.162"/><stop offset="0.813" stop-color="#fff" stop-opacity="0.162"/><stop offset="0.826" stop-color="#fff" stop-opacity="0.162"/><stop offset="0.839" stop-color="#fff" stop-opacity="0.177"/><stop offset="0.852" stop-color="#fff" stop-opacity="0.177"/><stop offset="0.865" stop-color="#fff" stop-opacity="0.187"/><stop offset="0.877" stop-color="#fff" stop-opacity="0.183"/><stop offset="0.890" stop-color="#fff" stop-opacity="0.196"/><stop offset="0.903" stop-color="#fff" stop-opacity="0.149"/><stop offset="0.916" stop-color="#fff" stop-opacity="0.149"/><stop offset="0.929" stop-color="#fff" stop-opacity="0.190"/><stop offset="0.942" stop-color="#fff" stop-opacity="0.155"/><stop offset="0.955" stop-color="#fff" stop-opacity="0.155"/><stop offset="0.968" stop-color="#fff" stop-opacity="0.196"/><stop offset="0.981" stop-color="#fff" stop-opacity="0.190"/><stop offset="0.994" stop-color="#fff" stop-opacity="0.190"/><stop offset="1.000" stop-color="#fff" stop-opacity="0.190"/></linearGradient>
<rect x="79" y="332" width="1" height="156" fill="url(#sa2)" opacity="0.79"/>
<rect x="80" y="332" width="1" height="156" fill="url(#sa2)" opacity="0.79"/>
<rect x="81" y="332" width="1" height="156" fill="url(#sa2)" opacity="0.32"/>
<rect x="82" y="332" width="1" height="156" fill="url(#sa2)" opacity="0.32"/>
<rect x="83" y="332" width="1" height="156" fill="url(#sa2)" opacity="0.32"/>
<rect x="84" y="332" width="1" height="156" fill="url(#sa2)" opacity="0.32"/>
<rect x="85" y="332" width="1" height="156" fill="url(#sa2)" opacity="0.69"/>
<rect x="86" y="332" width="1" height="156" fill="url(#sa2)" opacity="0.06"/>
<rect x="87" y="332" width="1" height="156" fill="url(#sa2)" opacity="0.06"/>
<rect x="88" y="332" width="1" height="156" fill="url(#sa2)" opacity="0.06"/>
<rect x="89" y="332" width="1" height="156" fill="url(#sa2)" opacity="0.70"/>
<rect x="90" y="332" width="1" height="156" fill="url(#sa2)" opacity="0.32"/>
<rect x="91" y="332" width="1" height="156" fill="url(#sa2)" opacity="0.31"/>
<rect x="92" y="332" width="1" height="156" fill="url(#sa2)" opacity="0.31"/>
<rect x="93" y="332" width="1" height="156" fill="url(#sa2)" opacity="0.31"/>
<rect x="94" y="332" width="1" height="156" fill="url(#sa2)" opacity="0.16"/>
<rect x="95" y="332" width="1" height="156" fill="url(#sa2)" opacity="0.16"/>
<rect x="96" y="332" width="1" height="156" fill="url(#sa2)" opacity="0.16"/>
<rect x="97" y="332" width="1" height="156" fill="url(#sa2)" opacity="0.16"/>
<rect x="98" y="332" width="1" height="156" fill="url(#sa2)" opacity="0.16"/>
<rect x="99" y="332" width="1" height="156" fill="url(#sa2)" opacity="0.82"/>
<rect x="100" y="332" width="1" height="156" fill="url(#sa2)" opacity="0.82"/>
<rect x="101" y="332" width="1" height="156" fill="url(#sa2)" opacity="0.16"/>
<rect x="102" y="332" width="1" height="156" fill="url(#sa2)" opacity="0.16"/>
<rect x="103" y="332" width="1" height="156" fill="url(#sa2)" opacity="0.13"/>
<rect x="104" y="332" width="1" height="156" fill="url(#sa2)" opacity="0.13"/>
<rect x="105" y="332" width="1" height="156" fill="url(#sa2)" opacity="0.13"/>
<rect x="106" y="332" width="1" height="156" fill="url(#sa2)" opacity="0.08"/>
<rect x="107" y="332" width="1" height="156" fill="url(#sa2)" opacity="0.08"/>
<rect x="108" y="332" width="1" height="156" fill="url(#sa2)" opacity="0.08"/>
<rect x="109" y="332" width="1" height="156" fill="url(#sa2)" opacity="0.62"/>
<rect x="110" y="332" width="1" height="156" fill="url(#sa2)" opacity="0.75"/>
<rect x="111" y="332" width="1" height="156" fill="url(#sa2)" opacity="0.31"/>
<rect x="112" y="332" width="1" height="156" fill="url(#sa2)" opacity="0.31"/>
<rect x="113" y="332" width="1" height="156" fill="url(#sa2)" opacity="0.38"/>
<rect x="114" y="332" width="1" height="156" fill="url(#sa2)" opacity="0.38"/>
<rect x="115" y="332" width="1" height="156" fill="url(#sa2)" opacity="0.32"/>
<rect x="116" y="332" width="1" height="156" fill="url(#sa2)" opacity="0.33"/>
<rect x="117" y="332" width="1" height="156" fill="url(#sa2)" opacity="0.33"/>
<rect x="118" y="332" width="1" height="156" fill="url(#sa2)" opacity="0.07"/>
<rect x="119" y="332" width="1" height="156" fill="url(#sa2)" opacity="0.07"/>
<rect x="120" y="332" width="1" height="156" fill="url(#sa2)" opacity="0.07"/>
<rect x="121" y="332" width="1" height="156" fill="url(#sa2)" opacity="0.64"/>
<rect x="122" y="332" width="1" height="156" fill="url(#sa2)" opacity="0.13"/>
<rect x="123" y="332" width="1" height="156" fill="url(#sa2)" opacity="0.13"/>
<rect x="124" y="332" width="1" height="156" fill="url(#sa2)" opacity="0.13"/>
<rect x="125" y="332" width="1" height="156" fill="url(#sa2)" opacity="0.13"/>
<rect x="126" y="332" width="1" height="156" fill="url(#sa2)" opacity="0.41"/>
<rect x="127" y="332" width="1" height="156" fill="url(#sa2)" opacity="0.41"/>
<rect x="128" y="332" width="1" height="156" fill="url(#sa2)" opacity="0.20"/>
<rect x="129" y="332" width="1" height="156" fill="url(#sa2)" opacity="0.20"/>
<rect x="130" y="332" width="1" height="156" fill="url(#sa2)" opacity="0.20"/>
<rect x="131" y="332" width="1" height="156" fill="url(#sa2)" opacity="0.35"/>
<rect x="132" y="332" width="1" height="156" fill="url(#sa2)" opacity="0.35"/>
<rect x="133" y="332" width="1" height="156" fill="url(#sa2)" opacity="0.41"/>
<rect x="134" y="332" width="1" height="156" fill="url(#sa2)" opacity="0.41"/>
<rect x="135" y="332" width="1" height="156" fill="url(#sa2)" opacity="0.62"/>
<rect x="136" y="332" width="1" height="156" fill="url(#sa2)" opacity="0.32"/>
<rect x="137" y="332" width="1" height="156" fill="url(#sa2)" opacity="0.32"/>
<rect x="138" y="332" width="1" height="156" fill="url(#sa2)" opacity="0.71"/>
<rect x="139" y="332" width="1" height="156" fill="url(#sa2)" opacity="0.63"/>
<rect x="140" y="332" width="1" height="156" fill="url(#sa2)" opacity="0.09"/>
<rect x="141" y="332" width="1" height="156" fill="url(#sa2)" opacity="0.80"/>
<rect x="142" y="332" width="1" height="156" fill="url(#sa2)" opacity="0.38"/>
<rect x="143" y="332" width="1" height="156" fill="url(#sa2)" opacity="0.38"/>
<rect x="144" y="332" width="1" height="156" fill="url(#sa2)" opacity="0.09"/>
<rect x="145" y="332" width="1" height="156" fill="url(#sa2)" opacity="0.09"/>
<rect x="146" y="332" width="1" height="156" fill="url(#sa2)" opacity="0.09"/>
<rect x="147" y="332" width="1" height="156" fill="url(#sa2)" opacity="0.09"/>
<rect x="148" y="332" width="1" height="156" fill="url(#sa2)" opacity="0.64"/>
<rect x="149" y="332" width="1" height="156" fill="url(#sa2)" opacity="0.35"/>
<rect x="150" y="332" width="1" height="156" fill="url(#sa2)" opacity="0.35"/>
<rect x="151" y="332" width="1" height="156" fill="url(#sa2)" opacity="0.35"/>
<rect x="152" y="332" width="1" height="156" fill="url(#sa2)" opacity="0.33"/>
<rect x="153" y="332" width="1" height="156" fill="url(#sa2)" opacity="0.31"/>
<rect x="154" y="332" width="1" height="156" fill="url(#sa2)" opacity="0.16"/>
<rect x="155" y="332" width="1" height="156" fill="url(#sa2)" opacity="0.16"/>
<rect x="156" y="332" width="1" height="156" fill="url(#sa2)" opacity="0.35"/>
<rect x="157" y="332" width="1" height="156" fill="url(#sa2)" opacity="0.35"/>
<rect x="158" y="332" width="1" height="156" fill="url(#sa2)" opacity="0.35"/>
<rect x="159" y="332" width="1" height="156" fill="url(#sa2)" opacity="0.35"/>
<rect x="160" y="332" width="1" height="156" fill="url(#sa2)" opacity="0.18"/>
<rect x="161" y="332" width="1" height="156" fill="url(#sa2)" opacity="0.18"/>
<rect x="162" y="332" width="1" height="156" fill="url(#sa2)" opacity="0.76"/>
<rect x="163" y="332" width="1" height="156" fill="url(#sa2)" opacity="0.76"/>
<rect x="164" y="332" width="1" height="156" fill="url(#sa2)" opacity="0.14"/>
<rect x="165" y="332" width="1" height="156" fill="url(#sa2)" opacity="0.12"/>
<rect x="166" y="332" width="1" height="156" fill="url(#sa2)" opacity="0.12"/>
<rect x="167" y="332" width="1" height="156" fill="url(#sa2)" opacity="0.34"/>
<rect x="168" y="332" width="1" height="156" fill="url(#sa2)" opacity="0.65"/>
<rect x="169" y="332" width="1" height="156" fill="url(#sa2)" opacity="0.67"/>
<rect x="170" y="332" width="1" height="156" fill="url(#sa2)" opacity="0.38"/>
<rect x="171" y="332" width="1" height="156" fill="url(#sa2)" opacity="0.38"/>
<rect x="172" y="332" width="1" height="156" fill="url(#sa2)" opacity="0.76"/>
<rect x="173" y="332" width="1" height="156" fill="url(#sa2)" opacity="0.11"/>
<rect x="174" y="332" width="1" height="156" fill="url(#sa2)" opacity="0.45"/>
<rect x="175" y="332" width="1" height="156" fill="url(#sa2)" opacity="0.45"/>
<rect x="176" y="332" width="1" height="156" fill="url(#sa2)" opacity="0.80"/>
<rect x="177" y="332" width="1" height="156" fill="url(#sa2)" opacity="0.34"/>
<rect x="178" y="332" width="1" height="156" fill="url(#sa2)" opacity="0.34"/>
<rect x="179" y="332" width="1" height="156" fill="url(#sa2)" opacity="0.34"/>
<rect x="180" y="332" width="1" height="156" fill="url(#sa2)" opacity="0.35"/>
<rect x="181" y="332" width="1" height="156" fill="url(#sa2)" opacity="0.35"/>
<rect x="182" y="332" width="1" height="156" fill="url(#sa2)" opacity="0.35"/>
<rect x="183" y="332" width="1" height="156" fill="url(#sa2)" opacity="0.09"/>
<rect x="184" y="332" width="1" height="156" fill="url(#sa2)" opacity="0.09"/>
<rect x="185" y="332" width="1" height="156" fill="url(#sa2)" opacity="0.09"/>
<rect x="186" y="332" width="1" height="156" fill="url(#sa2)" opacity="0.09"/>
<rect x="187" y="332" width="1" height="156" fill="url(#sa2)" opacity="0.31"/>
<rect x="188" y="332" width="1" height="156" fill="url(#sa2)" opacity="0.11"/>
<rect x="189" y="332" width="1" height="156" fill="url(#sa2)" opacity="0.11"/>
<rect x="190" y="332" width="1" height="156" fill="url(#sa2)" opacity="0.11"/>
<rect x="191" y="332" width="1" height="156" fill="url(#sa2)" opacity="0.67"/>
<rect x="192" y="332" width="1" height="156" fill="url(#sa2)" opacity="0.67"/>
<rect x="193" y="332" width="1" height="156" fill="url(#sa2)" opacity="0.19"/>
<rect x="194" y="332" width="1" height="156" fill="url(#sa2)" opacity="0.19"/>
<rect x="195" y="332" width="1" height="156" fill="url(#sa2)" opacity="0.19"/>
<rect x="196" y="332" width="1" height="156" fill="url(#sa2)" opacity="0.43"/>
<rect x="197" y="332" width="1" height="156" fill="url(#sa2)" opacity="0.09"/>
<rect x="198" y="332" width="1" height="156" fill="url(#sa2)" opacity="0.38"/>
<rect x="199" y="332" width="1" height="156" fill="url(#sa2)" opacity="0.38"/>
<rect x="200" y="332" width="1" height="156" fill="url(#sa2)" opacity="0.44"/>
<rect x="201" y="332" width="1" height="156" fill="url(#sa2)" opacity="0.44"/>
<rect x="202" y="332" width="1" height="156" fill="url(#sa2)" opacity="0.31"/>
<rect x="203" y="332" width="1" height="156" fill="url(#sa2)" opacity="0.82"/>
<rect x="204" y="332" width="1" height="156" fill="url(#sa2)" opacity="0.10"/>
<rect x="205" y="332" width="1" height="156" fill="url(#sa2)" opacity="0.10"/>
<rect x="206" y="332" width="1" height="156" fill="url(#sa2)" opacity="0.36"/>
<rect x="207" y="332" width="1" height="156" fill="url(#sa2)" opacity="0.36"/>
<rect x="208" y="332" width="1" height="156" fill="url(#sa2)" opacity="0.36"/>
<rect x="209" y="332" width="1" height="156" fill="url(#sa2)" opacity="0.40"/>
<rect x="210" y="332" width="1" height="156" fill="url(#sa2)" opacity="0.40"/>
<rect x="211" y="332" width="1" height="156" fill="url(#sa2)" opacity="0.76"/>
<rect x="212" y="332" width="1" height="156" fill="url(#sa2)" opacity="0.80"/>
<rect x="213" y="332" width="1" height="156" fill="url(#sa2)" opacity="0.80"/>
<rect x="214" y="332" width="1" height="156" fill="url(#sa2)" opacity="0.19"/>
<rect x="215" y="332" width="1" height="156" fill="url(#sa2)" opacity="0.19"/>
<rect x="216" y="332" width="1" height="156" fill="url(#sa2)" opacity="0.19"/>
<rect x="217" y="332" width="1" height="156" fill="url(#sa2)" opacity="0.19"/>
<rect x="218" y="332" width="1" height="156" fill="url(#sa2)" opacity="0.65"/>
<rect x="219" y="332" width="1" height="156" fill="url(#sa2)" opacity="0.07"/>
<rect x="220" y="332" width="1" height="156" fill="url(#sa2)" opacity="0.07"/>
<rect x="221" y="332" width="1" height="156" fill="url(#sa2)" opacity="0.07"/>
<rect x="222" y="332" width="1" height="156" fill="url(#sa2)" opacity="0.07"/>
<rect x="223" y="332" width="1" height="156" fill="url(#sa2)" opacity="0.68"/>
<rect x="224" y="332" width="1" height="156" fill="url(#sa2)" opacity="0.36"/>
<rect x="225" y="332" width="1" height="156" fill="url(#sa2)" opacity="0.36"/>
<rect x="226" y="332" width="1" height="156" fill="url(#sa2)" opacity="0.36"/>
<rect x="227" y="332" width="1" height="156" fill="url(#sa2)" opacity="0.31"/>
<rect x="228" y="332" width="1" height="156" fill="url(#sa2)" opacity="0.06"/>
<rect x="229" y="332" width="1" height="156" fill="url(#sa2)" opacity="0.74"/>
<rect x="230" y="332" width="1" height="156" fill="url(#sa2)" opacity="0.44"/>
<rect x="231" y="332" width="1" height="156" fill="url(#sa2)" opacity="0.44"/>
<rect x="232" y="332" width="1" height="156" fill="url(#sa2)" opacity="0.79"/>
<rect x="233" y="332" width="1" height="156" fill="url(#sa2)" opacity="0.79"/>
<rect x="234" y="332" width="1" height="156" fill="url(#sa2)" opacity="0.44"/>
<rect x="235" y="332" width="1" height="156" fill="url(#sa2)" opacity="0.43"/>
<rect x="236" y="332" width="1" height="156" fill="url(#sa2)" opacity="0.43"/>
<rect x="237" y="332" width="1" height="156" fill="url(#sa2)" opacity="0.37"/>
<rect x="238" y="332" width="1" height="156" fill="url(#sa2)" opacity="0.37"/>
<rect x="239" y="332" width="1" height="156" fill="url(#sa2)" opacity="0.10"/>
<rect x="240" y="332" width="1" height="156" fill="url(#sa2)" opacity="0.10"/>
<rect x="241" y="332" width="1" height="156" fill="url(#sa2)" opacity="0.10"/>
<rect x="242" y="332" width="1" height="156" fill="url(#sa2)" opacity="0.34"/>
<rect x="243" y="332" width="1" height="156" fill="url(#sa2)" opacity="0.34"/>
<rect x="244" y="332" width="1" height="156" fill="url(#sa2)" opacity="0.68"/>
<rect x="245" y="332" width="1" height="156" fill="url(#sa2)" opacity="0.69"/>
<rect x="246" y="332" width="1" height="156" fill="url(#sa2)" opacity="0.08"/>
<rect x="247" y="332" width="1" height="156" fill="url(#sa2)" opacity="0.08"/>
<rect x="248" y="332" width="1" height="156" fill="url(#sa2)" opacity="0.08"/>
<rect x="249" y="332" width="1" height="156" fill="url(#sa2)" opacity="0.06"/>
<rect x="250" y="332" width="1" height="156" fill="url(#sa2)" opacity="0.17"/>
<rect x="251" y="332" width="1" height="156" fill="url(#sa2)" opacity="0.17"/>
<rect x="252" y="332" width="1" height="156" fill="url(#sa2)" opacity="0.17"/>
<rect x="253" y="332" width="1" height="156" fill="url(#sa2)" opacity="0.17"/>
<rect x="254" y="332" width="1" height="156" fill="url(#sa2)" opacity="0.37"/>
<rect x="255" y="332" width="1" height="156" fill="url(#sa2)" opacity="0.37"/>
<rect x="256" y="332" width="1" height="156" fill="url(#sa2)" opacity="0.69"/>
<rect x="257" y="332" width="1" height="156" fill="url(#sa2)" opacity="0.09"/>
<rect x="258" y="332" width="1" height="156" fill="url(#sa2)" opacity="0.09"/>
<rect x="259" y="332" width="1" height="156" fill="url(#sa2)" opacity="0.09"/>
<rect x="260" y="332" width="1" height="156" fill="url(#sa2)" opacity="0.35"/>
<rect x="261" y="332" width="1" height="156" fill="url(#sa2)" opacity="0.35"/>
<rect x="262" y="332" width="1" height="156" fill="url(#sa2)" opacity="0.11"/>
<rect x="263" y="332" width="1" height="156" fill="url(#sa2)" opacity="0.11"/>
<rect x="264" y="332" width="1" height="156" fill="url(#sa2)" opacity="0.11"/>
<rect x="265" y="332" width="1" height="156" fill="url(#sa2)" opacity="0.73"/>
<rect x="266" y="332" width="1" height="156" fill="url(#sa2)" opacity="0.73"/>
<rect x="267" y="332" width="1" height="156" fill="url(#sa2)" opacity="0.43"/>
<rect x="268" y="332" width="1" height="156" fill="url(#sa2)" opacity="0.70"/>
<rect x="269" y="332" width="1" height="156" fill="url(#sa2)" opacity="0.79"/>
<rect x="270" y="332" width="1" height="156" fill="url(#sa2)" opacity="0.32"/>
<rect x="271" y="332" width="1" height="156" fill="url(#sa2)" opacity="0.32"/>
<rect x="272" y="332" width="1" height="156" fill="url(#sa2)" opacity="0.32"/>
<rect x="273" y="332" width="1" height="156" fill="url(#sa2)" opacity="0.41"/>
<rect x="274" y="332" width="1" height="156" fill="url(#sa2)" opacity="0.45"/>
<rect x="275" y="332" width="1" height="156" fill="url(#sa2)" opacity="0.40"/>
<rect x="276" y="332" width="1" height="156" fill="url(#sa2)" opacity="0.40"/>
<rect x="277" y="332" width="1" height="156" fill="url(#sa2)" opacity="0.40"/>
<rect x="278" y="332" width="1" height="156" fill="url(#sa2)" opacity="0.41"/>
<rect x="279" y="332" width="1" height="156" fill="url(#sa2)" opacity="0.41"/>
<rect x="280" y="332" width="1" height="156" fill="url(#sa2)" opacity="0.41"/>
<rect x="281" y="332" width="1" height="156" fill="url(#sa2)" opacity="0.12"/>
<rect x="282" y="332" width="1" height="156" fill="url(#sa2)" opacity="0.12"/>
<rect x="283" y="332" width="1" height="156" fill="url(#sa2)" opacity="0.12"/>
<rect x="284" y="332" width="1" height="156" fill="url(#sa2)" opacity="0.12"/>
<rect x="285" y="332" width="1" height="156" fill="url(#sa2)" opacity="0.16"/>
<rect x="286" y="332" width="1" height="156" fill="url(#sa2)" opacity="0.65"/>
<rect x="287" y="332" width="1" height="156" fill="url(#sa2)" opacity="0.84"/>
<rect x="288" y="332" width="1" height="156" fill="url(#sa2)" opacity="0.18"/>
<rect x="289" y="332" width="1" height="156" fill="url(#sa2)" opacity="0.18"/>
<rect x="290" y="332" width="1" height="156" fill="url(#sa2)" opacity="0.18"/>
<rect x="291" y="332" width="1" height="156" fill="url(#sa2)" opacity="0.84"/>
<rect x="292" y="332" width="1" height="156" fill="url(#sa2)" opacity="0.84"/>
<rect x="293" y="332" width="1" height="156" fill="url(#sa2)" opacity="0.39"/>
<rect x="294" y="332" width="1" height="156" fill="url(#sa2)" opacity="0.13"/>
<rect x="295" y="332" width="1" height="156" fill="url(#sa2)" opacity="0.43"/>
<rect x="296" y="332" width="1" height="156" fill="url(#sa2)" opacity="0.82"/>
<rect x="297" y="332" width="1" height="156" fill="url(#sa2)" opacity="0.71"/>
<rect x="298" y="332" width="1" height="156" fill="url(#sa2)" opacity="0.15"/>
<rect x="299" y="332" width="1" height="156" fill="url(#sa2)" opacity="0.15"/>
<rect x="300" y="332" width="1" height="156" fill="url(#sa2)" opacity="0.15"/>
<rect x="301" y="332" width="1" height="156" fill="url(#sa2)" opacity="0.35"/>
<rect x="302" y="332" width="1" height="156" fill="url(#sa2)" opacity="0.12"/>
<rect x="303" y="332" width="1" height="156" fill="url(#sa2)" opacity="0.12"/>
<rect x="304" y="332" width="1" height="156" fill="url(#sa2)" opacity="0.12"/>
<rect x="305" y="332" width="1" height="156" fill="url(#sa2)" opacity="0.12"/>
<rect x="306" y="332" width="1" height="156" fill="url(#sa2)" opacity="0.12"/>
<rect x="307" y="332" width="1" height="156" fill="url(#sa2)" opacity="0.13"/>
<rect x="308" y="332" width="1" height="156" fill="url(#sa2)" opacity="0.66"/>
<rect x="309" y="332" width="1" height="156" fill="url(#sa2)" opacity="0.79"/>
<rect x="310" y="332" width="1" height="156" fill="url(#sa2)" opacity="0.79"/>
<rect x="311" y="332" width="1" height="156" fill="url(#sa2)" opacity="0.11"/>
<rect x="312" y="332" width="1" height="156" fill="url(#sa2)" opacity="0.39"/>
<rect x="313" y="332" width="1" height="156" fill="url(#sa2)" opacity="0.39"/>
<rect x="314" y="332" width="1" height="156" fill="url(#sa2)" opacity="0.39"/>
<rect x="315" y="332" width="1" height="156" fill="url(#sa2)" opacity="0.81"/>
<rect x="316" y="332" width="1" height="156" fill="url(#sa2)" opacity="0.81"/>
<rect x="317" y="332" width="1" height="156" fill="url(#sa2)" opacity="0.34"/>
<rect x="318" y="332" width="1" height="156" fill="url(#sa2)" opacity="0.43"/>
<rect x="319" y="332" width="1" height="156" fill="url(#sa2)" opacity="0.18"/>
<rect x="320" y="332" width="1" height="156" fill="url(#sa2)" opacity="0.18"/>
<rect x="321" y="332" width="1" height="156" fill="url(#sa2)" opacity="0.81"/>
<rect x="322" y="332" width="1" height="156" fill="url(#sa2)" opacity="0.81"/>
<rect x="323" y="332" width="1" height="156" fill="url(#sa2)" opacity="0.30"/>
<rect x="324" y="332" width="1" height="156" fill="url(#sa2)" opacity="0.30"/>
<rect x="325" y="332" width="1" height="156" fill="url(#sa2)" opacity="0.07"/>
<rect x="326" y="332" width="1" height="156" fill="url(#sa2)" opacity="0.07"/>
<rect x="327" y="332" width="1" height="156" fill="url(#sa2)" opacity="0.07"/>
<rect x="328" y="332" width="1" height="156" fill="url(#sa2)" opacity="0.19"/>
<rect x="329" y="332" width="1" height="156" fill="url(#sa2)" opacity="0.19"/>
<rect x="330" y="332" width="1" height="156" fill="url(#sa2)" opacity="0.63"/>
<rect x="331" y="332" width="1" height="156" fill="url(#sa2)" opacity="0.63"/>
<rect x="332" y="332" width="1" height="156" fill="url(#sa2)" opacity="0.43"/>
<rect x="333" y="332" width="1" height="156" fill="url(#sa2)" opacity="0.40"/>
<rect x="334" y="332" width="1" height="156" fill="url(#sa2)" opacity="0.40"/>
<rect x="335" y="332" width="1" height="156" fill="url(#sa2)" opacity="0.73"/>
<rect x="336" y="332" width="1" height="156" fill="url(#sa2)" opacity="0.41"/>
<rect x="337" y="332" width="1" height="156" fill="url(#sa2)" opacity="0.41"/>
<rect x="338" y="332" width="1" height="156" fill="url(#sa2)" opacity="0.37"/>
<rect x="339" y="332" width="1" height="156" fill="url(#sa2)" opacity="0.38"/>
<rect x="340" y="332" width="1" height="156" fill="url(#sa2)" opacity="0.42"/>
<rect x="341" y="332" width="1" height="156" fill="url(#sa2)" opacity="0.41"/>
<rect x="342" y="332" width="1" height="156" fill="url(#sa2)" opacity="0.41"/>
<rect x="343" y="332" width="1" height="156" fill="url(#sa2)" opacity="0.14"/>
<rect x="344" y="332" width="1" height="156" fill="url(#sa2)" opacity="0.17"/>
<rect x="345" y="332" width="1" height="156" fill="url(#sa2)" opacity="0.17"/>
<rect x="346" y="332" width="1" height="156" fill="url(#sa2)" opacity="0.17"/>
<rect x="347" y="332" width="1" height="156" fill="url(#sa2)" opacity="0.62"/>
<rect x="348" y="332" width="1" height="156" fill="url(#sa2)" opacity="0.62"/>
<rect x="349" y="332" width="1" height="156" fill="url(#sa2)" opacity="0.80"/>
<rect x="350" y="332" width="1" height="156" fill="url(#sa2)" opacity="0.80"/>
<rect x="351" y="332" width="1" height="156" fill="url(#sa2)" opacity="0.15"/>
<rect x="352" y="332" width="1" height="156" fill="url(#sa2)" opacity="0.15"/>
<rect x="353" y="332" width="1" height="156" fill="url(#sa2)" opacity="0.15"/>
<rect x="354" y="332" width="1" height="156" fill="url(#sa2)" opacity="0.15"/>
<rect x="355" y="332" width="1" height="156" fill="url(#sa2)" opacity="0.33"/>
<rect x="356" y="332" width="1" height="156" fill="url(#sa2)" opacity="0.34"/>
<rect x="357" y="332" width="1" height="156" fill="url(#sa2)" opacity="0.34"/>
<rect x="358" y="332" width="1" height="156" fill="url(#sa2)" opacity="0.64"/>
<rect x="359" y="332" width="1" height="156" fill="url(#sa2)" opacity="0.08"/>
<rect x="360" y="332" width="1" height="156" fill="url(#sa2)" opacity="0.40"/>
<rect x="361" y="332" width="1" height="156" fill="url(#sa2)" opacity="0.40"/>
<rect x="362" y="332" width="1" height="156" fill="url(#sa2)" opacity="0.40"/>
<rect x="363" y="332" width="1" height="156" fill="url(#sa2)" opacity="0.65"/>
<rect x="364" y="332" width="1" height="156" fill="url(#sa2)" opacity="0.65"/>
<rect x="365" y="332" width="1" height="156" fill="url(#sa2)" opacity="0.11"/>
<rect x="366" y="332" width="1" height="156" fill="url(#sa2)" opacity="0.11"/>
<rect x="367" y="332" width="1" height="156" fill="url(#sa2)" opacity="0.80"/>
<rect x="368" y="332" width="1" height="156" fill="url(#sa2)" opacity="0.76"/>
<rect x="369" y="332" width="1" height="156" fill="url(#sa2)" opacity="0.39"/>
<rect x="370" y="332" width="1" height="156" fill="url(#sa2)" opacity="0.39"/>
<rect x="371" y="332" width="1" height="156" fill="url(#sa2)" opacity="0.39"/>
<rect x="372" y="332" width="1" height="156" fill="url(#sa2)" opacity="0.12"/>
<rect x="373" y="332" width="1" height="156" fill="url(#sa2)" opacity="0.12"/>
<rect x="374" y="332" width="1" height="156" fill="url(#sa2)" opacity="0.12"/>
<rect x="375" y="332" width="1" height="156" fill="url(#sa2)" opacity="0.38"/>
<rect x="376" y="332" width="1" height="156" fill="url(#sa2)" opacity="0.38"/>
<rect x="377" y="332" width="1" height="156" fill="url(#sa2)" opacity="0.79"/>
<rect x="378" y="332" width="1" height="156" fill="url(#sa2)" opacity="0.65"/>
<rect x="379" y="332" width="1" height="156" fill="url(#sa2)" opacity="0.65"/>
<rect x="380" y="332" width="1" height="156" fill="url(#sa2)" opacity="0.07"/>
<rect x="381" y="332" width="1" height="156" fill="url(#sa2)" opacity="0.84"/>
<rect x="382" y="332" width="1" height="156" fill="url(#sa2)" opacity="0.79"/>
<rect x="383" y="332" width="1" height="156" fill="url(#sa2)" opacity="0.30"/>
<rect x="384" y="332" width="1" height="156" fill="url(#sa2)" opacity="0.15"/>
<rect x="385" y="332" width="1" height="156" fill="url(#sa2)" opacity="0.15"/>
<rect x="386" y="332" width="1" height="156" fill="url(#sa2)" opacity="0.15"/>
<rect x="387" y="332" width="1" height="156" fill="url(#sa2)" opacity="0.38"/>
<rect x="388" y="332" width="1" height="156" fill="url(#sa2)" opacity="0.38"/>
<rect x="389" y="332" width="1" height="156" fill="url(#sa2)" opacity="0.08"/>
<rect x="390" y="332" width="1" height="156" fill="url(#sa2)" opacity="0.08"/>
<rect x="391" y="332" width="1" height="156" fill="url(#sa2)" opacity="0.36"/>
<rect x="392" y="332" width="1" height="156" fill="url(#sa2)" opacity="0.36"/>
<rect x="393" y="332" width="1" height="156" fill="url(#sa2)" opacity="0.36"/>
<rect x="394" y="332" width="1" height="156" fill="url(#sa2)" opacity="0.19"/>
<rect x="395" y="332" width="1" height="156" fill="url(#sa2)" opacity="0.19"/>
<rect x="396" y="332" width="1" height="156" fill="url(#sa2)" opacity="0.38"/>
<rect x="397" y="332" width="1" height="156" fill="url(#sa2)" opacity="0.38"/>
<rect x="398" y="332" width="1" height="156" fill="url(#sa2)" opacity="0.38"/>
<rect x="399" y="332" width="1" height="156" fill="url(#sa2)" opacity="0.38"/>
<rect x="400" y="332" width="1" height="156" fill="url(#sa2)" opacity="0.38"/>
<rect x="401" y="332" width="1" height="156" fill="url(#sa2)" opacity="0.83"/>
<rect x="402" y="332" width="1" height="156" fill="url(#sa2)" opacity="0.83"/>
<rect x="403" y="332" width="1" height="156" fill="url(#sa2)" opacity="0.15"/>
<rect x="404" y="332" width="1" height="156" fill="url(#sa2)" opacity="0.15"/>
<rect x="405" y="332" width="1" height="156" fill="url(#sa2)" opacity="0.15"/>
<rect x="406" y="332" width="1" height="156" fill="url(#sa2)" opacity="0.38"/>
<rect x="407" y="332" width="1" height="156" fill="url(#sa2)" opacity="0.38"/>
<rect x="408" y="332" width="1" height="156" fill="url(#sa2)" opacity="0.12"/>
<rect x="409" y="332" width="1" height="156" fill="url(#sa2)" opacity="0.41"/>
<rect x="410" y="332" width="1" height="156" fill="url(#sa2)" opacity="0.41"/>
<rect x="411" y="332" width="1" height="156" fill="url(#sa2)" opacity="0.31"/>
<rect x="412" y="332" width="1" height="156" fill="url(#sa2)" opacity="0.79"/>
<rect x="413" y="332" width="1" height="156" fill="url(#sa2)" opacity="0.38"/>
<rect x="414" y="332" width="1" height="156" fill="url(#sa2)" opacity="0.38"/>
<rect x="415" y="332" width="1" height="156" fill="url(#sa2)" opacity="0.38"/>
<rect x="416" y="332" width="1" height="156" fill="url(#sa2)" opacity="0.83"/>
<rect x="417" y="332" width="1" height="156" fill="url(#sa2)" opacity="0.81"/>
<rect x="418" y="332" width="1" height="156" fill="url(#sa2)" opacity="0.79"/>
<rect x="419" y="332" width="1" height="156" fill="url(#sa2)" opacity="0.38"/>
<rect x="420" y="332" width="1" height="156" fill="url(#sa2)" opacity="0.38"/>
<rect x="421" y="332" width="1" height="156" fill="url(#sa2)" opacity="0.38"/>
<rect x="422" y="332" width="1" height="156" fill="url(#sa2)" opacity="0.64"/>
<rect x="423" y="332" width="1" height="156" fill="url(#sa2)" opacity="0.35"/>
<rect x="424" y="332" width="1" height="156" fill="url(#sa2)" opacity="0.35"/>
<rect x="425" y="332" width="1" height="156" fill="url(#sa2)" opacity="0.35"/>
<rect x="426" y="332" width="1" height="156" fill="url(#sa2)" opacity="0.37"/>
<rect x="427" y="332" width="1" height="156" fill="url(#sa2)" opacity="0.37"/>
<rect x="428" y="332" width="1" height="156" fill="url(#sa2)" opacity="0.76"/>
<rect x="429" y="332" width="1" height="156" fill="url(#sa2)" opacity="0.76"/>
<rect x="430" y="332" width="1" height="156" fill="url(#sa2)" opacity="0.40"/>
<rect x="431" y="332" width="1" height="156" fill="url(#sa2)" opacity="0.40"/>
<rect x="432" y="332" width="1" height="156" fill="url(#sa2)" opacity="0.30"/>
<rect x="433" y="332" width="1" height="156" fill="url(#sa2)" opacity="0.30"/>
<rect x="434" y="332" width="1" height="156" fill="url(#sa2)" opacity="0.43"/>
<rect x="435" y="332" width="1" height="156" fill="url(#sa2)" opacity="0.43"/>
<rect x="436" y="332" width="1" height="156" fill="url(#sa2)" opacity="0.10"/>
<rect x="437" y="332" width="1" height="156" fill="url(#sa2)" opacity="0.45"/>
<rect x="438" y="332" width="1" height="156" fill="url(#sa2)" opacity="0.71"/>
<rect x="439" y="332" width="1" height="156" fill="url(#sa2)" opacity="0.06"/>
<rect x="440" y="332" width="1" height="156" fill="url(#sa2)" opacity="0.06"/>
<rect x="441" y="332" width="1" height="156" fill="url(#sa2)" opacity="0.16"/>
<rect x="442" y="332" width="1" height="156" fill="url(#sa2)" opacity="0.16"/>
<rect x="443" y="332" width="1" height="156" fill="url(#sa2)" opacity="0.16"/>
<rect x="444" y="332" width="1" height="156" fill="url(#sa2)" opacity="0.16"/>
<rect x="445" y="332" width="1" height="156" fill="url(#sa2)" opacity="0.08"/>
<rect x="446" y="332" width="1" height="156" fill="url(#sa2)" opacity="0.15"/>
<rect x="447" y="332" width="1" height="156" fill="url(#sa2)" opacity="0.15"/>
<rect x="448" y="332" width="1" height="156" fill="url(#sa2)" opacity="0.15"/>
<rect x="449" y="332" width="1" height="156" fill="url(#sa2)" opacity="0.13"/>
<rect x="450" y="332" width="1" height="156" fill="url(#sa2)" opacity="0.13"/>
<rect x="451" y="332" width="1" height="156" fill="url(#sa2)" opacity="0.13"/>
<rect x="452" y="332" width="1" height="156" fill="url(#sa2)" opacity="0.37"/>
<rect x="453" y="332" width="1" height="156" fill="url(#sa2)" opacity="0.37"/>
<rect x="454" y="332" width="1" height="156" fill="url(#sa2)" opacity="0.37"/>
<rect x="455" y="332" width="1" height="156" fill="url(#sa2)" opacity="0.37"/>
<rect x="456" y="332" width="1" height="156" fill="url(#sa2)" opacity="0.74"/>
<rect x="457" y="332" width="1" height="156" fill="url(#sa2)" opacity="0.65"/>
<rect x="458" y="332" width="1" height="156" fill="url(#sa2)" opacity="0.43"/>
<rect x="459" y="332" width="1" height="156" fill="url(#sa2)" opacity="0.43"/>
<rect x="460" y="332" width="1" height="156" fill="url(#sa2)" opacity="0.13"/>
<rect x="461" y="332" width="1" height="156" fill="url(#sa2)" opacity="0.13"/>
<rect x="462" y="332" width="1" height="156" fill="url(#sa2)" opacity="0.13"/>
<rect x="463" y="332" width="1" height="156" fill="url(#sa2)" opacity="0.13"/>
<rect x="464" y="332" width="1" height="156" fill="url(#sa2)" opacity="0.10"/>
<rect x="465" y="332" width="1" height="156" fill="url(#sa2)" opacity="0.10"/>
<rect x="466" y="332" width="1" height="156" fill="url(#sa2)" opacity="0.10"/>
<rect x="467" y="332" width="1" height="156" fill="url(#sa2)" opacity="0.31"/>
<rect x="468" y="332" width="1" height="156" fill="url(#sa2)" opacity="0.31"/>
<rect x="469" y="332" width="1" height="156" fill="url(#sa2)" opacity="0.80"/>
<rect x="470" y="332" width="1" height="156" fill="url(#sa2)" opacity="0.80"/>
<rect x="471" y="332" width="1" height="156" fill="url(#sa2)" opacity="0.66"/>
<rect x="472" y="332" width="1" height="156" fill="url(#sa2)" opacity="0.70"/>
<rect x="473" y="332" width="1" height="156" fill="url(#sa2)" opacity="0.83"/>
<rect x="474" y="332" width="1" height="156" fill="url(#sa2)" opacity="0.37"/>
<rect x="475" y="332" width="1" height="156" fill="url(#sa2)" opacity="0.41"/>
<rect x="476" y="332" width="1" height="156" fill="url(#sa2)" opacity="0.41"/>
<rect x="477" y="332" width="1" height="156" fill="url(#sa2)" opacity="0.11"/>
<rect x="478" y="332" width="1" height="156" fill="url(#sa2)" opacity="0.11"/>
<rect x="479" y="332" width="1" height="156" fill="url(#sa2)" opacity="0.11"/>
<rect x="480" y="332" width="1" height="156" fill="url(#sa2)" opacity="0.11"/>
<rect x="481" y="332" width="1" height="156" fill="url(#sa2)" opacity="0.34"/>
<rect x="482" y="332" width="1" height="156" fill="url(#sa2)" opacity="0.34"/>
<rect x="483" y="332" width="1" height="156" fill="url(#sa2)" opacity="0.41"/>
<rect x="484" y="332" width="1" height="156" fill="url(#sa2)" opacity="0.41"/>
<rect x="485" y="332" width="1" height="156" fill="url(#sa2)" opacity="0.06"/>
<rect x="486" y="332" width="1" height="156" fill="url(#sa2)" opacity="0.06"/>
<rect x="487" y="332" width="1" height="156" fill="url(#sa2)" opacity="0.06"/>
<rect x="488" y="332" width="1" height="156" fill="url(#sa2)" opacity="0.11"/>
<rect x="489" y="332" width="1" height="156" fill="url(#sa2)" opacity="0.11"/>
<rect x="490" y="332" width="1" height="156" fill="url(#sa2)" opacity="0.11"/>
<rect x="491" y="332" width="1" height="156" fill="url(#sa2)" opacity="0.08"/>
<rect x="492" y="332" width="1" height="156" fill="url(#sa2)" opacity="0.08"/>
<rect x="493" y="332" width="1" height="156" fill="url(#sa2)" opacity="0.78"/>
<rect x="494" y="332" width="1" height="156" fill="url(#sa2)" opacity="0.41"/>
<rect x="495" y="332" width="1" height="156" fill="url(#sa2)" opacity="0.41"/>
<rect x="496" y="332" width="1" height="156" fill="url(#sa2)" opacity="0.41"/>
<rect x="497" y="332" width="1" height="156" fill="url(#sa2)" opacity="0.70"/>
<rect x="498" y="332" width="1" height="156" fill="url(#sa2)" opacity="0.32"/>
<rect x="499" y="332" width="1" height="156" fill="url(#sa2)" opacity="0.09"/>
<rect x="500" y="332" width="1" height="156" fill="url(#sa2)" opacity="0.09"/>
<rect x="501" y="332" width="1" height="156" fill="url(#sa2)" opacity="0.78"/>
<rect x="502" y="332" width="1" height="156" fill="url(#sa2)" opacity="0.08"/>
<rect x="503" y="332" width="1" height="156" fill="url(#sa2)" opacity="0.19"/>
<rect x="504" y="332" width="1" height="156" fill="url(#sa2)" opacity="0.19"/>
<rect x="505" y="332" width="1" height="156" fill="url(#sa2)" opacity="0.19"/>
<rect x="506" y="332" width="1" height="156" fill="url(#sa2)" opacity="0.19"/>
<rect x="507" y="332" width="1" height="156" fill="url(#sa2)" opacity="0.40"/>
<rect x="508" y="332" width="1" height="156" fill="url(#sa2)" opacity="0.82"/>
<rect x="509" y="332" width="1" height="156" fill="url(#sa2)" opacity="0.11"/>
<rect x="510" y="332" width="1" height="156" fill="url(#sa2)" opacity="0.11"/>
<rect x="511" y="332" width="1" height="156" fill="url(#sa2)" opacity="0.42"/>
<rect x="512" y="332" width="1" height="156" fill="url(#sa2)" opacity="0.42"/>
<rect x="513" y="332" width="1" height="156" fill="url(#sa2)" opacity="0.42"/>
<rect x="514" y="332" width="1" height="156" fill="url(#sa2)" opacity="0.78"/>
<rect x="515" y="332" width="1" height="156" fill="url(#sa2)" opacity="0.68"/>
<rect x="516" y="332" width="1" height="156" fill="url(#sa2)" opacity="0.68"/>
<rect x="517" y="332" width="1" height="156" fill="url(#sa2)" opacity="0.18"/>
<rect x="518" y="332" width="1" height="156" fill="url(#sa2)" opacity="0.18"/>
<rect x="519" y="332" width="1" height="156" fill="url(#sa2)" opacity="0.18"/>
<rect x="520" y="332" width="1" height="156" fill="url(#sa2)" opacity="0.18"/>
<rect x="521" y="332" width="1" height="156" fill="url(#sa2)" opacity="0.39"/>
<rect x="522" y="332" width="1" height="156" fill="url(#sa2)" opacity="0.41"/>
<rect x="523" y="332" width="1" height="156" fill="url(#sa2)" opacity="0.41"/>
<rect x="524" y="332" width="1" height="156" fill="url(#sa2)" opacity="0.41"/>
<rect x="525" y="332" width="1" height="156" fill="url(#sa2)" opacity="0.33"/>
<rect x="526" y="332" width="1" height="156" fill="url(#sa2)" opacity="0.33"/>
<rect x="527" y="332" width="1" height="156" fill="url(#sa2)" opacity="0.33"/>
<rect x="528" y="332" width="1" height="156" fill="url(#sa2)" opacity="0.33"/>
<rect x="529" y="332" width="1" height="156" fill="url(#sa2)" opacity="0.33"/>
<rect x="530" y="332" width="1" height="156" fill="url(#sa2)" opacity="0.11"/>
<rect x="531" y="332" width="1" height="156" fill="url(#sa2)" opacity="0.85"/>
<rect x="532" y="332" width="1" height="156" fill="url(#sa2)" opacity="0.33"/>
<rect x="533" y="332" width="1" height="156" fill="url(#sa2)" opacity="0.06"/>
<rect x="534" y="332" width="1" height="156" fill="url(#sa2)" opacity="0.43"/>
<rect x="535" y="332" width="1" height="156" fill="url(#sa2)" opacity="0.09"/>
<rect x="536" y="332" width="1" height="156" fill="url(#sa2)" opacity="0.09"/>
<rect x="537" y="332" width="1" height="156" fill="url(#sa2)" opacity="0.09"/>
<rect x="538" y="332" width="1" height="156" fill="url(#sa2)" opacity="0.09"/>
<rect x="539" y="332" width="1" height="156" fill="url(#sa2)" opacity="0.38"/>
<rect x="540" y="332" width="1" height="156" fill="url(#sa2)" opacity="0.38"/>
<rect x="541" y="332" width="1" height="156" fill="url(#sa2)" opacity="0.77"/>
<rect x="542" y="332" width="1" height="156" fill="url(#sa2)" opacity="0.40"/>
<rect x="543" y="332" width="1" height="156" fill="url(#sa2)" opacity="0.40"/>
<rect x="544" y="332" width="1" height="156" fill="url(#sa2)" opacity="0.68"/>
<rect x="545" y="332" width="1" height="156" fill="url(#sa2)" opacity="0.33"/>
<rect x="546" y="332" width="1" height="156" fill="url(#sa2)" opacity="0.33"/>
<rect x="547" y="332" width="1" height="156" fill="url(#sa2)" opacity="0.09"/>
<rect x="548" y="332" width="1" height="156" fill="url(#sa2)" opacity="0.09"/>
<rect x="549" y="332" width="1" height="156" fill="url(#sa2)" opacity="0.09"/>
<rect x="550" y="332" width="1" height="156" fill="url(#sa2)" opacity="0.08"/>
<rect x="551" y="332" width="1" height="156" fill="url(#sa2)" opacity="0.33"/>
<rect x="552" y="332" width="1" height="156" fill="url(#sa2)" opacity="0.30"/>
<rect x="553" y="332" width="1" height="156" fill="url(#sa2)" opacity="0.30"/>
<rect x="554" y="332" width="1" height="156" fill="url(#sa2)" opacity="0.30"/>
<rect x="555" y="332" width="1" height="156" fill="url(#sa2)" opacity="0.77"/>
<rect x="556" y="332" width="1" height="156" fill="url(#sa2)" opacity="0.78"/>
<rect x="557" y="332" width="1" height="156" fill="url(#sa2)" opacity="0.43"/>
<rect x="558" y="332" width="1" height="156" fill="url(#sa2)" opacity="0.43"/>
<rect x="559" y="332" width="1" height="156" fill="url(#sa2)" opacity="0.17"/>
<rect x="560" y="332" width="1" height="156" fill="url(#sa2)" opacity="0.17"/>
<rect x="561" y="332" width="1" height="156" fill="url(#sa2)" opacity="0.17"/>
<rect x="562" y="332" width="1" height="156" fill="url(#sa2)" opacity="0.07"/>
<rect x="563" y="332" width="1" height="156" fill="url(#sa2)" opacity="0.07"/>
<rect x="564" y="332" width="1" height="156" fill="url(#sa2)" opacity="0.74"/>
<rect x="565" y="332" width="1" height="156" fill="url(#sa2)" opacity="0.41"/>
<rect x="566" y="332" width="1" height="156" fill="url(#sa2)" opacity="0.41"/>
<rect x="567" y="332" width="1" height="156" fill="url(#sa2)" opacity="0.41"/>
<rect x="568" y="332" width="1" height="156" fill="url(#sa2)" opacity="0.41"/>
<rect x="569" y="332" width="1" height="156" fill="url(#sa2)" opacity="0.74"/>
<rect x="570" y="332" width="1" height="156" fill="url(#sa2)" opacity="0.70"/>
<rect x="571" y="332" width="1" height="156" fill="url(#sa2)" opacity="0.74"/>
<rect x="572" y="332" width="1" height="156" fill="url(#sa2)" opacity="0.74"/>
<rect x="573" y="332" width="1" height="156" fill="url(#sa2)" opacity="0.13"/>
<rect x="574" y="332" width="1" height="156" fill="url(#sa2)" opacity="0.45"/>
<rect x="575" y="332" width="1" height="156" fill="url(#sa2)" opacity="0.85"/>
<rect x="576" y="332" width="1" height="156" fill="url(#sa2)" opacity="0.36"/>
<rect x="577" y="332" width="1" height="156" fill="url(#sa2)" opacity="0.44"/>
<rect x="578" y="332" width="1" height="156" fill="url(#sa2)" opacity="0.44"/>
<rect x="579" y="332" width="1" height="156" fill="url(#sa2)" opacity="0.20"/>
<rect x="580" y="332" width="1" height="156" fill="url(#sa2)" opacity="0.20"/>
<rect x="581" y="332" width="1" height="156" fill="url(#sa2)" opacity="0.20"/>
<rect x="582" y="332" width="1" height="156" fill="url(#sa2)" opacity="0.20"/>
<rect x="583" y="332" width="1" height="156" fill="url(#sa2)" opacity="0.68"/>
<rect x="584" y="332" width="1" height="156" fill="url(#sa2)" opacity="0.68"/>
<rect x="585" y="332" width="1" height="156" fill="url(#sa2)" opacity="0.33"/>
<rect x="586" y="332" width="1" height="156" fill="url(#sa2)" opacity="0.33"/>
<rect x="587" y="332" width="1" height="156" fill="url(#sa2)" opacity="0.12"/>
<rect x="588" y="332" width="1" height="156" fill="url(#sa2)" opacity="0.12"/>
<rect x="589" y="332" width="1" height="156" fill="url(#sa2)" opacity="0.12"/>
<rect x="590" y="332" width="1" height="156" fill="url(#sa2)" opacity="0.30"/>
<rect x="591" y="332" width="1" height="156" fill="url(#sa2)" opacity="0.30"/>
<rect x="592" y="332" width="1" height="156" fill="url(#sa2)" opacity="0.08"/>
<rect x="593" y="332" width="1" height="156" fill="url(#sa2)" opacity="0.08"/>
<rect x="594" y="332" width="1" height="156" fill="url(#sa2)" opacity="0.15"/>
<rect x="595" y="332" width="1" height="156" fill="url(#sa2)" opacity="0.15"/>
<rect x="596" y="332" width="1" height="156" fill="url(#sa2)" opacity="0.15"/>
<rect x="597" y="332" width="1" height="156" fill="url(#sa2)" opacity="0.35"/>
<rect x="598" y="332" width="1" height="156" fill="url(#sa2)" opacity="0.35"/>
<rect x="599" y="332" width="1" height="156" fill="url(#sa2)" opacity="0.35"/>
<rect x="600" y="332" width="1" height="156" fill="url(#sa2)" opacity="0.07"/>
<rect x="601" y="332" width="1" height="156" fill="url(#sa2)" opacity="0.07"/>
<rect x="602" y="332" width="1" height="156" fill="url(#sa2)" opacity="0.66"/>
<rect x="603" y="332" width="1" height="156" fill="url(#sa2)" opacity="0.66"/>
<rect x="604" y="332" width="1" height="156" fill="url(#sa2)" opacity="0.14"/>
<rect x="605" y="332" width="1" height="156" fill="url(#sa2)" opacity="0.14"/>
<rect x="606" y="332" width="1" height="156" fill="url(#sa2)" opacity="0.30"/>
<rect x="607" y="332" width="1" height="156" fill="url(#sa2)" opacity="0.30"/>
<rect x="608" y="332" width="1" height="156" fill="url(#sa2)" opacity="0.13"/>
<rect x="609" y="332" width="1" height="156" fill="url(#sa2)" opacity="0.13"/>
<rect x="610" y="332" width="1" height="156" fill="url(#sa2)" opacity="0.13"/>
<rect x="611" y="332" width="1" height="156" fill="url(#sa2)" opacity="0.69"/>
<rect x="612" y="332" width="1" height="156" fill="url(#sa2)" opacity="0.69"/>
<rect x="613" y="332" width="1" height="156" fill="url(#sa2)" opacity="0.42"/>
<rect x="614" y="332" width="1" height="156" fill="url(#sa2)" opacity="0.42"/>
<rect x="615" y="332" width="1" height="156" fill="url(#sa2)" opacity="0.82"/>
<rect x="616" y="332" width="1" height="156" fill="url(#sa2)" opacity="0.43"/>
<rect x="617" y="332" width="1" height="156" fill="url(#sa2)" opacity="0.43"/>
<rect x="618" y="332" width="1" height="156" fill="url(#sa2)" opacity="0.43"/>
<rect x="619" y="332" width="1" height="156" fill="url(#sa2)" opacity="0.10"/>
<rect x="620" y="332" width="1" height="156" fill="url(#sa2)" opacity="0.10"/>
<rect x="621" y="332" width="1" height="156" fill="url(#sa2)" opacity="0.10"/>
<rect x="622" y="332" width="1" height="156" fill="url(#sa2)" opacity="0.37"/>
<rect x="623" y="332" width="1" height="156" fill="url(#sa2)" opacity="0.75"/>
<rect x="624" y="332" width="1" height="156" fill="url(#sa2)" opacity="0.35"/>
<rect x="625" y="332" width="1" height="156" fill="url(#sa2)" opacity="0.35"/>
<rect x="626" y="332" width="1" height="156" fill="url(#sa2)" opacity="0.35"/>
<rect x="627" y="332" width="1" height="156" fill="url(#sa2)" opacity="0.19"/>
<rect x="628" y="332" width="1" height="156" fill="url(#sa2)" opacity="0.19"/>
<rect x="629" y="332" width="1" height="156" fill="url(#sa2)" opacity="0.31"/>
<rect x="630" y="332" width="1" height="156" fill="url(#sa2)" opacity="0.31"/>
<rect x="631" y="332" width="1" height="156" fill="url(#sa2)" opacity="0.78"/>
<rect x="632" y="332" width="1" height="156" fill="url(#sa2)" opacity="0.42"/>
<rect x="633" y="332" width="1" height="156" fill="url(#sa2)" opacity="0.42"/>
<rect x="634" y="332" width="1" height="156" fill="url(#sa2)" opacity="0.42"/>
<rect x="635" y="332" width="1" height="156" fill="url(#sa2)" opacity="0.10"/>
<rect x="636" y="332" width="1" height="156" fill="url(#sa2)" opacity="0.10"/>
<rect x="637" y="332" width="1" height="156" fill="url(#sa2)" opacity="0.62"/>
<rect x="638" y="332" width="1" height="156" fill="url(#sa2)" opacity="0.16"/>
<rect x="639" y="332" width="1" height="156" fill="url(#sa2)" opacity="0.16"/>
<rect x="640" y="332" width="1" height="156" fill="url(#sa2)" opacity="0.16"/>
<rect x="641" y="332" width="1" height="156" fill="url(#sa2)" opacity="0.31"/>
<rect x="642" y="332" width="1" height="156" fill="url(#sa2)" opacity="0.31"/>
<rect x="643" y="332" width="1" height="156" fill="url(#sa2)" opacity="0.31"/>
<rect x="644" y="332" width="1" height="156" fill="url(#sa2)" opacity="0.81"/>
<rect x="645" y="332" width="1" height="156" fill="url(#sa2)" opacity="0.09"/>
<rect x="646" y="332" width="1" height="156" fill="url(#sa2)" opacity="0.09"/>
<rect x="647" y="332" width="1" height="156" fill="url(#sa2)" opacity="0.31"/>
<rect x="648" y="332" width="1" height="156" fill="url(#sa2)" opacity="0.31"/>
<rect x="649" y="332" width="1" height="156" fill="url(#sa2)" opacity="0.67"/>
<rect x="650" y="332" width="1" height="156" fill="url(#sa2)" opacity="0.16"/>
<rect x="651" y="332" width="1" height="156" fill="url(#sa2)" opacity="0.16"/>
<rect x="652" y="332" width="1" height="156" fill="url(#sa2)" opacity="0.16"/>
<rect x="653" y="332" width="1" height="156" fill="url(#sa2)" opacity="0.16"/>
<rect x="654" y="332" width="1" height="156" fill="url(#sa2)" opacity="0.16"/>
<rect x="655" y="332" width="1" height="156" fill="url(#sa2)" opacity="0.16"/>
<rect x="656" y="332" width="1" height="156" fill="url(#sa2)" opacity="0.16"/>
<rect x="657" y="332" width="1" height="156" fill="url(#sa2)" opacity="0.14"/>
<rect x="658" y="332" width="1" height="156" fill="url(#sa2)" opacity="0.67"/>
<rect x="659" y="332" width="1" height="156" fill="url(#sa2)" opacity="0.67"/>
<rect x="660" y="332" width="1" height="156" fill="url(#sa2)" opacity="0.39"/>
<rect x="661" y="332" width="1" height="156" fill="url(#sa2)" opacity="0.39"/>
<rect x="662" y="332" width="1" height="156" fill="url(#sa2)" opacity="0.10"/>
<rect x="663" y="332" width="1" height="156" fill="url(#sa2)" opacity="0.10"/>
<rect x="664" y="332" width="1" height="156" fill="url(#sa2)" opacity="0.10"/>
<rect x="665" y="332" width="1" height="156" fill="url(#sa2)" opacity="0.10"/>
<rect x="666" y="332" width="1" height="156" fill="url(#sa2)" opacity="0.38"/>
<rect x="667" y="332" width="1" height="156" fill="url(#sa2)" opacity="0.38"/>
<rect x="668" y="332" width="1" height="156" fill="url(#sa2)" opacity="0.38"/>
<rect x="669" y="332" width="1" height="156" fill="url(#sa2)" opacity="0.44"/>
<rect x="670" y="332" width="1" height="156" fill="url(#sa2)" opacity="0.44"/>
<rect x="671" y="332" width="1" height="156" fill="url(#sa2)" opacity="0.38"/>
<rect x="672" y="332" width="1" height="156" fill="url(#sa2)" opacity="0.38"/>
<rect x="673" y="332" width="1" height="156" fill="url(#sa2)" opacity="0.31"/>
<rect x="674" y="332" width="1" height="156" fill="url(#sa2)" opacity="0.31"/>
<rect x="675" y="332" width="1" height="156" fill="url(#sa2)" opacity="0.73"/>
<rect x="676" y="332" width="1" height="156" fill="url(#sa2)" opacity="0.37"/>
<rect x="677" y="332" width="1" height="156" fill="url(#sa2)" opacity="0.37"/>
<rect x="678" y="332" width="1" height="156" fill="url(#sa2)" opacity="0.38"/>
<rect x="679" y="332" width="1" height="156" fill="url(#sa2)" opacity="0.38"/>
<rect x="680" y="332" width="1" height="156" fill="url(#sa2)" opacity="0.77"/>
<rect x="681" y="332" width="1" height="156" fill="url(#sa2)" opacity="0.65"/>
<rect x="682" y="332" width="1" height="156" fill="url(#sa2)" opacity="0.12"/>
<rect x="683" y="332" width="1" height="156" fill="url(#sa2)" opacity="0.12"/>
<rect x="684" y="332" width="1" height="156" fill="url(#sa2)" opacity="0.12"/>
<rect x="685" y="332" width="1" height="156" fill="url(#sa2)" opacity="0.12"/>
<rect x="686" y="332" width="1" height="156" fill="url(#sa2)" opacity="0.16"/>
<rect x="687" y="332" width="1" height="156" fill="url(#sa2)" opacity="0.16"/>
<rect x="688" y="332" width="1" height="156" fill="url(#sa2)" opacity="0.16"/>
<rect x="689" y="332" width="1" height="156" fill="url(#sa2)" opacity="0.32"/>
<rect x="690" y="332" width="1" height="156" fill="url(#sa2)" opacity="0.32"/>
<rect x="691" y="332" width="1" height="156" fill="url(#sa2)" opacity="0.18"/>
<rect x="692" y="332" width="1" height="156" fill="url(#sa2)" opacity="0.18"/>
<rect x="84" y="332" width="1" height="156" fill="url(#sb2)" opacity="0.42"/>
<rect x="94" y="332" width="1" height="156" fill="url(#sb2)" opacity="0.84"/>
<rect x="105" y="332" width="1" height="156" fill="url(#sb2)" opacity="0.51"/>
<rect x="117" y="332" width="1" height="156" fill="url(#sb2)" opacity="1.00"/>
<rect x="124" y="332" width="1" height="156" fill="url(#sb2)" opacity="0.86"/>
<rect x="134" y="332" width="1" height="156" fill="url(#sb2)" opacity="0.86"/>
<rect x="139" y="332" width="1" height="156" fill="url(#sb2)" opacity="0.80"/>
<rect x="153" y="332" width="1" height="156" fill="url(#sb2)" opacity="0.93"/>
<rect x="160" y="332" width="1" height="156" fill="url(#sb2)" opacity="0.90"/>
<rect x="178" y="332" width="1" height="156" fill="url(#sb2)" opacity="0.52"/>
<rect x="186" y="332" width="1" height="156" fill="url(#sb2)" opacity="0.92"/>
<rect x="192" y="332" width="1" height="156" fill="url(#sb2)" opacity="0.99"/>
<rect x="202" y="332" width="1" height="156" fill="url(#sb2)" opacity="0.97"/>
<rect x="209" y="332" width="1" height="156" fill="url(#sb2)" opacity="0.97"/>
<rect x="222" y="332" width="1" height="156" fill="url(#sb2)" opacity="0.85"/>
<rect x="235" y="332" width="1" height="156" fill="url(#sb2)" opacity="0.53"/>
<rect x="244" y="332" width="1" height="156" fill="url(#sb2)" opacity="0.91"/>
<rect x="249" y="332" width="1" height="156" fill="url(#sb2)" opacity="0.47"/>
<rect x="265" y="332" width="1" height="156" fill="url(#sb2)" opacity="0.99"/>
<rect x="269" y="332" width="1" height="156" fill="url(#sb2)" opacity="0.56"/>
<rect x="286" y="332" width="1" height="156" fill="url(#sb2)" opacity="0.52"/>
<rect x="293" y="332" width="1" height="156" fill="url(#sb2)" opacity="0.93"/>
<rect x="300" y="332" width="1" height="156" fill="url(#sb2)" opacity="0.73"/>
<rect x="315" y="332" width="1" height="156" fill="url(#sb2)" opacity="0.96"/>
<rect x="320" y="332" width="1" height="156" fill="url(#sb2)" opacity="0.52"/>
<rect x="334" y="332" width="1" height="156" fill="url(#sb2)" opacity="0.51"/>
<rect x="340" y="332" width="1" height="156" fill="url(#sb2)" opacity="0.88"/>
<rect x="350" y="332" width="1" height="156" fill="url(#sb2)" opacity="0.41"/>
<rect x="361" y="332" width="1" height="156" fill="url(#sb2)" opacity="0.66"/>
<rect x="378" y="332" width="1" height="156" fill="url(#sb2)" opacity="0.99"/>
<rect x="387" y="332" width="1" height="156" fill="url(#sb2)" opacity="0.54"/>
<rect x="393" y="332" width="1" height="156" fill="url(#sb2)" opacity="0.45"/>
<rect x="404" y="332" width="1" height="156" fill="url(#sb2)" opacity="0.90"/>
<rect x="411" y="332" width="1" height="156" fill="url(#sb2)" opacity="0.48"/>
<rect x="424" y="332" width="1" height="156" fill="url(#sb2)" opacity="0.70"/>
<rect x="437" y="332" width="1" height="156" fill="url(#sb2)" opacity="0.91"/>
<rect x="448" y="332" width="1" height="156" fill="url(#sb2)" opacity="0.48"/>
<rect x="449" y="332" width="1" height="156" fill="url(#sb2)" opacity="0.77"/>
<rect x="463" y="332" width="1" height="156" fill="url(#sb2)" opacity="0.78"/>
<rect x="473" y="332" width="1" height="156" fill="url(#sb2)" opacity="0.87"/>
<rect x="485" y="332" width="1" height="156" fill="url(#sb2)" opacity="0.97"/>
<rect x="492" y="332" width="1" height="156" fill="url(#sb2)" opacity="0.93"/>
<rect x="503" y="332" width="1" height="156" fill="url(#sb2)" opacity="0.54"/>
<rect x="509" y="332" width="1" height="156" fill="url(#sb2)" opacity="0.80"/>
<rect x="525" y="332" width="1" height="156" fill="url(#sb2)" opacity="0.87"/>
<rect x="533" y="332" width="1" height="156" fill="url(#sb2)" opacity="0.88"/>
<rect x="543" y="332" width="1" height="156" fill="url(#sb2)" opacity="0.72"/>
<rect x="551" y="332" width="1" height="156" fill="url(#sb2)" opacity="0.82"/>
<rect x="565" y="332" width="1" height="156" fill="url(#sb2)" opacity="0.60"/>
<rect x="572" y="332" width="1" height="156" fill="url(#sb2)" opacity="0.58"/>
<rect x="585" y="332" width="1" height="156" fill="url(#sb2)" opacity="0.64"/>
<rect x="594" y="332" width="1" height="156" fill="url(#sb2)" opacity="0.52"/>
<rect x="600" y="332" width="1" height="156" fill="url(#sb2)" opacity="0.71"/>
<rect x="612" y="332" width="1" height="156" fill="url(#sb2)" opacity="0.98"/>
<rect x="620" y="332" width="1" height="156" fill="url(#sb2)" opacity="0.80"/>
<rect x="636" y="332" width="1" height="156" fill="url(#sb2)" opacity="0.76"/>
<rect x="647" y="332" width="1" height="156" fill="url(#sb2)" opacity="0.59"/>
<rect x="655" y="332" width="1" height="156" fill="url(#sb2)" opacity="0.49"/>
<rect x="663" y="332" width="1" height="156" fill="url(#sb2)" opacity="0.66"/>
<rect x="674" y="332" width="1" height="156" fill="url(#sb2)" opacity="0.71"/>
<rect x="687" y="332" width="1" height="156" fill="url(#sb2)" opacity="0.94"/>
<rect x="692" y="332" width="1" height="156" fill="url(#sb2)" opacity="0.74"/>
<linearGradient id="dw2" x1="0" y1="0" x2="0" y2="1"><stop offset="0.000" stop-color="#000" stop-opacity="0.00"/><stop offset="0.013" stop-color="#000" stop-opacity="0.00"/><stop offset="0.026" stop-color="#000" stop-opacity="0.00"/><stop offset="0.039" stop-color="#000" stop-opacity="0.00"/><stop offset="0.052" stop-color="#000" stop-opacity="0.00"/><stop offset="0.065" stop-color="#000" stop-opacity="0.00"/><stop offset="0.077" stop-color="#000" stop-opacity="0.00"/><stop offset="0.090" stop-color="#000" stop-opacity="0.00"/><stop offset="0.103" stop-color="#000" stop-opacity="0.00"/><stop offset="0.116" stop-color="#000" stop-opacity="0.00"/><stop offset="0.129" stop-color="#000" stop-opacity="0.00"/><stop offset="0.142" stop-color="#000" stop-opacity="0.00"/><stop offset="0.155" stop-color="#000" stop-opacity="0.00"/><stop offset="0.168" stop-color="#000" stop-opacity="0.00"/><stop offset="0.181" stop-color="#000" stop-opacity="0.00"/><stop offset="0.194" stop-color="#000" stop-opacity="0.00"/><stop offset="0.206" stop-color="#000" stop-opacity="0.00"/><stop offset="0.219" stop-color="#000" stop-opacity="0.00"/><stop offset="0.232" stop-color="#000" stop-opacity="0.00"/><stop offset="0.245" stop-color="#000" stop-opacity="0.00"/><stop offset="0.258" stop-color="#000" stop-opacity="0.00"/><stop offset="0.271" stop-color="#000" stop-opacity="0.00"/><stop offset="0.284" stop-color="#000" stop-opacity="0.00"/><stop offset="0.297" stop-color="#000" stop-opacity="0.00"/><stop offset="0.310" stop-color="#000" stop-opacity="0.00"/><stop offset="0.323" stop-color="#000" stop-opacity="0.00"/><stop offset="0.335" stop-color="#000" stop-opacity="0.00"/><stop offset="0.348" stop-color="#000" stop-opacity="0.00"/><stop offset="0.361" stop-color="#000" stop-opacity="0.00"/><stop offset="0.374" stop-color="#000" stop-opacity="0.00"/><stop offset="0.387" stop-color="#000" stop-opacity="0.00"/><stop offset="0.400" stop-color="#000" stop-opacity="0.00"/><stop offset="0.413" stop-color="#000" stop-opacity="0.00"/><stop offset="0.426" stop-color="#000" stop-opacity="0.00"/><stop offset="0.439" stop-color="#000" stop-opacity="0.04"/><stop offset="0.452" stop-color="#000" stop-opacity="0.07"/><stop offset="0.465" stop-color="#000" stop-opacity="0.11"/><stop offset="0.477" stop-color="#000" stop-opacity="0.14"/><stop offset="0.490" stop-color="#000" stop-opacity="0.18"/><stop offset="0.503" stop-color="#000" stop-opacity="0.21"/><stop offset="0.516" stop-color="#000" stop-opacity="0.25"/><stop offset="0.529" stop-color="#000" stop-opacity="0.28"/><stop offset="0.542" stop-color="#000" stop-opacity="0.29"/><stop offset="0.555" stop-color="#000" stop-opacity="0.29"/><stop offset="0.568" stop-color="#000" stop-opacity="0.30"/><stop offset="0.581" stop-color="#000" stop-opacity="0.30"/><stop offset="0.594" stop-color="#000" stop-opacity="0.31"/><stop offset="0.606" stop-color="#000" stop-opacity="0.32"/><stop offset="0.619" stop-color="#000" stop-opacity="0.16"/><stop offset="0.632" stop-color="#000" stop-opacity="0.00"/><stop offset="0.645" stop-color="#000" stop-opacity="0.00"/><stop offset="0.658" stop-color="#000" stop-opacity="0.00"/><stop offset="0.671" stop-color="#000" stop-opacity="0.00"/><stop offset="0.684" stop-color="#000" stop-opacity="0.00"/><stop offset="0.697" stop-color="#000" stop-opacity="0.00"/><stop offset="0.710" stop-color="#000" stop-opacity="0.00"/><stop offset="0.723" stop-color="#000" stop-opacity="0.00"/><stop offset="0.735" stop-color="#000" stop-opacity="0.00"/><stop offset="0.748" stop-color="#000" stop-opacity="0.10"/><stop offset="0.761" stop-color="#000" stop-opacity="0.20"/><stop offset="0.774" stop-color="#000" stop-opacity="0.24"/><stop offset="0.787" stop-color="#000" stop-opacity="0.28"/><stop offset="0.800" stop-color="#000" stop-opacity="0.30"/><stop offset="0.813" stop-color="#000" stop-opacity="0.30"/><stop offset="0.826" stop-color="#000" stop-opacity="0.30"/><stop offset="0.839" stop-color="#000" stop-opacity="0.30"/><stop offset="0.852" stop-color="#000" stop-opacity="0.30"/><stop offset="0.865" stop-color="#000" stop-opacity="0.30"/><stop offset="0.877" stop-color="#000" stop-opacity="0.30"/><stop offset="0.890" stop-color="#000" stop-opacity="0.30"/><stop offset="0.903" stop-color="#000" stop-opacity="0.30"/><stop offset="0.916" stop-color="#000" stop-opacity="0.30"/><stop offset="0.929" stop-color="#000" stop-opacity="0.30"/><stop offset="0.942" stop-color="#000" stop-opacity="0.30"/><stop offset="0.955" stop-color="#000" stop-opacity="0.30"/><stop offset="0.968" stop-color="#000" stop-opacity="0.15"/><stop offset="0.981" stop-color="#000" stop-opacity="0.15"/><stop offset="0.994" stop-color="#000" stop-opacity="0.15"/></linearGradient>
<rect x="79" y="332" width="614" height="156" fill="url(#dw2)" filter="url(#dash2)"/>
<rect x="160" y="476" width="85" height="1" fill="#b2b2b2"/>
<rect x="400" y="476" width="70" height="1" fill="#a6a6a6"/>
<rect x="80" y="381" width="20" height="1" fill="#b2b2b2"/>
<rect x="130" y="381" width="47" height="1" fill="#b2b2b2"/>
<rect x="181" y="381" width="63" height="1" fill="#b2b2b2"/>
<rect x="248" y="381" width="71" height="1" fill="#b2b2b2"/>
<rect x="95" y="412" width="31" height="1" fill="#acacac"/>
<rect x="229" y="412" width="23" height="1" fill="#acacac"/>
<rect x="284" y="412" width="31" height="1" fill="#acacac"/>
<rect x="480" y="381" width="60" height="1" fill="#acacac"/>
<rect x="480" y="412" width="80" height="1" fill="#acacac"/>
<rect x="500" y="421" width="100" height="1" fill="#a6a6a6"/>
<rect x="640" y="383" width="50" height="1" fill="#acacac"/>
</g>
<g shape-rendering="crispEdges">
<rect x="74" y="126" width="635" height="1" fill="#000"/>
<rect x="74" y="157" width="635" height="1" fill="#000"/>
<rect x="703" y="126" width="1" height="32" fill="#000"/>
<rect x="79" y="126" width="1" height="32" fill="#000"/>
<rect x="89" y="127" width="1" height="3" fill="#000"/>
<rect x="89" y="154" width="1" height="3" fill="#000"/>
<rect x="100" y="127" width="1" height="3" fill="#000"/>
<rect x="100" y="154" width="1" height="3" fill="#000"/>
<rect x="110" y="127" width="1" height="3" fill="#000"/>
<rect x="110" y="154" width="1" height="3" fill="#000"/>
<rect x="120" y="127" width="1" height="3" fill="#000"/>
<rect x="120" y="154" width="1" height="3" fill="#000"/>
<rect x="131" y="127" width="1" height="3" fill="#000"/>
<rect x="131" y="154" width="1" height="3" fill="#000"/>
<rect x="141" y="127" width="1" height="10" fill="#000"/>
<rect x="141" y="147" width="1" height="10" fill="#000"/>
<rect x="152" y="127" width="1" height="3" fill="#000"/>
<rect x="152" y="154" width="1" height="3" fill="#000"/>
<rect x="162" y="127" width="1" height="3" fill="#000"/>
<rect x="162" y="154" width="1" height="3" fill="#000"/>
<rect x="172" y="127" width="1" height="3" fill="#000"/>
<rect x="172" y="154" width="1" height="3" fill="#000"/>
<rect x="183" y="127" width="1" height="3" fill="#000"/>
<rect x="183" y="154" width="1" height="3" fill="#000"/>
<rect x="193" y="127" width="1" height="3" fill="#000"/>
<rect x="193" y="154" width="1" height="3" fill="#000"/>
<rect x="204" y="127" width="1" height="10" fill="#000"/>
<rect x="204" y="147" width="1" height="10" fill="#000"/>
<rect x="214" y="127" width="1" height="3" fill="#000"/>
<rect x="214" y="154" width="1" height="3" fill="#000"/>
<rect x="224" y="127" width="1" height="3" fill="#000"/>
<rect x="224" y="154" width="1" height="3" fill="#000"/>
<rect x="235" y="127" width="1" height="3" fill="#000"/>
<rect x="235" y="154" width="1" height="3" fill="#000"/>
<rect x="245" y="127" width="1" height="3" fill="#000"/>
<rect x="245" y="154" width="1" height="3" fill="#000"/>
<rect x="256" y="127" width="1" height="3" fill="#000"/>
<rect x="256" y="154" width="1" height="3" fill="#000"/>
<rect x="266" y="127" width="1" height="10" fill="#000"/>
<rect x="266" y="147" width="1" height="10" fill="#000"/>
<rect x="276" y="127" width="1" height="3" fill="#000"/>
<rect x="276" y="154" width="1" height="3" fill="#000"/>
<rect x="287" y="127" width="1" height="3" fill="#000"/>
<rect x="287" y="154" width="1" height="3" fill="#000"/>
<rect x="297" y="127" width="1" height="3" fill="#000"/>
<rect x="297" y="154" width="1" height="3" fill="#000"/>
<rect x="308" y="127" width="1" height="3" fill="#000"/>
<rect x="308" y="154" width="1" height="3" fill="#000"/>
<rect x="318" y="127" width="1" height="3" fill="#000"/>
<rect x="318" y="154" width="1" height="3" fill="#000"/>
<rect x="328" y="127" width="1" height="10" fill="#000"/>
<rect x="328" y="147" width="1" height="10" fill="#000"/>
<rect x="339" y="127" width="1" height="3" fill="#000"/>
<rect x="339" y="154" width="1" height="3" fill="#000"/>
<rect x="349" y="127" width="1" height="3" fill="#000"/>
<rect x="349" y="154" width="1" height="3" fill="#000"/>
<rect x="360" y="127" width="1" height="3" fill="#000"/>
<rect x="360" y="154" width="1" height="3" fill="#000"/>
<rect x="370" y="127" width="1" height="3" fill="#000"/>
<rect x="370" y="154" width="1" height="3" fill="#000"/>
<rect x="380" y="127" width="1" height="3" fill="#000"/>
<rect x="380" y="154" width="1" height="3" fill="#000"/>
<rect x="391" y="127" width="1" height="10" fill="#000"/>
<rect x="391" y="147" width="1" height="10" fill="#000"/>
<rect x="401" y="127" width="1" height="3" fill="#000"/>
<rect x="401" y="154" width="1" height="3" fill="#000"/>
<rect x="412" y="127" width="1" height="3" fill="#000"/>
<rect x="412" y="154" width="1" height="3" fill="#000"/>
<rect x="422" y="127" width="1" height="3" fill="#000"/>
<rect x="422" y="154" width="1" height="3" fill="#000"/>
<rect x="432" y="127" width="1" height="3" fill="#000"/>
<rect x="432" y="154" width="1" height="3" fill="#000"/>
<rect x="443" y="127" width="1" height="3" fill="#000"/>
<rect x="443" y="154" width="1" height="3" fill="#000"/>
<rect x="453" y="127" width="1" height="10" fill="#000"/>
<rect x="453" y="147" width="1" height="10" fill="#000"/>
<rect x="464" y="127" width="1" height="3" fill="#000"/>
<rect x="464" y="154" width="1" height="3" fill="#000"/>
<rect x="474" y="127" width="1" height="3" fill="#000"/>
<rect x="474" y="154" width="1" height="3" fill="#000"/>
<rect x="484" y="127" width="1" height="3" fill="#000"/>
<rect x="484" y="154" width="1" height="3" fill="#000"/>
<rect x="495" y="127" width="1" height="3" fill="#000"/>
<rect x="495" y="154" width="1" height="3" fill="#000"/>
<rect x="505" y="127" width="1" height="3" fill="#000"/>
<rect x="505" y="154" width="1" height="3" fill="#000"/>
<rect x="516" y="127" width="1" height="10" fill="#000"/>
<rect x="516" y="147" width="1" height="10" fill="#000"/>
<rect x="526" y="127" width="1" height="3" fill="#000"/>
<rect x="526" y="154" width="1" height="3" fill="#000"/>
<rect x="536" y="127" width="1" height="3" fill="#000"/>
<rect x="536" y="154" width="1" height="3" fill="#000"/>
<rect x="547" y="127" width="1" height="3" fill="#000"/>
<rect x="547" y="154" width="1" height="3" fill="#000"/>
<rect x="557" y="127" width="1" height="3" fill="#000"/>
<rect x="557" y="154" width="1" height="3" fill="#000"/>
<rect x="568" y="127" width="1" height="3" fill="#000"/>
<rect x="568" y="154" width="1" height="3" fill="#000"/>
<rect x="578" y="127" width="1" height="10" fill="#000"/>
<rect x="578" y="147" width="1" height="10" fill="#000"/>
<rect x="588" y="127" width="1" height="3" fill="#000"/>
<rect x="588" y="154" width="1" height="3" fill="#000"/>
<rect x="599" y="127" width="1" height="3" fill="#000"/>
<rect x="599" y="154" width="1" height="3" fill="#000"/>
<rect x="609" y="127" width="1" height="3" fill="#000"/>
<rect x="609" y="154" width="1" height="3" fill="#000"/>
<rect x="620" y="127" width="1" height="3" fill="#000"/>
<rect x="620" y="154" width="1" height="3" fill="#000"/>
<rect x="630" y="127" width="1" height="3" fill="#000"/>
<rect x="630" y="154" width="1" height="3" fill="#000"/>
<rect x="640" y="127" width="1" height="10" fill="#000"/>
<rect x="640" y="147" width="1" height="10" fill="#000"/>
<rect x="651" y="127" width="1" height="3" fill="#000"/>
<rect x="651" y="154" width="1" height="3" fill="#000"/>
<rect x="661" y="127" width="1" height="3" fill="#000"/>
<rect x="661" y="154" width="1" height="3" fill="#000"/>
<rect x="672" y="127" width="1" height="3" fill="#000"/>
<rect x="672" y="154" width="1" height="3" fill="#000"/>
<rect x="682" y="127" width="1" height="3" fill="#000"/>
<rect x="682" y="154" width="1" height="3" fill="#000"/>
<rect x="692" y="127" width="1" height="3" fill="#000"/>
<rect x="692" y="154" width="1" height="3" fill="#000"/>
<rect x="74" y="166" width="635" height="1" fill="#000"/>
<rect x="74" y="322" width="635" height="1" fill="#000"/>
<rect x="703" y="166" width="1" height="157" fill="#000"/>
<rect x="74" y="331" width="635" height="1" fill="#000"/>
<rect x="74" y="488" width="635" height="1" fill="#000"/>
<rect x="703" y="331" width="1" height="158" fill="#000"/>
<rect x="74" y="497" width="635" height="1" fill="#000"/>
<rect x="74" y="528" width="635" height="1" fill="#000"/>
<rect x="703" y="497" width="1" height="32" fill="#000"/>
<rect x="79" y="497" width="1" height="32" fill="#000"/>
<rect x="79" y="157" width="1" height="10" fill="#000"/>
<rect x="79" y="322" width="1" height="10" fill="#000"/>
<rect x="79" y="488" width="1" height="10" fill="#000"/>
<rect x="89" y="163" width="1" height="3" fill="#000"/>
<rect x="89" y="323" width="1" height="4" fill="#000"/>
<rect x="89" y="328" width="1" height="3" fill="#000"/>
<rect x="89" y="489" width="1" height="4" fill="#000"/>
<rect x="89" y="494" width="1" height="3" fill="#000"/>
<rect x="89" y="529" width="1" height="3" fill="#000"/>
<rect x="100" y="163" width="1" height="3" fill="#000"/>
<rect x="100" y="323" width="1" height="4" fill="#000"/>
<rect x="100" y="328" width="1" height="3" fill="#000"/>
<rect x="100" y="489" width="1" height="4" fill="#000"/>
<rect x="100" y="494" width="1" height="3" fill="#000"/>
<rect x="100" y="529" width="1" height="3" fill="#000"/>
<rect x="110" y="163" width="1" height="3" fill="#000"/>
<rect x="110" y="323" width="1" height="4" fill="#000"/>
<rect x="110" y="328" width="1" height="3" fill="#000"/>
<rect x="110" y="489" width="1" height="4" fill="#000"/>
<rect x="110" y="494" width="1" height="3" fill="#000"/>
<rect x="110" y="529" width="1" height="3" fill="#000"/>
<rect x="120" y="163" width="1" height="3" fill="#000"/>
<rect x="120" y="323" width="1" height="4" fill="#000"/>
<rect x="120" y="328" width="1" height="3" fill="#000"/>
<rect x="120" y="489" width="1" height="4" fill="#000"/>
<rect x="120" y="494" width="1" height="3" fill="#000"/>
<rect x="120" y="529" width="1" height="3" fill="#000"/>
<rect x="131" y="163" width="1" height="3" fill="#000"/>
<rect x="131" y="323" width="1" height="4" fill="#000"/>
<rect x="131" y="328" width="1" height="3" fill="#000"/>
<rect x="131" y="489" width="1" height="4" fill="#000"/>
<rect x="131" y="494" width="1" height="3" fill="#000"/>
<rect x="131" y="529" width="1" height="3" fill="#000"/>
<rect x="141" y="158" width="1" height="8" fill="#000"/>
<rect x="141" y="323" width="1" height="8" fill="#000"/>
<rect x="141" y="489" width="1" height="10" fill="#000"/>
<rect x="141" y="529" width="1" height="11" fill="#000"/>
<rect x="152" y="163" width="1" height="3" fill="#000"/>
<rect x="152" y="323" width="1" height="4" fill="#000"/>
<rect x="152" y="328" width="1" height="3" fill="#000"/>
<rect x="152" y="489" width="1" height="4" fill="#000"/>
<rect x="152" y="494" width="1" height="3" fill="#000"/>
<rect x="152" y="529" width="1" height="3" fill="#000"/>
<rect x="162" y="163" width="1" height="3" fill="#000"/>
<rect x="162" y="323" width="1" height="4" fill="#000"/>
<rect x="162" y="328" width="1" height="3" fill="#000"/>
<rect x="162" y="489" width="1" height="4" fill="#000"/>
<rect x="162" y="494" width="1" height="3" fill="#000"/>
<rect x="162" y="529" width="1" height="3" fill="#000"/>
<rect x="172" y="163" width="1" height="3" fill="#000"/>
<rect x="172" y="323" width="1" height="4" fill="#000"/>
<rect x="172" y="328" width="1" height="3" fill="#000"/>
<rect x="172" y="489" width="1" height="4" fill="#000"/>
<rect x="172" y="494" width="1" height="3" fill="#000"/>
<rect x="172" y="529" width="1" height="3" fill="#000"/>
<rect x="183" y="163" width="1" height="3" fill="#000"/>
<rect x="183" y="323" width="1" height="4" fill="#000"/>
<rect x="183" y="328" width="1" height="3" fill="#000"/>
<rect x="183" y="489" width="1" height="4" fill="#000"/>
<rect x="183" y="494" width="1" height="3" fill="#000"/>
<rect x="183" y="529" width="1" height="3" fill="#000"/>
<rect x="193" y="163" width="1" height="3" fill="#000"/>
<rect x="193" y="323" width="1" height="4" fill="#000"/>
<rect x="193" y="328" width="1" height="3" fill="#000"/>
<rect x="193" y="489" width="1" height="4" fill="#000"/>
<rect x="193" y="494" width="1" height="3" fill="#000"/>
<rect x="193" y="529" width="1" height="3" fill="#000"/>
<rect x="204" y="158" width="1" height="8" fill="#000"/>
<rect x="204" y="323" width="1" height="8" fill="#000"/>
<rect x="204" y="489" width="1" height="10" fill="#000"/>
<rect x="204" y="529" width="1" height="11" fill="#000"/>
<rect x="214" y="163" width="1" height="3" fill="#000"/>
<rect x="214" y="323" width="1" height="4" fill="#000"/>
<rect x="214" y="328" width="1" height="3" fill="#000"/>
<rect x="214" y="489" width="1" height="4" fill="#000"/>
<rect x="214" y="494" width="1" height="3" fill="#000"/>
<rect x="214" y="529" width="1" height="3" fill="#000"/>
<rect x="224" y="163" width="1" height="3" fill="#000"/>
<rect x="224" y="323" width="1" height="4" fill="#000"/>
<rect x="224" y="328" width="1" height="3" fill="#000"/>
<rect x="224" y="489" width="1" height="4" fill="#000"/>
<rect x="224" y="494" width="1" height="3" fill="#000"/>
<rect x="224" y="529" width="1" height="3" fill="#000"/>
<rect x="235" y="163" width="1" height="3" fill="#000"/>
<rect x="235" y="323" width="1" height="4" fill="#000"/>
<rect x="235" y="328" width="1" height="3" fill="#000"/>
<rect x="235" y="489" width="1" height="4" fill="#000"/>
<rect x="235" y="494" width="1" height="3" fill="#000"/>
<rect x="235" y="529" width="1" height="3" fill="#000"/>
<rect x="245" y="163" width="1" height="3" fill="#000"/>
<rect x="245" y="323" width="1" height="4" fill="#000"/>
<rect x="245" y="328" width="1" height="3" fill="#000"/>
<rect x="245" y="489" width="1" height="4" fill="#000"/>
<rect x="245" y="494" width="1" height="3" fill="#000"/>
<rect x="245" y="529" width="1" height="3" fill="#000"/>
<rect x="256" y="163" width="1" height="3" fill="#000"/>
<rect x="256" y="323" width="1" height="4" fill="#000"/>
<rect x="256" y="328" width="1" height="3" fill="#000"/>
<rect x="256" y="489" width="1" height="4" fill="#000"/>
<rect x="256" y="494" width="1" height="3" fill="#000"/>
<rect x="256" y="529" width="1" height="3" fill="#000"/>
<rect x="266" y="158" width="1" height="8" fill="#000"/>
<rect x="266" y="323" width="1" height="8" fill="#000"/>
<rect x="266" y="489" width="1" height="10" fill="#000"/>
<rect x="266" y="529" width="1" height="11" fill="#000"/>
<rect x="276" y="163" width="1" height="3" fill="#000"/>
<rect x="276" y="323" width="1" height="4" fill="#000"/>
<rect x="276" y="328" width="1" height="3" fill="#000"/>
<rect x="276" y="489" width="1" height="4" fill="#000"/>
<rect x="276" y="494" width="1" height="3" fill="#000"/>
<rect x="276" y="529" width="1" height="3" fill="#000"/>
<rect x="287" y="163" width="1" height="3" fill="#000"/>
<rect x="287" y="323" width="1" height="4" fill="#000"/>
<rect x="287" y="328" width="1" height="3" fill="#000"/>
<rect x="287" y="489" width="1" height="4" fill="#000"/>
<rect x="287" y="494" width="1" height="3" fill="#000"/>
<rect x="287" y="529" width="1" height="3" fill="#000"/>
<rect x="297" y="163" width="1" height="3" fill="#000"/>
<rect x="297" y="323" width="1" height="4" fill="#000"/>
<rect x="297" y="328" width="1" height="3" fill="#000"/>
<rect x="297" y="489" width="1" height="4" fill="#000"/>
<rect x="297" y="494" width="1" height="3" fill="#000"/>
<rect x="297" y="529" width="1" height="3" fill="#000"/>
<rect x="308" y="163" width="1" height="3" fill="#000"/>
<rect x="308" y="323" width="1" height="4" fill="#000"/>
<rect x="308" y="328" width="1" height="3" fill="#000"/>
<rect x="308" y="489" width="1" height="4" fill="#000"/>
<rect x="308" y="494" width="1" height="3" fill="#000"/>
<rect x="308" y="529" width="1" height="3" fill="#000"/>
<rect x="318" y="163" width="1" height="3" fill="#000"/>
<rect x="318" y="323" width="1" height="4" fill="#000"/>
<rect x="318" y="328" width="1" height="3" fill="#000"/>
<rect x="318" y="489" width="1" height="4" fill="#000"/>
<rect x="318" y="494" width="1" height="3" fill="#000"/>
<rect x="318" y="529" width="1" height="3" fill="#000"/>
<rect x="328" y="158" width="1" height="8" fill="#000"/>
<rect x="328" y="323" width="1" height="8" fill="#000"/>
<rect x="328" y="489" width="1" height="10" fill="#000"/>
<rect x="328" y="529" width="1" height="11" fill="#000"/>
<rect x="339" y="163" width="1" height="3" fill="#000"/>
<rect x="339" y="323" width="1" height="4" fill="#000"/>
<rect x="339" y="328" width="1" height="3" fill="#000"/>
<rect x="339" y="489" width="1" height="4" fill="#000"/>
<rect x="339" y="494" width="1" height="3" fill="#000"/>
<rect x="339" y="529" width="1" height="3" fill="#000"/>
<rect x="349" y="163" width="1" height="3" fill="#000"/>
<rect x="349" y="323" width="1" height="4" fill="#000"/>
<rect x="349" y="328" width="1" height="3" fill="#000"/>
<rect x="349" y="489" width="1" height="4" fill="#000"/>
<rect x="349" y="494" width="1" height="3" fill="#000"/>
<rect x="349" y="529" width="1" height="3" fill="#000"/>
<rect x="360" y="163" width="1" height="3" fill="#000"/>
<rect x="360" y="323" width="1" height="4" fill="#000"/>
<rect x="360" y="328" width="1" height="3" fill="#000"/>
<rect x="360" y="489" width="1" height="4" fill="#000"/>
<rect x="360" y="494" width="1" height="3" fill="#000"/>
<rect x="360" y="529" width="1" height="3" fill="#000"/>
<rect x="370" y="163" width="1" height="3" fill="#000"/>
<rect x="370" y="323" width="1" height="4" fill="#000"/>
<rect x="370" y="328" width="1" height="3" fill="#000"/>
<rect x="370" y="489" width="1" height="4" fill="#000"/>
<rect x="370" y="494" width="1" height="3" fill="#000"/>
<rect x="370" y="529" width="1" height="3" fill="#000"/>
<rect x="380" y="163" width="1" height="3" fill="#000"/>
<rect x="380" y="323" width="1" height="4" fill="#000"/>
<rect x="380" y="328" width="1" height="3" fill="#000"/>
<rect x="380" y="489" width="1" height="4" fill="#000"/>
<rect x="380" y="494" width="1" height="3" fill="#000"/>
<rect x="380" y="529" width="1" height="3" fill="#000"/>
<rect x="391" y="158" width="1" height="8" fill="#000"/>
<rect x="391" y="323" width="1" height="8" fill="#000"/>
<rect x="391" y="489" width="1" height="10" fill="#000"/>
<rect x="391" y="529" width="1" height="11" fill="#000"/>
<rect x="401" y="163" width="1" height="3" fill="#000"/>
<rect x="401" y="323" width="1" height="4" fill="#000"/>
<rect x="401" y="328" width="1" height="3" fill="#000"/>
<rect x="401" y="489" width="1" height="4" fill="#000"/>
<rect x="401" y="494" width="1" height="3" fill="#000"/>
<rect x="401" y="529" width="1" height="3" fill="#000"/>
<rect x="412" y="163" width="1" height="3" fill="#000"/>
<rect x="412" y="323" width="1" height="4" fill="#000"/>
<rect x="412" y="328" width="1" height="3" fill="#000"/>
<rect x="412" y="489" width="1" height="4" fill="#000"/>
<rect x="412" y="494" width="1" height="3" fill="#000"/>
<rect x="412" y="529" width="1" height="3" fill="#000"/>
<rect x="422" y="163" width="1" height="3" fill="#000"/>
<rect x="422" y="323" width="1" height="4" fill="#000"/>
<rect x="422" y="328" width="1" height="3" fill="#000"/>
<rect x="422" y="489" width="1" height="4" fill="#000"/>
<rect x="422" y="494" width="1" height="3" fill="#000"/>
<rect x="422" y="529" width="1" height="3" fill="#000"/>
<rect x="432" y="163" width="1" height="3" fill="#000"/>
<rect x="432" y="323" width="1" height="4" fill="#000"/>
<rect x="432" y="328" width="1" height="3" fill="#000"/>
<rect x="432" y="489" width="1" height="4" fill="#000"/>
<rect x="432" y="494" width="1" height="3" fill="#000"/>
<rect x="432" y="529" width="1" height="3" fill="#000"/>
<rect x="443" y="163" width="1" height="3" fill="#000"/>
<rect x="443" y="323" width="1" height="4" fill="#000"/>
<rect x="443" y="328" width="1" height="3" fill="#000"/>
<rect x="443" y="489" width="1" height="4" fill="#000"/>
<rect x="443" y="494" width="1" height="3" fill="#000"/>
<rect x="443" y="529" width="1" height="3" fill="#000"/>
<rect x="453" y="158" width="1" height="8" fill="#000"/>
<rect x="453" y="323" width="1" height="8" fill="#000"/>
<rect x="453" y="489" width="1" height="10" fill="#000"/>
<rect x="453" y="529" width="1" height="11" fill="#000"/>
<rect x="464" y="163" width="1" height="3" fill="#000"/>
<rect x="464" y="323" width="1" height="4" fill="#000"/>
<rect x="464" y="328" width="1" height="3" fill="#000"/>
<rect x="464" y="489" width="1" height="4" fill="#000"/>
<rect x="464" y="494" width="1" height="3" fill="#000"/>
<rect x="464" y="529" width="1" height="3" fill="#000"/>
<rect x="474" y="163" width="1" height="3" fill="#000"/>
<rect x="474" y="323" width="1" height="4" fill="#000"/>
<rect x="474" y="328" width="1" height="3" fill="#000"/>
<rect x="474" y="489" width="1" height="4" fill="#000"/>
<rect x="474" y="494" width="1" height="3" fill="#000"/>
<rect x="474" y="529" width="1" height="3" fill="#000"/>
<rect x="484" y="163" width="1" height="3" fill="#000"/>
<rect x="484" y="323" width="1" height="4" fill="#000"/>
<rect x="484" y="328" width="1" height="3" fill="#000"/>
<rect x="484" y="489" width="1" height="4" fill="#000"/>
<rect x="484" y="494" width="1" height="3" fill="#000"/>
<rect x="484" y="529" width="1" height="3" fill="#000"/>
<rect x="495" y="163" width="1" height="3" fill="#000"/>
<rect x="495" y="323" width="1" height="4" fill="#000"/>
<rect x="495" y="328" width="1" height="3" fill="#000"/>
<rect x="495" y="489" width="1" height="4" fill="#000"/>
<rect x="495" y="494" width="1" height="3" fill="#000"/>
<rect x="495" y="529" width="1" height="3" fill="#000"/>
<rect x="505" y="163" width="1" height="3" fill="#000"/>
<rect x="505" y="323" width="1" height="4" fill="#000"/>
<rect x="505" y="328" width="1" height="3" fill="#000"/>
<rect x="505" y="489" width="1" height="4" fill="#000"/>
<rect x="505" y="494" width="1" height="3" fill="#000"/>
<rect x="505" y="529" width="1" height="3" fill="#000"/>
<rect x="516" y="158" width="1" height="8" fill="#000"/>
<rect x="516" y="323" width="1" height="8" fill="#000"/>
<rect x="516" y="489" width="1" height="10" fill="#000"/>
<rect x="516" y="529" width="1" height="11" fill="#000"/>
<rect x="526" y="163" width="1" height="3" fill="#000"/>
<rect x="526" y="323" width="1" height="4" fill="#000"/>
<rect x="526" y="328" width="1" height="3" fill="#000"/>
<rect x="526" y="489" width="1" height="4" fill="#000"/>
<rect x="526" y="494" width="1" height="3" fill="#000"/>
<rect x="526" y="529" width="1" height="3" fill="#000"/>
<rect x="536" y="163" width="1" height="3" fill="#000"/>
<rect x="536" y="323" width="1" height="4" fill="#000"/>
<rect x="536" y="328" width="1" height="3" fill="#000"/>
<rect x="536" y="489" width="1" height="4" fill="#000"/>
<rect x="536" y="494" width="1" height="3" fill="#000"/>
<rect x="536" y="529" width="1" height="3" fill="#000"/>
<rect x="547" y="163" width="1" height="3" fill="#000"/>
<rect x="547" y="323" width="1" height="4" fill="#000"/>
<rect x="547" y="328" width="1" height="3" fill="#000"/>
<rect x="547" y="489" width="1" height="4" fill="#000"/>
<rect x="547" y="494" width="1" height="3" fill="#000"/>
<rect x="547" y="529" width="1" height="3" fill="#000"/>
<rect x="557" y="163" width="1" height="3" fill="#000"/>
<rect x="557" y="323" width="1" height="4" fill="#000"/>
<rect x="557" y="328" width="1" height="3" fill="#000"/>
<rect x="557" y="489" width="1" height="4" fill="#000"/>
<rect x="557" y="494" width="1" height="3" fill="#000"/>
<rect x="557" y="529" width="1" height="3" fill="#000"/>
<rect x="568" y="163" width="1" height="3" fill="#000"/>
<rect x="568" y="323" width="1" height="4" fill="#000"/>
<rect x="568" y="328" width="1" height="3" fill="#000"/>
<rect x="568" y="489" width="1" height="4" fill="#000"/>
<rect x="568" y="494" width="1" height="3" fill="#000"/>
<rect x="568" y="529" width="1" height="3" fill="#000"/>
<rect x="578" y="158" width="1" height="8" fill="#000"/>
<rect x="578" y="323" width="1" height="8" fill="#000"/>
<rect x="578" y="489" width="1" height="10" fill="#000"/>
<rect x="578" y="529" width="1" height="11" fill="#000"/>
<rect x="588" y="163" width="1" height="3" fill="#000"/>
<rect x="588" y="323" width="1" height="4" fill="#000"/>
<rect x="588" y="328" width="1" height="3" fill="#000"/>
<rect x="588" y="489" width="1" height="4" fill="#000"/>
<rect x="588" y="494" width="1" height="3" fill="#000"/>
<rect x="588" y="529" width="1" height="3" fill="#000"/>
<rect x="599" y="163" width="1" height="3" fill="#000"/>
<rect x="599" y="323" width="1" height="4" fill="#000"/>
<rect x="599" y="328" width="1" height="3" fill="#000"/>
<rect x="599" y="489" width="1" height="4" fill="#000"/>
<rect x="599" y="494" width="1" height="3" fill="#000"/>
<rect x="599" y="529" width="1" height="3" fill="#000"/>
<rect x="609" y="163" width="1" height="3" fill="#000"/>
<rect x="609" y="323" width="1" height="4" fill="#000"/>
<rect x="609" y="328" width="1" height="3" fill="#000"/>
<rect x="609" y="489" width="1" height="4" fill="#000"/>
<rect x="609" y="494" width="1" height="3" fill="#000"/>
<rect x="609" y="529" width="1" height="3" fill="#000"/>
<rect x="620" y="163" width="1" height="3" fill="#000"/>
<rect x="620" y="323" width="1" height="4" fill="#000"/>
<rect x="620" y="328" width="1" height="3" fill="#000"/>
<rect x="620" y="489" width="1" height="4" fill="#000"/>
<rect x="620" y="494" width="1" height="3" fill="#000"/>
<rect x="620" y="529" width="1" height="3" fill="#000"/>
<rect x="630" y="163" width="1" height="3" fill="#000"/>
<rect x="630" y="323" width="1" height="4" fill="#000"/>
<rect x="630" y="328" width="1" height="3" fill="#000"/>
<rect x="630" y="489" width="1" height="4" fill="#000"/>
<rect x="630" y="494" width="1" height="3" fill="#000"/>
<rect x="630" y="529" width="1" height="3" fill="#000"/>
<rect x="640" y="158" width="1" height="8" fill="#000"/>
<rect x="640" y="323" width="1" height="8" fill="#000"/>
<rect x="640" y="489" width="1" height="10" fill="#000"/>
<rect x="640" y="529" width="1" height="11" fill="#000"/>
<rect x="651" y="163" width="1" height="3" fill="#000"/>
<rect x="651" y="323" width="1" height="4" fill="#000"/>
<rect x="651" y="328" width="1" height="3" fill="#000"/>
<rect x="651" y="489" width="1" height="4" fill="#000"/>
<rect x="651" y="494" width="1" height="3" fill="#000"/>
<rect x="651" y="529" width="1" height="3" fill="#000"/>
<rect x="661" y="163" width="1" height="3" fill="#000"/>
<rect x="661" y="323" width="1" height="4" fill="#000"/>
<rect x="661" y="328" width="1" height="3" fill="#000"/>
<rect x="661" y="489" width="1" height="4" fill="#000"/>
<rect x="661" y="494" width="1" height="3" fill="#000"/>
<rect x="661" y="529" width="1" height="3" fill="#000"/>
<rect x="672" y="163" width="1" height="3" fill="#000"/>
<rect x="672" y="323" width="1" height="4" fill="#000"/>
<rect x="672" y="328" width="1" height="3" fill="#000"/>
<rect x="672" y="489" width="1" height="4" fill="#000"/>
<rect x="672" y="494" width="1" height="3" fill="#000"/>
<rect x="672" y="529" width="1" height="3" fill="#000"/>
<rect x="682" y="163" width="1" height="3" fill="#000"/>
<rect x="682" y="323" width="1" height="4" fill="#000"/>
<rect x="682" y="328" width="1" height="3" fill="#000"/>
<rect x="682" y="489" width="1" height="4" fill="#000"/>
<rect x="682" y="494" width="1" height="3" fill="#000"/>
<rect x="682" y="529" width="1" height="3" fill="#000"/>
<rect x="692" y="163" width="1" height="3" fill="#000"/>
<rect x="692" y="323" width="1" height="4" fill="#000"/>
<rect x="692" y="328" width="1" height="3" fill="#000"/>
<rect x="692" y="489" width="1" height="4" fill="#000"/>
<rect x="692" y="494" width="1" height="3" fill="#000"/>
<rect x="692" y="529" width="1" height="3" fill="#000"/>
<rect x="79" y="529" width="1" height="11" fill="#000"/>
<rect x="703" y="529" width="1" height="11" fill="#000"/>
<rect x="77" y="134" width="2" height="1" fill="#000"/>
<rect x="704" y="134" width="2" height="1" fill="#000"/>
<rect x="77" y="141" width="2" height="1" fill="#000"/>
<rect x="704" y="141" width="2" height="1" fill="#000"/>
<rect x="77" y="149" width="2" height="1" fill="#000"/>
<rect x="704" y="149" width="2" height="1" fill="#000"/>
<rect x="77" y="505" width="2" height="1" fill="#000"/>
<rect x="704" y="505" width="2" height="1" fill="#000"/>
<rect x="77" y="512" width="2" height="1" fill="#000"/>
<rect x="704" y="512" width="2" height="1" fill="#000"/>
<rect x="77" y="520" width="2" height="1" fill="#000"/>
<rect x="704" y="520" width="2" height="1" fill="#000"/>
<rect x="77" y="174" width="2" height="1" fill="#000"/>
<rect x="704" y="174" width="2" height="1" fill="#000"/>
<rect x="77" y="182" width="2" height="1" fill="#000"/>
<rect x="704" y="182" width="2" height="1" fill="#000"/>
<rect x="77" y="190" width="2" height="1" fill="#000"/>
<rect x="704" y="190" width="2" height="1" fill="#000"/>
<rect x="74" y="198" width="5" height="1" fill="#000"/>
<rect x="704" y="198" width="5" height="1" fill="#000"/>
<rect x="77" y="205" width="2" height="1" fill="#000"/>
<rect x="704" y="205" width="2" height="1" fill="#000"/>
<rect x="77" y="213" width="2" height="1" fill="#000"/>
<rect x="704" y="213" width="2" height="1" fill="#000"/>
<rect x="77" y="221" width="2" height="1" fill="#000"/>
<rect x="704" y="221" width="2" height="1" fill="#000"/>
<rect x="74" y="229" width="5" height="1" fill="#000"/>
<rect x="704" y="229" width="5" height="1" fill="#000"/>
<rect x="77" y="237" width="2" height="1" fill="#000"/>
<rect x="704" y="237" width="2" height="1" fill="#000"/>
<rect x="77" y="244" width="2" height="1" fill="#000"/>
<rect x="704" y="244" width="2" height="1" fill="#000"/>
<rect x="77" y="252" width="2" height="1" fill="#000"/>
<rect x="704" y="252" width="2" height="1" fill="#000"/>
<rect x="74" y="260" width="5" height="1" fill="#000"/>
<rect x="704" y="260" width="5" height="1" fill="#000"/>
<rect x="77" y="268" width="2" height="1" fill="#000"/>
<rect x="704" y="268" width="2" height="1" fill="#000"/>
<rect x="77" y="276" width="2" height="1" fill="#000"/>
<rect x="704" y="276" width="2" height="1" fill="#000"/>
<rect x="77" y="283" width="2" height="1" fill="#000"/>
<rect x="704" y="283" width="2" height="1" fill="#000"/>
<rect x="74" y="291" width="5" height="1" fill="#000"/>
<rect x="704" y="291" width="5" height="1" fill="#000"/>
<rect x="77" y="299" width="2" height="1" fill="#000"/>
<rect x="704" y="299" width="2" height="1" fill="#000"/>
<rect x="77" y="307" width="2" height="1" fill="#000"/>
<rect x="704" y="307" width="2" height="1" fill="#000"/>
<rect x="77" y="315" width="2" height="1" fill="#000"/>
<rect x="704" y="315" width="2" height="1" fill="#000"/>
<rect x="77" y="339" width="2" height="1" fill="#000"/>
<rect x="704" y="339" width="2" height="1" fill="#000"/>
<rect x="77" y="347" width="2" height="1" fill="#000"/>
<rect x="704" y="347" width="2" height="1" fill="#000"/>
<rect x="77" y="355" width="2" height="1" fill="#000"/>
<rect x="704" y="355" width="2" height="1" fill="#000"/>
<rect x="74" y="363" width="5" height="1" fill="#000"/>
<rect x="704" y="363" width="5" height="1" fill="#000"/>
<rect x="77" y="371" width="2" height="1" fill="#000"/>
<rect x="704" y="371" width="2" height="1" fill="#000"/>
<rect x="77" y="378" width="2" height="1" fill="#000"/>
<rect x="704" y="378" width="2" height="1" fill="#000"/>
<rect x="77" y="386" width="2" height="1" fill="#000"/>
<rect x="704" y="386" width="2" height="1" fill="#000"/>
<rect x="74" y="394" width="5" height="1" fill="#000"/>
<rect x="704" y="394" width="5" height="1" fill="#000"/>
<rect x="77" y="402" width="2" height="1" fill="#000"/>
<rect x="704" y="402" width="2" height="1" fill="#000"/>
<rect x="77" y="410" width="2" height="1" fill="#000"/>
<rect x="704" y="410" width="2" height="1" fill="#000"/>
<rect x="77" y="418" width="2" height="1" fill="#000"/>
<rect x="704" y="418" width="2" height="1" fill="#000"/>
<rect x="74" y="426" width="5" height="1" fill="#000"/>
<rect x="704" y="426" width="5" height="1" fill="#000"/>
<rect x="77" y="433" width="2" height="1" fill="#000"/>
<rect x="704" y="433" width="2" height="1" fill="#000"/>
<rect x="77" y="441" width="2" height="1" fill="#000"/>
<rect x="704" y="441" width="2" height="1" fill="#000"/>
<rect x="77" y="449" width="2" height="1" fill="#000"/>
<rect x="704" y="449" width="2" height="1" fill="#000"/>
<rect x="74" y="457" width="5" height="1" fill="#000"/>
<rect x="704" y="457" width="5" height="1" fill="#000"/>
<rect x="77" y="465" width="2" height="1" fill="#000"/>
<rect x="704" y="465" width="2" height="1" fill="#000"/>
<rect x="77" y="473" width="2" height="1" fill="#000"/>
<rect x="704" y="473" width="2" height="1" fill="#000"/>
<rect x="77" y="480" width="2" height="1" fill="#000"/>
<rect x="704" y="480" width="2" height="1" fill="#000"/>
</g>
<defs><linearGradient id="cbg" x1="0" y1="0" x2="0" y2="1">
<stop offset="0.000" stop-color="rgb(255,242,245)"/>
<stop offset="0.025" stop-color="rgb(255,224,226)"/>
<stop offset="0.050" stop-color="rgb(255,207,208)"/>
<stop offset="0.075" stop-color="rgb(255,190,190)"/>
<stop offset="0.100" stop-color="rgb(255,160,160)"/>
<stop offset="0.125" stop-color="rgb(255,130,130)"/>
<stop offset="0.150" stop-color="rgb(255,100,100)"/>
<stop offset="0.175" stop-color="rgb(248,66,66)"/>
<stop offset="0.200" stop-color="rgb(241,33,33)"/>
<stop offset="0.225" stop-color="rgb(235,0,0)"/>
<stop offset="0.250" stop-color="rgb(245,15,0)"/>
<stop offset="0.275" stop-color="rgb(255,30,0)"/>
<stop offset="0.300" stop-color="rgb(255,75,0)"/>
<stop offset="0.325" stop-color="rgb(255,120,0)"/>
<stop offset="0.350" stop-color="rgb(255,166,0)"/>
<stop offset="0.375" stop-color="rgb(255,211,0)"/>
<stop offset="0.400" stop-color="rgb(255,255,0)"/>
<stop offset="0.425" stop-color="rgb(222,252,0)"/>
<stop offset="0.450" stop-color="rgb(190,250,0)"/>
<stop offset="0.475" stop-color="rgb(144,250,0)"/>
<stop offset="0.500" stop-color="rgb(100,250,0)"/>
<stop offset="0.525" stop-color="rgb(65,242,0)"/>
<stop offset="0.550" stop-color="rgb(30,235,0)"/>
<stop offset="0.575" stop-color="rgb(15,230,34)"/>
<stop offset="0.600" stop-color="rgb(0,225,70)"/>
<stop offset="0.625" stop-color="rgb(0,227,110)"/>
<stop offset="0.650" stop-color="rgb(0,230,150)"/>
<stop offset="0.675" stop-color="rgb(0,235,195)"/>
<stop offset="0.700" stop-color="rgb(0,240,240)"/>
<stop offset="0.725" stop-color="rgb(0,200,255)"/>
<stop offset="0.750" stop-color="rgb(0,155,255)"/>
<stop offset="0.775" stop-color="rgb(0,110,255)"/>
<stop offset="0.800" stop-color="rgb(0,64,255)"/>
<stop offset="0.825" stop-color="rgb(0,20,255)"/>
<stop offset="0.850" stop-color="rgb(0,9,227)"/>
<stop offset="0.875" stop-color="rgb(0,0,200)"/>
<stop offset="0.900" stop-color="rgb(0,0,164)"/>
<stop offset="0.925" stop-color="rgb(0,0,127)"/>
<stop offset="0.950" stop-color="rgb(2,0,95)"/>
<stop offset="0.975" stop-color="rgb(9,0,64)"/>
<stop offset="1.000" stop-color="rgb(15,0,35)"/>
</linearGradient></defs>
<rect x="719" y="201" width="9" height="110" fill="url(#cbg)"/>
<g shape-rendering="crispEdges">
<rect x="728" y="201" width="1" height="110" fill="#000"/>
<rect x="729" y="201" width="4" height="1" fill="#000"/>
<rect x="729" y="228" width="4" height="1" fill="#000"/>
<rect x="729" y="256" width="4" height="1" fill="#000"/>
<rect x="729" y="283" width="4" height="1" fill="#000"/>
<rect x="729" y="310" width="4" height="1" fill="#000"/>
</g>
<text x="734.5" y="203.6" font-family="Liberation Sans" font-weight="bold" font-size="7" fill="#000">-3</text>
<text x="734.5" y="230.8" font-family="Liberation Sans" font-weight="bold" font-size="7" fill="#000">-4</text>
<text x="734.5" y="258.1" font-family="Liberation Sans" font-weight="bold" font-size="7" fill="#000">-5</text>
<text x="734.5" y="285.4" font-family="Liberation Sans" font-weight="bold" font-size="7" fill="#000">-6</text>
<text x="734.5" y="312.6" font-family="Liberation Sans" font-weight="bold" font-size="7" fill="#000">-7</text>
<text transform="translate(750.3,260.5) rotate(-90)" text-anchor="middle" font-family="Liberation Sans" font-weight="bold" font-size="6.8" fill="#000" stroke="#000" stroke-width="0.15" textLength="52" lengthAdjust="spacingAndGlyphs">log(PSD)(V<tspan font-size="4.5" dy="-2.5">2</tspan><tspan dy="2.5">/Hz)</tspan></text>
<rect x="719" y="366" width="9" height="110" fill="url(#cbg)"/>
<g shape-rendering="crispEdges">
<rect x="728" y="366" width="1" height="110" fill="#000"/>
<rect x="729" y="366" width="4" height="1" fill="#000"/>
<rect x="729" y="393" width="4" height="1" fill="#000"/>
<rect x="729" y="420" width="4" height="1" fill="#000"/>
<rect x="729" y="448" width="4" height="1" fill="#000"/>
<rect x="729" y="475" width="4" height="1" fill="#000"/>
</g>
<text x="734.5" y="368.6" font-family="Liberation Sans" font-weight="bold" font-size="7" fill="#000">-3</text>
<text x="734.5" y="395.9" font-family="Liberation Sans" font-weight="bold" font-size="7" fill="#000">-4</text>
<text x="734.5" y="423.1" font-family="Liberation Sans" font-weight="bold" font-size="7" fill="#000">-5</text>
<text x="734.5" y="450.4" font-family="Liberation Sans" font-weight="bold" font-size="7" fill="#000">-6</text>
<text x="734.5" y="477.6" font-family="Liberation Sans" font-weight="bold" font-size="7" fill="#000">-7</text>
<text transform="translate(750.3,425.5) rotate(-90)" text-anchor="middle" font-family="Liberation Sans" font-weight="bold" font-size="6.8" fill="#000" stroke="#000" stroke-width="0.15" textLength="52" lengthAdjust="spacingAndGlyphs">log(PSD)(V<tspan font-size="4.5" dy="-2.5">2</tspan><tspan dy="2.5">/Hz)</tspan></text>
<rect x="80" y="510" width="613" height="3" fill="#000"/>
<text x="79.5" y="122.8" font-family="Liberation Serif" font-weight="bold" fill="#000" stroke="#000" stroke-width="0.08" font-size="12" textLength="68.4" lengthAdjust="spacingAndGlyphs">VLF Spectra</text>
<text x="251.3" y="122.6" font-family="Liberation Serif" font-weight="bold" fill="#000" stroke="#000" stroke-width="0.08" font-size="9" textLength="12.2" lengthAdjust="spacingAndGlyphs">Jan.</text>
<text x="267.0" y="122.6" font-family="Liberation Serif" font-weight="bold" fill="#000" stroke="#000" stroke-width="0.08" font-size="9" textLength="16.4" lengthAdjust="spacingAndGlyphs">28,</text>
<text x="286.2" y="122.6" font-family="Liberation Serif" font-weight="bold" fill="#000" stroke="#000" stroke-width="0.08" font-size="9" textLength="21.6" lengthAdjust="spacingAndGlyphs">2026</text>
<text x="344.0" y="122.6" font-family="Liberation Serif" font-weight="bold" fill="#000" stroke="#000" stroke-width="0.08" font-size="9" textLength="28.0" lengthAdjust="spacingAndGlyphs">station</text>
<text x="379.2" y="122.6" font-family="Liberation Serif" font-weight="bold" fill="#000" stroke="#000" stroke-width="0.08" font-size="9" textLength="17.8" lengthAdjust="spacingAndGlyphs">OUI</text>
<text x="438.2" y="122.6" font-family="Liberation Serif" font-weight="bold" fill="#000" stroke="#000" stroke-width="0.08" font-size="9" textLength="17.8" lengthAdjust="spacingAndGlyphs">start</text>
<text x="461.0" y="122.6" font-family="Liberation Serif" font-weight="bold" fill="#000" stroke="#000" stroke-width="0.08" font-size="9" textLength="13.0" lengthAdjust="spacingAndGlyphs">UT</text>
<text x="493.6" y="122.6" font-family="Liberation Serif" font-weight="bold" fill="#000" stroke="#000" stroke-width="0.08" font-size="9" textLength="11.6" lengthAdjust="spacingAndGlyphs">19:</text>
<text x="507.9" y="122.6" font-family="Liberation Serif" font-weight="bold" fill="#000" stroke="#000" stroke-width="0.08" font-size="9" textLength="13.2" lengthAdjust="spacingAndGlyphs">40:</text>
<text x="523.8" y="122.6" font-family="Liberation Serif" font-weight="bold" fill="#000" stroke="#000" stroke-width="0.08" font-size="9" textLength="5.3" lengthAdjust="spacingAndGlyphs">0</text>
<rect x="372" y="119" width="5" height="1.1" fill="#000"/><rect x="372" y="121" width="5" height="1.1" fill="#000"/>
<rect x="479" y="119" width="5" height="1.1" fill="#000"/><rect x="479" y="121" width="5" height="1.1" fill="#000"/>
<text x="71.5" y="130.5" font-family="Liberation Serif" font-weight="bold" fill="#000" stroke="#000" stroke-width="0.08" font-size="9" text-anchor="end">10</text>
<text x="56.3" y="161.2" font-family="Liberation Serif" font-weight="bold" fill="#000" stroke="#000" stroke-width="0.08" font-size="9" textLength="15" lengthAdjust="spacing">-10</text>
<text x="71.5" y="168.9" font-family="Liberation Serif" font-weight="bold" fill="#000" stroke="#000" stroke-width="0.08" font-size="9" text-anchor="end">10</text>
<text x="71.5" y="200.1" font-family="Liberation Serif" font-weight="bold" fill="#000" stroke="#000" stroke-width="0.08" font-size="9" text-anchor="end">8</text>
<text x="71.5" y="231.3" font-family="Liberation Serif" font-weight="bold" fill="#000" stroke="#000" stroke-width="0.08" font-size="9" text-anchor="end">6</text>
<text x="71.5" y="262.50000000000006" font-family="Liberation Serif" font-weight="bold" fill="#000" stroke="#000" stroke-width="0.08" font-size="9" text-anchor="end">4</text>
<text x="71.5" y="293.70000000000005" font-family="Liberation Serif" font-weight="bold" fill="#000" stroke="#000" stroke-width="0.08" font-size="9" text-anchor="end">2</text>
<text x="71.5" y="324.90000000000003" font-family="Liberation Serif" font-weight="bold" fill="#000" stroke="#000" stroke-width="0.08" font-size="9" text-anchor="end">0</text>
<text x="71.5" y="333.90000000000003" font-family="Liberation Serif" font-weight="bold" fill="#000" stroke="#000" stroke-width="0.08" font-size="9" text-anchor="end">10</text>
<text x="71.5" y="365.3" font-family="Liberation Serif" font-weight="bold" fill="#000" stroke="#000" stroke-width="0.08" font-size="9" text-anchor="end">8</text>
<text x="71.5" y="396.70000000000005" font-family="Liberation Serif" font-weight="bold" fill="#000" stroke="#000" stroke-width="0.08" font-size="9" text-anchor="end">6</text>
<text x="71.5" y="428.1" font-family="Liberation Serif" font-weight="bold" fill="#000" stroke="#000" stroke-width="0.08" font-size="9" text-anchor="end">4</text>
<text x="71.5" y="459.50000000000006" font-family="Liberation Serif" font-weight="bold" fill="#000" stroke="#000" stroke-width="0.08" font-size="9" text-anchor="end">2</text>
<text x="71.5" y="490.90000000000003" font-family="Liberation Serif" font-weight="bold" fill="#000" stroke="#000" stroke-width="0.08" font-size="9" text-anchor="end">0</text>
<text x="71.5" y="501.5" font-family="Liberation Serif" font-weight="bold" fill="#000" stroke="#000" stroke-width="0.08" font-size="9" text-anchor="end">5</text>
<text x="70.2" y="532" font-family="Liberation Serif" font-weight="bold" fill="#000" stroke="#000" stroke-width="0.08" font-size="9" text-anchor="end">-5</text>
<text x="79.5" y="549.9" font-family="Liberation Serif" font-weight="bold" fill="#000" stroke="#000" stroke-width="0.08" font-size="9.6" text-anchor="middle">0</text>
<text x="141.5" y="549.9" font-family="Liberation Serif" font-weight="bold" fill="#000" stroke="#000" stroke-width="0.08" font-size="9.6" text-anchor="middle">1</text>
<text x="204.5" y="549.9" font-family="Liberation Serif" font-weight="bold" fill="#000" stroke="#000" stroke-width="0.08" font-size="9.6" text-anchor="middle">2</text>
<text x="266.5" y="549.9" font-family="Liberation Serif" font-weight="bold" fill="#000" stroke="#000" stroke-width="0.08" font-size="9.6" text-anchor="middle">3</text>
<text x="328.5" y="549.9" font-family="Liberation Serif" font-weight="bold" fill="#000" stroke="#000" stroke-width="0.08" font-size="9.6" text-anchor="middle">4</text>
<text x="391.5" y="549.9" font-family="Liberation Serif" font-weight="bold" fill="#000" stroke="#000" stroke-width="0.08" font-size="9.6" text-anchor="middle">5</text>
<text x="453.5" y="549.9" font-family="Liberation Serif" font-weight="bold" fill="#000" stroke="#000" stroke-width="0.08" font-size="9.6" text-anchor="middle">6</text>
<text x="516.5" y="549.9" font-family="Liberation Serif" font-weight="bold" fill="#000" stroke="#000" stroke-width="0.08" font-size="9.6" text-anchor="middle">7</text>
<text x="578.5" y="549.9" font-family="Liberation Serif" font-weight="bold" fill="#000" stroke="#000" stroke-width="0.08" font-size="9.6" text-anchor="middle">8</text>
<text x="640.5" y="549.9" font-family="Liberation Serif" font-weight="bold" fill="#000" stroke="#000" stroke-width="0.08" font-size="9.6" text-anchor="middle">9</text>
<text x="703.5" y="549.9" font-family="Liberation Serif" font-weight="bold" fill="#000" stroke="#000" stroke-width="0.08" font-size="9.6" text-anchor="middle">10</text>
<text x="400.2" y="557" font-family="Liberation Serif" font-weight="bold" fill="#000" stroke="#000" stroke-width="0.08" font-size="9" text-anchor="middle" textLength="47.7" lengthAdjust="spacingAndGlyphs" xml:space="preserve">Time  (min)</text>
<text transform="translate(49.8,142) rotate(-90)" text-anchor="middle" font-family="Liberation Serif" font-weight="bold" fill="#000" stroke="#000" stroke-width="0.08" font-size="9" textLength="31" lengthAdjust="spacingAndGlyphs" xml:space="preserve">ch.1(V)</text>
<text transform="translate(49.5,243) rotate(-90)" text-anchor="middle" font-family="Liberation Serif" font-weight="bold" fill="#000" stroke="#000" stroke-width="0.08" font-size="9" textLength="13.5" lengthAdjust="spacingAndGlyphs" xml:space="preserve">ch.1</text>
<text transform="translate(57.3,231) rotate(-90)" text-anchor="middle" font-family="Liberation Serif" font-weight="bold" fill="#000" stroke="#000" stroke-width="0.08" font-size="9" textLength="67" lengthAdjust="spacingAndGlyphs" xml:space="preserve">Frequency  (kHz)</text>
<text transform="translate(49.5,408) rotate(-90)" text-anchor="middle" font-family="Liberation Serif" font-weight="bold" fill="#000" stroke="#000" stroke-width="0.08" font-size="9" textLength="13.5" lengthAdjust="spacingAndGlyphs" xml:space="preserve">ch.2</text>
<text transform="translate(57.3,396) rotate(-90)" text-anchor="middle" font-family="Liberation Serif" font-weight="bold" fill="#000" stroke="#000" stroke-width="0.08" font-size="9" textLength="67" lengthAdjust="spacingAndGlyphs" xml:space="preserve">Frequency  (kHz)</text>
<text transform="translate(49.8,513.3) rotate(-90)" text-anchor="middle" font-family="Liberation Serif" font-weight="bold" fill="#000" stroke="#000" stroke-width="0.08" font-size="9" textLength="31" lengthAdjust="spacingAndGlyphs" xml:space="preserve">ch.3(V)</text>
<path d="M80.5 138.8V144.5M81.5 138.5V145.3M82.5 139.2V144.1M83.5 139.6V144.8M84.5 139.7V145.5M85.5 139.4V143.6M86.5 139.0V145.5M87.5 138.8V144.9M88.5 139.2V145.4M89.5 140.3V145.1M90.5 139.5V145.8M91.5 138.6V145.7M92.5 138.7V156.0M93.5 139.5V144.6M94.5 139.4V152.0M95.5 138.1V144.2M96.5 139.2V146.1M97.5 138.6V145.1M98.5 138.9V144.3M99.5 139.0V144.2M100.5 138.9V143.4M101.5 139.6V145.8M102.5 139.3V144.4M103.5 138.9V145.0M104.5 139.5V145.2M105.5 139.8V144.9M106.5 135.8V145.4M107.5 139.1V144.7M108.5 138.7V144.4M109.5 138.7V144.1M110.5 138.5V144.2M111.5 139.3V145.0M112.5 139.3V145.8M113.5 139.1V145.3M114.5 138.7V144.6M115.5 138.8V143.3M116.5 137.4V144.9M117.5 138.5V144.5M118.5 139.4V143.0M119.5 138.6V145.5M120.5 140.0V145.6M121.5 139.3V145.1M122.5 126.0V144.7M123.5 139.5V144.7M124.5 138.6V145.8M125.5 139.3V144.7M126.5 139.3V144.6M127.5 138.1V145.2M128.5 139.2V144.8M129.5 139.1V146.1M130.5 139.9V145.1M131.5 138.6V144.3M132.5 139.7V147.0M133.5 138.6V145.7M134.5 137.8V144.7M135.5 138.8V144.8M136.5 140.2V144.5M137.5 139.6V144.5M138.5 140.8V145.1M139.5 139.7V145.5M140.5 139.8V145.6M141.5 139.8V144.6M142.5 138.9V144.2M143.5 138.0V144.4M144.5 139.7V144.7M145.5 139.1V144.5M146.5 139.4V144.6M147.5 139.3V144.0M148.5 139.7V144.6M149.5 139.1V143.5M150.5 139.2V144.5M151.5 139.4V144.2M152.5 139.4V145.0M153.5 138.8V144.3M154.5 139.8V144.1M155.5 137.1V145.8M156.5 138.6V144.6M157.5 138.5V145.3M158.5 139.9V144.8M159.5 139.1V144.7M160.5 138.7V144.5M161.5 138.6V145.4M162.5 139.6V144.2M163.5 138.7V144.3M164.5 138.5V145.2M165.5 139.7V144.9M166.5 137.6V144.6M167.5 139.1V145.7M168.5 139.3V145.7M169.5 139.0V142.9M170.5 138.9V144.0M171.5 140.1V146.4M172.5 139.0V143.6M173.5 138.5V144.9M174.5 137.1V144.4M175.5 138.4V144.1M176.5 139.1V145.5M177.5 139.5V143.8M178.5 139.0V145.1M179.5 139.0V145.3M180.5 138.9V143.7M181.5 138.6V144.2M182.5 139.4V145.3M183.5 139.1V144.8M184.5 139.4V144.4M185.5 140.4V145.5M186.5 139.6V144.4M187.5 138.1V144.4M188.5 140.3V144.7M189.5 138.1V144.4M190.5 138.1V145.1M191.5 139.8V143.6M192.5 139.3V144.6M193.5 138.9V144.1M194.5 138.9V145.3M195.5 138.7V146.2M196.5 139.2V144.1M197.5 139.2V143.9M198.5 139.1V144.6M199.5 139.6V144.9M200.5 140.4V144.3M201.5 138.6V144.9M202.5 139.5V144.3M203.5 138.8V145.7M204.5 138.7V144.7M205.5 137.8V144.3M206.5 139.3V143.9M207.5 139.3V144.3M208.5 139.0V146.1M209.5 139.3V144.9M210.5 139.7V145.5M211.5 139.2V145.4M212.5 139.8V144.9M213.5 139.6V144.2M214.5 139.6V144.5M215.5 140.4V144.6M216.5 139.7V143.6M217.5 139.4V145.2M218.5 139.7V145.8M219.5 138.7V144.5M220.5 139.1V145.1M221.5 133.0V144.9M222.5 139.7V146.2M223.5 140.2V143.9M224.5 139.1V144.8M225.5 138.4V145.8M226.5 140.0V144.0M227.5 140.0V144.5M228.5 138.7V144.5M229.5 140.1V144.8M230.5 139.3V143.6M231.5 138.2V144.8M232.5 139.0V145.0M233.5 138.1V146.1M234.5 140.3V144.6M235.5 138.8V144.3M236.5 139.0V144.7M237.5 139.1V143.0M238.5 139.1V144.8M239.5 138.7V145.5M240.5 139.4V144.6M241.5 139.9V145.1M242.5 139.7V144.5M243.5 138.7V144.7M244.5 138.6V144.3M245.5 138.2V145.5M246.5 138.9V145.1M247.5 138.0V144.3M248.5 138.3V145.8M249.5 140.5V144.6M250.5 139.8V144.4M251.5 138.7V146.0M252.5 139.8V145.5M253.5 139.8V145.2M254.5 137.9V144.3M255.5 137.9V143.5M256.5 138.2V144.7M257.5 139.7V145.5M258.5 139.2V144.3M259.5 139.2V144.8M260.5 139.3V145.1M261.5 140.4V144.9M262.5 140.6V144.7M263.5 138.7V145.1M264.5 138.7V144.7M265.5 140.9V144.3M266.5 138.7V145.3M267.5 139.0V145.1M268.5 139.0V144.8M269.5 139.6V145.1M270.5 139.9V143.0M271.5 139.5V144.8M272.5 138.0V144.6M273.5 139.6V143.4M274.5 139.4V145.9M275.5 140.4V145.8M276.5 139.3V157.0M277.5 138.5V144.4M278.5 138.7V144.8M279.5 140.2V144.6M280.5 139.0V143.7M281.5 138.0V145.5M282.5 139.0V145.4M283.5 139.3V145.0M284.5 140.0V146.3M285.5 138.7V144.0M286.5 139.7V144.2M287.5 139.8V144.9M288.5 138.7V144.4M289.5 139.2V144.8M290.5 140.4V144.1M291.5 140.3V146.6M292.5 139.8V144.7M293.5 139.5V145.6M294.5 140.0V144.7M295.5 139.2V144.2M296.5 139.2V144.8M297.5 138.8V145.3M298.5 139.3V144.4M299.5 139.1V143.7M300.5 140.3V144.3M301.5 139.2V145.1M302.5 140.1V145.6M303.5 138.6V145.1M304.5 139.0V145.5M305.5 138.7V144.4M306.5 138.0V144.6M307.5 139.4V149.0M308.5 138.8V146.6M309.5 137.9V146.4M310.5 138.6V146.5M311.5 139.9V145.0M312.5 139.1V146.2M313.5 138.6V145.8M314.5 139.1V144.1M315.5 139.0V145.2M316.5 139.7V144.2M317.5 139.6V145.7M318.5 139.1V143.5M319.5 138.9V144.6M320.5 139.0V144.1M321.5 140.1V145.9M322.5 139.5V143.9M323.5 138.4V145.3M324.5 139.2V145.3M325.5 138.5V145.3M326.5 131.0V145.2M327.5 139.7V146.7M328.5 126.0V144.8M329.5 138.8V144.5M330.5 138.3V145.5M331.5 139.4V145.4M332.5 139.1V144.0M333.5 139.1V144.8M334.5 139.1V144.9M335.5 139.5V144.5M336.5 139.5V144.1M337.5 139.9V144.3M338.5 139.9V143.9M339.5 140.1V145.0M340.5 139.8V149.0M341.5 139.1V143.3M342.5 139.3V144.4M343.5 139.6V145.2M344.5 139.1V143.8M345.5 139.6V146.0M346.5 139.7V145.9M347.5 138.8V143.6M348.5 137.1V144.5M349.5 140.0V143.2M350.5 139.3V145.1M351.5 139.4V144.2M352.5 138.2V144.1M353.5 139.5V143.9M354.5 139.7V143.6M355.5 139.2V145.4M356.5 139.1V144.1M357.5 138.9V144.3M358.5 139.2V144.4M359.5 139.1V143.7M360.5 137.3V146.2M361.5 139.1V143.5M362.5 139.3V145.4M363.5 139.3V144.5M364.5 138.0V144.6M365.5 137.9V144.8M366.5 139.6V145.1M367.5 139.1V143.9M368.5 139.1V146.0M369.5 139.3V144.6M370.5 138.7V157.0M371.5 139.8V144.4M372.5 138.9V145.3M373.5 138.8V144.9M374.5 138.8V145.4M375.5 138.7V145.2M376.5 139.7V143.4M377.5 138.9V144.5M378.5 138.4V145.2M379.5 139.7V144.1M380.5 138.4V143.6M381.5 140.0V143.2M382.5 139.3V155.0M383.5 138.8V144.0M384.5 137.8V144.7M385.5 138.7V144.4M386.5 139.1V145.1M387.5 139.2V145.6M388.5 139.9V143.7M389.5 139.5V145.0M390.5 137.7V144.1M391.5 138.6V144.5M392.5 132.0V144.0M393.5 136.3V144.6M394.5 138.9V145.4M395.5 138.9V145.4M396.5 138.5V144.6M397.5 139.6V143.6M398.5 136.7V145.0M399.5 138.5V144.6M400.5 140.5V144.6M401.5 139.9V143.9M402.5 139.4V144.5M403.5 139.6V145.8M404.5 139.1V145.5M405.5 139.6V145.4M406.5 139.1V145.0M407.5 138.4V144.4M408.5 139.3V144.6M409.5 134.0V144.7M410.5 138.9V146.1M411.5 138.9V144.4M412.5 139.3V144.2M413.5 139.1V145.3M414.5 139.8V144.4M415.5 138.5V145.1M416.5 139.2V144.5M417.5 140.4V145.0M418.5 139.2V145.6M419.5 140.0V145.1M420.5 140.0V145.0M421.5 140.1V144.0M422.5 139.7V143.8M423.5 138.5V145.8M424.5 137.8V145.6M425.5 139.1V144.6M426.5 138.4V144.0M427.5 139.0V146.6M428.5 127.0V143.7M429.5 138.3V145.1M430.5 139.4V144.7M431.5 139.0V144.4M432.5 137.8V144.2M433.5 138.7V145.6M434.5 139.0V144.7M435.5 139.1V144.7M436.5 139.1V143.6M437.5 139.3V145.1M438.5 139.0V145.7M439.5 139.5V144.7M440.5 138.8V145.1M441.5 139.5V144.8M442.5 138.9V144.6M443.5 138.9V144.9M444.5 139.6V144.6M445.5 139.2V144.0M446.5 139.1V143.8M447.5 137.7V145.2M448.5 137.7V144.2M449.5 137.5V144.7M450.5 139.5V147.0M451.5 139.8V145.7M452.5 139.7V144.4M453.5 139.4V144.7M454.5 139.3V144.7M455.5 138.4V143.9M456.5 139.8V144.3M457.5 138.0V146.3M458.5 133.0V152.0M459.5 139.4V145.7M460.5 139.5V145.1M461.5 139.8V145.9M462.5 139.0V145.4M463.5 139.1V144.7M464.5 138.5V143.8M465.5 139.1V145.5M466.5 140.3V145.0M467.5 139.1V144.9M468.5 140.0V145.1M469.5 139.8V144.5M470.5 139.7V144.7M471.5 139.8V144.6M472.5 138.6V143.7M473.5 139.5V143.9M474.5 140.3V145.0M475.5 138.9V143.2M476.5 139.3V145.1M477.5 138.9V145.1M478.5 138.4V146.2M479.5 138.7V144.8M480.5 140.3V143.5M481.5 138.2V145.2M482.5 138.4V145.1M483.5 140.4V150.0M484.5 139.1V145.4M485.5 139.2V144.6M486.5 139.6V145.8M487.5 139.1V144.9M488.5 139.2V145.1M489.5 139.7V145.3M490.5 139.9V144.6M491.5 139.9V144.3M492.5 139.4V145.7M493.5 139.0V143.8M494.5 138.4V144.2M495.5 140.0V145.2M496.5 140.2V143.9M497.5 139.1V144.0M498.5 139.0V143.8M499.5 140.0V144.0M500.5 139.6V147.2M501.5 138.7V144.9M502.5 138.5V146.5M503.5 139.1V143.4M504.5 139.0V143.1M505.5 139.4V144.3M506.5 137.3V145.2M507.5 140.1V145.3M508.5 139.5V144.9M509.5 139.6V143.5M510.5 133.0V146.3M511.5 139.3V144.8M512.5 140.1V144.9M513.5 137.6V145.0M514.5 138.3V144.9M515.5 139.6V144.7M516.5 138.9V144.4M517.5 138.3V145.7M518.5 138.4V144.4M519.5 135.0V143.4M520.5 138.7V145.4M521.5 139.4V145.7M522.5 140.2V145.2M523.5 139.8V144.6M524.5 140.1V144.5M525.5 138.6V145.2M526.5 138.9V144.3M527.5 139.8V145.3M528.5 139.8V145.1M529.5 139.3V144.5M530.5 139.8V144.0M531.5 138.7V144.9M532.5 136.0V144.2M533.5 138.6V143.6M534.5 139.5V144.6M535.5 139.0V144.7M536.5 138.9V145.0M537.5 139.3V146.2M538.5 140.3V143.4M539.5 138.5V145.0M540.5 137.0V146.7M541.5 139.9V144.5M542.5 139.0V144.3M543.5 140.4V144.5M544.5 138.9V145.3M545.5 139.4V144.5M546.5 139.5V144.1M547.5 139.7V143.5M548.5 139.7V145.4M549.5 139.6V145.5M550.5 139.5V144.6M551.5 138.4V146.4M552.5 138.8V144.3M553.5 140.2V145.0M554.5 138.5V143.8M555.5 139.6V144.0M556.5 139.7V145.4M557.5 139.0V144.9M558.5 139.5V145.0M559.5 138.8V145.6M560.5 139.5V144.3M561.5 138.9V144.5M562.5 139.2V144.4M563.5 139.5V145.0M564.5 139.1V145.1M565.5 139.7V145.7M566.5 138.1V143.5M567.5 139.5V145.4M568.5 140.1V144.7M569.5 138.4V146.7M570.5 137.7V144.8M571.5 139.7V145.7M572.5 139.9V145.1M573.5 140.5V143.7M574.5 139.8V145.2M575.5 139.8V143.9M576.5 138.7V145.4M577.5 133.0V144.7M578.5 138.8V143.7M579.5 138.7V145.6M580.5 138.8V144.4M581.5 139.2V144.6M582.5 139.5V145.8M583.5 136.7V144.7M584.5 139.3V144.4M585.5 138.8V145.7M586.5 139.2V144.6M587.5 139.5V144.5M588.5 139.6V143.4M589.5 138.2V145.6M590.5 139.5V146.0M591.5 139.1V145.8M592.5 138.7V144.0M593.5 139.4V145.2M594.5 140.2V145.5M595.5 138.4V145.0M596.5 137.5V144.6M597.5 137.8V143.7M598.5 140.5V144.7M599.5 139.1V144.3M600.5 138.9V143.5M601.5 135.0V145.0M602.5 138.3V144.5M603.5 138.1V144.5M604.5 139.0V147.3M605.5 139.5V144.3M606.5 138.1V143.7M607.5 138.7V144.1M608.5 138.9V144.9M609.5 139.3V144.5M610.5 139.4V144.3M611.5 140.0V143.3M612.5 139.5V144.1M613.5 139.9V143.9M614.5 140.1V144.5M615.5 138.6V144.1M616.5 139.0V144.2M617.5 140.0V144.8M618.5 139.5V144.1M619.5 139.3V144.8M620.5 137.6V142.5M621.5 138.1V143.8M622.5 138.7V151.0M623.5 139.5V144.7M624.5 137.9V143.9M625.5 138.4V144.5M626.5 137.9V144.2M627.5 139.5V144.4M628.5 139.9V145.5M629.5 140.3V144.3M630.5 138.1V144.7M631.5 138.8V144.1M632.5 138.6V144.2M633.5 138.9V144.5M634.5 140.3V144.6M635.5 138.9V144.3M636.5 139.2V144.7M637.5 139.4V144.6M638.5 139.0V144.6M639.5 137.8V145.0M640.5 139.1V144.4M641.5 139.7V145.5M642.5 137.4V144.9M643.5 138.8V145.4M644.5 137.3V144.5M645.5 139.9V145.3M646.5 139.3V144.6M647.5 139.3V143.6M648.5 139.1V144.6M649.5 136.0V149.0M650.5 139.3V143.7M651.5 139.1V144.0M652.5 139.2V144.2M653.5 139.3V146.8M654.5 139.4V144.8M655.5 140.2V145.7M656.5 138.4V145.2M657.5 139.5V145.2M658.5 138.9V145.1M659.5 138.6V143.7M660.5 136.6V146.4M661.5 139.7V144.0M662.5 138.7V145.8M663.5 138.7V144.5M664.5 139.6V157.0M665.5 138.6V145.3M666.5 139.0V146.5M667.5 138.7V144.9M668.5 139.8V144.6M669.5 139.9V145.1M670.5 138.8V146.0M671.5 139.8V144.9M672.5 139.2V144.6M673.5 139.4V143.9M674.5 139.2V144.1M675.5 139.8V144.5M676.5 138.6V145.0M677.5 139.5V145.0M678.5 140.0V144.5M679.5 139.1V144.8M680.5 140.5V146.2M681.5 138.6V145.7M682.5 138.9V145.6M683.5 136.8V145.7M684.5 137.9V147.0M685.5 137.4V145.7M686.5 137.0V143.8M687.5 137.5V144.3M688.5 136.8V144.7M689.5 137.3V144.8M690.5 137.7V145.4M691.5 135.6V143.5M692.5 136.8V144.7" stroke="#000" stroke-width="1.3" fill="none"/>
</svg>
</body></html>
